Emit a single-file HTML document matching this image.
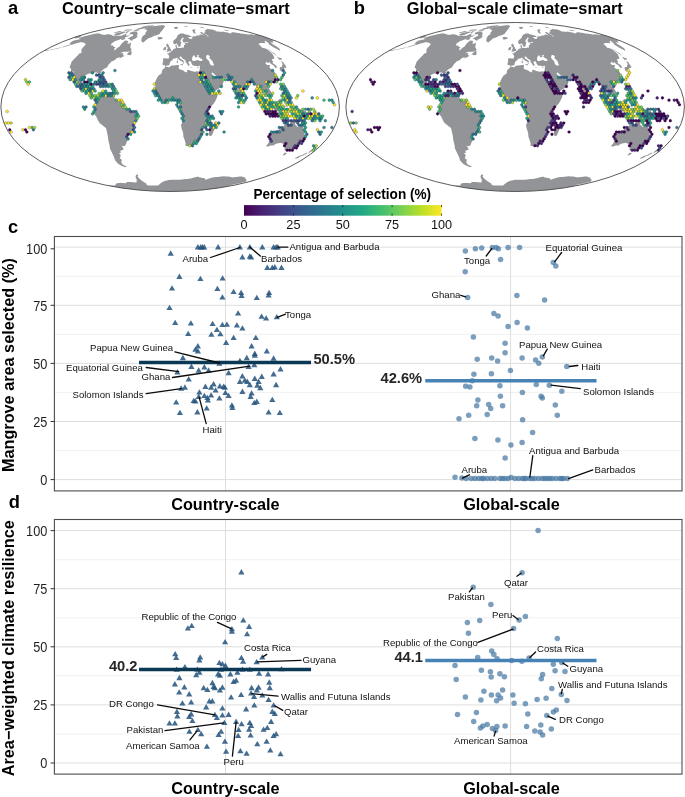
<!DOCTYPE html>
<html><head><meta charset="utf-8"><title>Figure</title>
<style>
html,body{margin:0;padding:0;background:#fff;}
body{width:685px;height:797px;overflow:hidden;font-family:"Liberation Sans",sans-serif;}
svg{display:block;font-family:"Liberation Sans",sans-serif;will-change:transform;}
.b{font-weight:bold;}
</style></head><body>
<svg width="685" height="797" viewBox="0 0 685 797">
<rect width="685" height="797" fill="#fff"/>
<g>
<path d="M79.5,37.8L83.4,36.6L87.4,35.4L89.5,34.9L91.6,34.4L93.6,33.9L94.9,33.7L96.1,33.5L97.4,33.4L98.6,33.2L98.8,33.3L99.0,33.4L99.3,33.5L99.5,33.7L99.7,33.8L100.1,33.9L100.5,34.0L100.9,34.1L101.3,34.2L101.7,34.4L102.1,34.5L102.5,34.6L102.9,34.7L103.4,34.8L103.8,35.0L104.9,34.8L106.0,34.6L107.0,34.5L108.1,34.3L109.1,34.2L109.4,34.3L109.8,34.4L110.1,34.6L110.6,34.7L111.1,34.8L111.6,34.9L112.2,35.0L112.3,35.2L112.4,35.5L112.5,35.8L113.3,35.8L114.0,35.8L114.8,35.8L115.5,35.8L116.3,35.8L117.1,35.8L117.8,35.8L118.6,35.8L119.3,35.8L120.1,35.8L120.9,35.8L121.6,35.8L123.5,34.8L125.5,33.9L127.5,33.0L126.9,33.7L126.4,34.3L125.9,35.0L126.2,35.2L126.4,35.5L126.7,35.8L127.9,35.4L129.2,35.0L130.5,34.6L129.1,35.6L127.8,36.6L126.6,36.8L125.5,37.1L124.3,37.4L122.6,38.2L120.9,39.1L119.7,39.5L118.4,39.9L117.1,40.4L115.8,40.8L113.7,42.1L111.6,43.5L111.1,44.4L110.7,45.3L111.5,45.5L112.3,45.6L113.1,45.8L113.5,46.3L114.0,46.9L114.7,47.0L115.5,47.2L114.8,48.1L114.0,49.1L114.4,49.8L114.9,50.5L116.0,49.3L117.1,48.1L118.5,47.2L119.8,46.2L120.6,45.1L121.3,43.9L122.5,42.8L123.6,41.7L125.3,40.4L126.0,40.5L126.8,40.7L127.5,40.8L127.9,41.2L128.4,41.7L127.7,42.6L127.1,43.5L127.7,43.5L128.4,43.6L129.1,43.7L131.1,42.3L130.9,43.6L130.7,44.8L130.5,46.0L130.3,47.2L130.7,48.0L131.1,48.8L131.5,49.5L131.0,50.5L129.8,50.9L128.6,51.4L127.4,51.8L126.4,51.8L125.3,51.8L124.2,51.8L123.2,51.8L121.6,52.6L120.0,53.5L121.0,53.3L122.1,53.1L123.2,53.0L122.7,54.5L123.2,55.0L123.8,55.5L124.4,56.0L122.9,56.7L121.4,57.5L120.4,58.0L119.3,58.5L119.8,57.0L118.6,57.5L117.4,58.0L116.2,58.5L115.0,60.1L113.8,60.6L112.7,61.1L111.5,61.6L110.2,62.9L108.9,64.2L107.9,65.8L107.0,67.4L105.7,68.1L104.3,68.7L102.7,70.0L101.2,71.2L100.7,72.9L100.3,74.5L99.9,76.2L99.6,77.2L99.2,78.2L98.2,77.8L98.2,76.4L98.2,75.1L98.0,74.0L97.9,72.9L97.1,72.7L96.3,72.5L95.3,72.6L94.3,72.6L93.3,72.6L92.7,74.0L91.9,73.8L91.1,73.6L90.1,73.5L89.0,73.4L87.4,74.2L85.7,75.1L84.8,76.7L83.9,78.4L83.1,80.1L82.4,81.8L82.6,83.4L83.0,85.1L84.1,86.1L85.3,85.8L86.5,85.6L87.5,84.2L88.6,82.9L89.7,82.7L90.8,82.5L91.9,82.3L91.3,83.7L90.7,85.1L89.9,86.9L89.1,88.6L90.2,88.6L91.2,88.7L92.3,89.0L93.4,89.4L93.1,91.0L92.8,92.6L92.5,93.5L92.3,94.5L92.7,95.4L93.2,96.4L94.4,96.4L95.5,96.4L96.5,96.0L97.2,96.5L98.0,97.1L98.4,97.7L99.1,96.3L99.9,94.9L101.4,94.1L102.4,93.5L103.4,92.9L103.7,94.5L105.2,93.1L106.1,93.9L106.9,94.6L108.0,94.8L109.0,94.9L110.1,95.1L111.3,94.9L112.5,94.6L113.3,96.0L114.5,97.7L115.6,98.9L116.7,100.1L118.1,100.2L119.5,100.3L120.7,101.0L121.8,101.8L122.5,103.5L123.1,105.3L123.1,107.0L124.1,107.6L125.0,108.2L126.1,108.7L127.2,109.3L128.3,109.9L129.7,110.2L131.2,110.5L132.6,110.9L134.0,111.4L135.0,112.0L136.0,112.6L137.0,113.1L137.3,114.4L137.6,115.7L137.0,117.0L136.4,118.4L135.8,119.7L135.0,120.9L134.2,122.0L134.3,123.5L134.4,125.1L134.5,126.6L134.2,128.3L134.0,130.0L133.7,131.1L133.4,132.2L132.1,132.8L130.8,133.4L129.8,133.9L128.8,134.5L128.1,135.6L127.5,136.7L127.6,138.1L127.8,139.5L127.2,140.9L126.6,142.2L125.9,143.9L125.4,145.5L124.5,145.9L123.6,146.3L122.5,145.9L121.3,145.5L122.3,146.8L123.3,148.2L123.4,149.8L122.3,150.1L121.3,150.5L120.3,150.8L120.6,151.9L120.8,152.9L119.8,152.9L118.8,152.9L120.5,154.5L120.5,155.8L120.5,157.0L120.0,157.5L119.6,158.0L120.7,158.9L121.9,159.8L121.5,160.9L121.3,162.0L121.7,163.0L122.2,164.0L123.4,164.9L124.5,165.5L125.6,166.1L126.7,166.6L126.2,166.9L125.6,167.1L125.0,167.3L123.5,166.6L121.9,165.9L120.2,164.9L118.4,164.0L117.2,162.7L116.0,161.4L114.9,160.0L114.5,158.5L114.1,157.0L113.4,155.7L112.7,154.3L112.1,152.9L111.4,151.5L110.7,150.1L110.0,148.7L109.8,147.3L109.6,145.8L109.4,144.4L109.0,143.0L108.6,141.5L108.3,140.0L108.1,138.6L107.9,137.1L107.8,135.6L107.4,134.2L107.1,132.8L106.8,131.4L106.5,130.0L106.2,129.0L106.0,128.1L104.6,127.0L103.3,126.0L102.1,125.1L100.9,124.1L99.7,123.2L99.0,122.0L98.3,120.9L97.6,119.5L97.0,118.2L96.4,116.8L95.3,115.4L94.2,113.9L93.9,112.2L95.0,110.5L94.1,109.5L94.3,108.6L94.5,107.6L94.9,105.8L96.1,105.3L96.7,103.8L97.4,102.4L97.5,100.9L97.6,99.5L97.2,98.6L96.8,97.2L96.0,96.6L94.9,98.3L94.0,98.0L92.6,97.4L91.8,96.4L91.0,95.4L90.4,94.3L89.8,93.1L89.2,92.0L88.1,91.5L87.0,91.1L86.1,90.6L85.2,90.2L84.3,89.2L83.5,88.3L82.3,88.6L81.1,88.8L79.9,88.1L78.7,87.4L77.7,86.9L76.8,86.4L75.9,85.9L75.3,85.0L74.7,84.0L75.1,82.9L75.5,81.8L75.0,80.1L74.6,78.4L74.3,77.0L74.1,75.6L73.6,74.5L73.1,73.4L73.4,72.4L73.8,71.4L73.1,71.3L72.4,71.2L71.7,72.9L71.6,74.5L71.7,76.2L71.9,77.6L72.1,79.0L72.3,80.6L71.8,80.3L71.4,79.3L71.1,78.4L70.8,77.0L70.6,75.6L70.7,74.2L70.8,72.9L71.0,71.5L71.2,70.1L71.0,68.5L70.3,68.2L69.7,68.0L69.9,66.7L70.2,65.5L70.8,64.2L71.2,63.0L71.6,61.8L72.8,60.4L74.0,59.0L75.2,57.9L76.3,56.8L77.5,55.7L78.4,54.6L79.3,53.6L80.3,53.3L81.2,53.0L81.4,52.2L81.5,51.5L81.4,50.8L81.3,50.0L82.0,48.8L82.8,47.6L83.7,46.7L84.6,45.8L85.3,44.8L86.0,43.9L85.4,43.8L84.9,43.7L84.7,43.2L84.6,42.8L83.9,42.7L83.2,42.6L82.5,42.6L82.0,42.4L81.5,42.3L81.0,42.1L79.5,42.5L78.0,42.9L76.6,43.3L74.7,43.8L72.9,44.4L70.7,45.1L68.4,45.8L66.7,46.2L65.0,46.7L63.2,47.2L62.2,47.3L61.1,47.5L60.1,47.6L62.3,46.9L64.6,46.2L66.8,45.5L69.1,44.7L71.3,43.9L70.6,43.8L70.0,43.8L69.3,43.7L70.3,42.8L71.3,41.9L73.1,40.8L76.0,39.9L77.3,39.7L78.5,39.5L79.7,39.3L81.1,38.7L80.4,38.7L79.7,38.7L78.9,38.7L79.2,38.2ZM145.2,28.3L146.3,28.0L147.3,27.7L148.3,27.4L149.3,27.1L150.3,26.9L151.2,26.7L152.1,26.4L153.1,26.2L153.6,26.2L154.1,26.1L154.7,26.0L155.2,26.0L155.7,25.9L156.2,25.9L156.7,25.8L157.2,25.8L157.7,25.7L158.3,25.6L158.8,25.6L159.3,25.5L159.7,25.4L160.2,25.4L160.7,25.3L161.2,25.2L161.6,25.2L162.1,25.1L162.3,25.1L162.6,25.2L162.9,25.2L163.2,25.2L163.5,25.3L163.8,25.3L164.1,25.4L164.3,25.5L164.5,25.7L164.7,25.9L164.9,26.0L165.2,26.2L164.7,26.9L164.1,27.6L163.6,28.4L162.9,29.4L162.2,30.4L161.3,31.5L160.3,32.6L159.8,33.8L159.0,34.2L158.2,34.6L157.4,35.0L156.7,35.2L155.9,35.4L155.2,35.6L154.5,35.8L153.6,36.2L152.7,36.6L151.9,37.0L151.0,37.4L150.1,37.7L149.2,38.0L148.3,38.2L146.8,39.5L145.3,40.8L144.3,41.7L143.4,42.6L142.7,42.2L142.0,41.9L141.6,41.1L141.2,40.4L141.5,39.1L141.8,37.8L142.4,36.8L143.1,35.8L144.2,35.0L145.4,34.2L145.4,33.4L145.6,32.6L146.4,31.5L147.3,30.4L147.0,30.2L146.8,30.0L146.6,29.8L146.4,29.6L145.9,29.5L145.4,29.5L145.0,29.4L144.5,29.4L144.7,29.0L145.0,28.6ZM136.6,31.4L136.8,31.6L137.0,31.8L137.2,32.0L137.2,32.4L137.3,32.7L137.4,33.0L137.5,33.4L137.6,33.8L137.7,34.2L137.2,35.0L136.8,35.8L137.1,36.1L137.4,36.4L137.8,36.7L136.7,37.5L135.7,38.2L134.3,38.9L132.8,39.5L132.2,40.8L131.5,40.6L130.8,40.4L130.4,40.0L130.0,39.7L129.6,39.3L129.1,39.0L128.7,38.7L128.0,38.5L127.3,38.4L128.5,37.9L129.6,37.4L131.4,36.6L133.2,35.8L133.1,35.4L133.1,35.0L133.0,34.6L133.0,34.2L132.2,34.2L131.5,34.2L130.8,34.2L130.1,34.2L129.9,33.9L129.7,33.7L129.5,33.4L130.6,32.6L131.8,31.9L132.7,31.7L133.6,31.5L134.5,31.4L135.0,31.4L135.5,31.4L136.1,31.4ZM117.0,33.0L118.2,32.7L119.5,32.4L120.7,32.2L121.9,31.9L122.8,31.8L123.6,31.7L124.5,31.6L125.3,31.5L125.2,31.8L125.2,32.1L125.1,32.4L125.1,32.6L122.0,33.8L119.0,35.0L118.1,35.1L117.2,35.2L116.3,35.3L115.3,35.4L115.0,35.2L114.6,35.0L114.3,34.8L114.0,34.6L115.5,33.8ZM114.3,32.6L117.0,31.8L119.8,30.9L120.2,31.0L120.7,31.0L121.1,31.1L121.6,31.1L122.1,31.2L118.8,32.3L117.6,32.5L116.3,32.7L115.0,33.0L113.7,33.2L114.0,32.9ZM136.7,29.4L137.1,29.4L137.6,29.4L138.0,29.5L138.5,29.5L138.9,29.5L139.4,29.5L140.3,29.3L141.1,29.1L142.0,28.9L142.9,28.7L143.9,28.5L144.8,28.2L145.7,28.0L146.7,27.7L147.7,27.5L148.7,27.2L149.6,27.0L150.6,26.7L151.6,26.5L153.0,26.1L154.4,25.6L154.2,25.6L154.0,25.5L153.8,25.5L153.7,25.4L153.5,25.4L153.3,25.3L153.0,25.3L152.6,25.3L152.2,25.3L151.8,25.3L151.5,25.3L151.1,25.4L150.7,25.4L150.1,25.4L149.5,25.5L148.9,25.6L148.2,25.7L147.6,25.8L147.0,25.8L146.3,25.9L145.2,26.1L144.2,26.4L143.1,26.6L142.0,26.8L142.0,26.9L142.1,27.1L142.1,27.2L142.2,27.3L142.3,27.4L141.5,27.6L140.6,27.7L139.8,27.9L138.9,28.1L137.8,28.7ZM135.9,29.4L136.3,29.5L136.8,29.5L137.2,29.6L137.6,29.6L138.1,29.7L138.5,29.8L139.0,29.8L139.4,29.9L137.9,30.7L137.3,30.7L136.7,30.7L136.1,30.7L135.5,30.7L134.9,30.7L134.3,30.7L133.7,30.7L133.1,30.7L134.5,30.0ZM125.6,29.7L126.3,29.7L127.1,29.6L127.8,29.6L128.5,29.5L129.3,29.5L130.0,29.4L130.4,29.4L130.8,29.4L131.3,29.5L131.7,29.5L132.2,29.5L132.6,29.5L131.9,30.0L131.2,30.4L130.6,30.4L130.0,30.4L129.5,30.4L128.9,30.4L128.4,30.4L127.7,30.5L126.9,30.6L126.2,30.7L125.5,30.8L125.1,30.7L124.7,30.7L124.3,30.6L124.0,30.5L123.6,30.4ZM127.5,31.3L128.1,31.3L128.6,31.3L129.1,31.3L129.6,31.3L128.6,32.0L127.7,32.6L126.9,32.8L126.1,33.0L125.9,32.8L125.7,32.6L125.6,32.4L125.4,32.3ZM123.2,37.8L124.3,37.6L125.4,37.4L125.3,38.0L125.2,38.5L125.1,39.1L123.8,39.6L122.5,40.1L121.9,39.9L121.4,39.7L120.9,39.5L122.0,38.7ZM126.6,54.3L128.0,52.9L129.4,51.5L130.4,51.0L131.4,50.4L131.4,51.4L131.5,52.4L131.6,53.5L131.1,55.0L130.0,55.3L129.3,55.1L128.7,55.0L128.0,54.7L127.3,54.5ZM93.9,81.8L95.4,81.1L97.0,80.4L98.1,80.7L99.2,80.9L100.3,81.2L101.2,82.1L102.1,82.9L103.1,83.8L102.0,83.9L101.0,84.0L100.0,84.1L99.8,83.2L98.6,82.5L97.5,81.8L96.6,81.8L95.7,81.8L94.8,81.8ZM102.4,85.7L103.3,84.9L104.3,84.1L105.5,84.2L106.8,84.2L107.3,84.9L107.9,85.6L106.9,85.8L105.9,86.1L104.7,86.5L103.5,86.1ZM98.9,85.8L99.8,85.9L100.7,85.9L99.9,86.5ZM157.2,37.8L157.9,37.4L158.5,37.1L159.2,37.1L159.9,37.1L160.6,37.1L161.2,37.2L161.8,37.3L162.4,37.4L162.8,38.2L161.8,38.9L161.0,39.1L160.2,39.4L159.4,39.6L158.8,39.5L158.1,39.3L157.5,39.2L158.1,38.4L157.6,38.1ZM162.8,65.3L162.6,64.3L162.5,63.4L162.9,62.2L163.2,61.1L163.1,59.9L163.0,58.8L164.0,58.2L165.0,58.3L166.0,58.4L167.1,58.5L167.9,58.6L168.8,58.6L169.0,57.3L169.3,56.0L168.3,54.7L167.5,54.1L166.7,53.6L167.5,53.5L168.3,53.4L169.1,53.3L168.9,52.3L169.6,52.4L170.3,52.5L171.3,51.1L171.9,50.9L172.6,50.6L173.0,49.8L173.4,49.1L174.1,48.8L174.9,48.6L175.5,48.4L176.0,48.1L175.6,46.7L175.4,45.3L176.1,45.0L176.8,44.7L176.8,45.4L176.9,46.2L176.7,47.2L177.6,48.1L178.5,47.7L179.2,47.9L179.8,48.1L180.7,47.9L181.6,47.7L182.5,47.5L183.6,47.7L184.0,46.7L183.8,45.3L184.5,44.8L185.1,44.9L185.7,45.1L184.9,43.9L184.8,43.2L185.6,43.1L186.5,43.0L187.3,42.9L187.9,42.8L188.4,42.6L187.3,42.1L186.7,42.2L186.0,42.3L185.3,42.4L184.6,42.5L183.8,42.6L182.9,41.7L182.7,40.8L182.4,39.9L183.0,39.2L183.6,38.4L183.8,37.8L182.9,37.7L182.1,37.6L182.0,38.7L181.5,39.1L181.0,39.6L180.5,40.1L180.5,40.9L180.4,41.7L181.0,42.1L181.6,42.6L181.1,43.3L180.6,43.9L180.7,44.8L180.8,45.8L180.2,46.2L179.6,46.7L178.6,46.7L178.0,45.5L177.4,44.4L176.6,43.2L175.9,43.7L175.2,44.2L174.4,43.9L173.6,43.7L173.4,42.7L173.1,41.7L173.6,40.4L174.4,39.8L175.2,39.3L175.9,38.5L176.6,37.8L176.9,37.0L177.1,36.2L177.6,35.6L178.1,35.1L178.6,34.6L179.2,34.2L179.8,34.0L180.3,33.8L180.8,33.5L181.5,33.5L182.2,33.4L182.9,33.5L183.6,33.5L184.3,33.9L184.9,34.2L185.7,34.4L186.4,34.6L187.1,34.8L187.7,34.9L188.4,35.0L189.3,35.4L190.2,35.8L191.2,36.2L191.6,37.1L191.0,37.1L190.3,37.1L189.7,37.1L189.0,37.0L188.4,36.9L187.7,36.8L188.3,37.5L189.0,38.2L189.9,38.7L190.8,39.1L191.5,38.8L192.2,38.5L191.7,37.4L192.3,37.3L192.9,37.3L193.5,37.2L192.9,36.4L192.2,35.5L193.4,36.0L194.6,36.6L195.1,36.3L195.7,36.0L196.2,35.8L196.7,35.5L197.4,35.5L198.0,35.4L198.7,35.4L199.3,35.3L200.0,35.3L199.4,34.3L200.2,34.5L201.0,34.6L201.8,34.8L202.6,35.0L203.3,35.2L204.1,35.4L202.6,34.4L201.1,33.4L200.5,32.6L199.9,31.9L200.6,32.0L201.3,32.1L202.0,32.3L203.7,33.4L205.5,34.6L207.3,35.8L208.0,37.0L208.3,36.8L208.6,36.6L207.8,35.8L207.0,35.0L205.4,34.0L203.8,33.0L203.9,32.8L204.1,32.6L204.5,32.5L204.9,32.4L205.2,32.3L204.4,31.5L204.9,31.4L205.3,31.3L205.8,31.2L206.2,31.2L204.8,30.4L205.0,30.3L205.2,30.1L205.4,29.9L205.6,29.7L205.9,29.7L206.3,29.6L206.7,29.5L207.0,29.5L207.3,29.4L207.2,29.1L207.0,28.9L206.8,28.6L208.1,28.9L209.4,29.2L210.3,29.3L211.3,29.5L212.2,29.6L213.2,29.7L214.9,30.4L216.6,31.2L216.4,31.3L216.2,31.4L215.9,31.5L215.7,31.7L216.3,31.6L216.8,31.6L217.4,31.6L217.9,31.5L218.8,31.6L219.6,31.7L220.5,31.8L221.4,31.9L221.7,31.8L222.0,31.7L222.3,31.6L222.6,31.5L224.1,31.9L225.7,32.3L227.3,32.6L228.9,33.1L230.6,33.5L230.8,33.4L231.0,33.3L231.3,33.1L231.5,33.0L231.5,32.8L231.5,32.6L231.6,32.4L231.6,32.3L232.3,32.3L233.0,32.3L233.7,32.3L234.4,32.4L235.1,32.4L236.4,32.7L237.7,32.9L239.0,33.1L240.3,33.4L241.3,33.5L242.4,33.7L243.4,33.8L244.4,33.9L245.4,34.0L246.4,34.2L247.5,34.4L248.6,34.6L249.0,34.5L249.4,34.4L249.8,34.3L250.2,34.2L252.2,34.6L254.2,35.0L254.6,34.9L255.0,34.8L255.4,34.7L255.8,34.6L257.2,34.8L258.6,35.0L262.0,36.0L265.3,37.1L268.5,38.2L268.5,38.4L268.6,38.7L271.1,39.5L273.7,40.4L273.3,40.5L272.9,40.7L272.4,40.8L272.8,41.2L273.1,41.7L273.3,42.1L273.6,42.6L272.8,42.6L272.1,42.6L271.3,42.6L270.5,42.6L271.8,43.5L273.1,44.4L275.4,45.8L277.7,47.2L278.7,48.1L279.7,49.1L280.0,49.7L280.2,50.4L280.5,51.0L278.2,49.7L275.8,48.4L273.4,47.2L271.5,46.0L269.5,44.8L269.2,44.2L268.7,43.5L268.0,42.8L267.2,42.1L266.3,41.5L265.4,40.8L265.0,41.0L264.6,41.2L264.8,41.7L265.0,42.1L265.1,42.6L265.1,42.9L265.1,43.2L264.2,43.1L263.2,43.1L262.3,43.0L261.6,43.1L260.9,43.1L260.2,43.2L259.6,43.2L259.2,43.4L258.8,43.7L258.4,43.9L259.9,45.3L261.3,46.7L262.5,48.1L263.2,48.1L263.9,48.1L265.3,48.6L266.7,49.1L267.9,50.0L269.1,51.0L270.9,52.5L272.6,54.0L273.1,55.0L273.6,56.0L274.0,57.3L274.3,58.7L273.3,58.9L272.3,59.0L271.9,59.7L272.6,60.9L273.3,62.1L272.8,62.4L272.2,62.7L274.1,64.0L275.9,65.3L276.5,66.3L277.2,67.2L276.5,67.7L275.7,68.1L274.6,66.7L273.4,65.3L271.5,64.2L270.4,63.2L269.3,62.1L268.6,62.7L267.8,63.2L266.9,61.6L266.3,62.3L265.7,63.0L265.3,63.7L267.3,65.1L268.2,65.0L269.1,64.9L270.0,64.9L269.8,65.9L269.5,66.9L269.6,67.7L271.1,68.9L272.5,70.1L273.6,71.2L274.8,72.3L275.3,73.6L275.8,74.8L275.7,76.3L275.6,77.8L275.0,79.0L274.4,80.1L273.4,80.7L272.3,81.4L271.4,81.8L270.5,82.2L269.6,82.5L269.6,83.7L267.6,82.1L266.6,82.9L266.4,84.0L266.2,85.1L267.5,86.6L268.6,88.0L269.5,89.3L270.4,90.7L271.2,92.0L271.4,93.7L270.5,94.4L269.6,95.1L268.9,96.0L268.2,96.9L267.8,95.4L266.8,94.9L265.9,94.3L264.6,92.6L263.4,91.5L262.8,92.6L262.7,93.7L262.6,94.9L263.2,96.2L263.9,97.5L265.2,99.1L266.7,100.6L267.3,102.4L267.7,103.9L268.1,105.4L267.4,105.3L266.3,104.5L265.3,103.8L264.8,102.2L264.2,100.6L263.3,98.9L262.0,97.7L262.0,96.6L261.9,95.4L261.7,94.0L261.5,92.6L260.8,91.1L260.1,89.7L259.7,88.7L259.2,87.8L258.4,88.3L257.7,88.8L256.7,88.6L256.5,87.4L256.3,86.3L255.5,85.1L254.8,84.0L252.9,82.3L252.1,81.2L251.2,81.2L250.1,82.0L249.2,82.2L248.4,82.3L248.4,84.0L247.2,84.6L246.4,86.2L245.5,87.9L244.7,88.5L243.9,89.1L244.1,90.4L244.4,91.6L244.4,93.4L244.4,95.1L243.8,96.2L243.1,96.7L242.6,97.6L241.3,96.0L240.8,94.7L240.2,93.5L239.7,92.5L239.2,91.4L238.5,90.0L237.9,88.6L237.1,86.9L236.3,85.1L236.0,84.0L235.8,82.9L235.2,81.8L234.2,83.1L233.2,82.3L232.2,81.4L233.0,80.6L232.0,80.3L231.0,80.0L229.8,78.6L228.5,78.4L227.2,78.2L225.8,78.2L224.5,78.2L223.4,78.0L222.4,77.9L221.3,77.7L220.1,76.2L219.2,76.3L218.4,76.5L217.2,76.1L216.0,75.6L215.0,74.8L214.1,74.0L212.7,72.6L211.4,72.9L212.2,74.5L213.1,75.5L214.0,76.5L214.5,77.8L215.2,77.3L215.9,79.0L217.0,79.1L218.1,79.3L218.9,78.1L219.7,76.9L220.0,78.0L220.3,79.0L221.4,79.5L222.4,80.0L223.7,81.2L223.3,82.3L223.0,83.4L222.6,85.1L221.7,86.3L220.5,87.4L219.3,88.2L218.1,89.0L217.2,89.6L216.3,90.2L215.4,90.8L214.2,91.3L213.0,91.8L211.8,92.2L210.4,92.3L210.0,91.1L209.6,89.9L209.3,89.0L209.1,88.0L208.0,86.3L206.9,84.6L206.0,83.4L205.2,82.3L204.6,80.9L203.9,79.5L203.1,78.4L202.3,77.3L201.4,76.2L200.6,75.1L200.2,73.4L200.1,74.3L200.0,75.3L199.1,74.1L198.2,72.9L197.7,71.6L198.5,71.5L199.3,71.4L199.5,70.5L199.7,69.6L199.8,68.2L199.9,66.9L199.7,65.6L198.5,65.9L197.3,66.3L196.3,66.0L195.2,65.8L194.1,65.7L193.1,65.6L192.3,64.8L191.8,63.9L191.3,63.0L191.2,61.9L190.7,61.4L189.9,61.3L189.1,61.3L188.9,62.1L188.2,61.7L188.6,63.0L189.6,64.2L189.2,65.8L188.6,65.8L187.9,65.5L187.3,63.9L186.5,62.9L185.6,61.8L185.5,60.9L185.4,60.1L184.1,59.4L182.9,58.7L182.0,57.7L181.1,56.8L180.5,56.4L179.4,56.7L179.6,57.8L180.8,59.0L181.8,59.6L182.7,60.3L183.8,61.1L184.9,61.9L183.6,61.6L183.4,63.2L183.8,63.4L182.9,64.3L182.8,63.2L182.7,62.1L182.0,61.6L181.2,61.1L180.5,60.7L179.7,60.3L179.0,59.6L178.3,59.0L177.6,58.3L176.9,57.6L175.9,58.2L175.0,58.5L174.0,58.7L173.3,58.8L172.6,58.8L172.7,60.2L171.7,60.6L170.8,61.1L169.9,62.7L169.7,63.6L169.6,64.5L168.5,65.5L167.5,65.6L166.5,65.6L165.5,66.4L165.0,65.5L164.0,65.1ZM61.1,47.3L59.3,47.7L57.5,48.1L55.7,48.5L54.0,49.0L52.5,49.2L51.0,49.5L49.6,49.7L48.1,49.9L47.1,50.0L46.0,50.1L45.0,50.1L43.8,50.8L44.8,50.7L45.9,50.7L46.9,50.6L48.4,50.4L49.8,50.1L51.3,49.9L52.8,49.6L54.6,49.2L56.3,48.8L58.1,48.4L59.9,47.9ZM81.7,35.0L81.5,35.2L81.4,35.5L81.2,35.8L81.1,36.0L80.9,36.3L80.8,36.6L80.1,37.0L79.5,37.4L77.1,38.0L74.8,38.7L74.9,38.4L75.0,38.1L75.1,37.8L75.5,37.5L76.0,37.1L73.9,37.7L71.8,38.2L75.0,37.1L78.3,36.0ZM166.1,52.0L166.9,51.8L167.7,51.7L168.5,51.5L169.4,51.3L170.2,51.1L171.1,50.9L171.2,50.1L171.3,49.4L170.4,49.1L170.0,47.6L169.1,46.7L168.8,46.2L168.9,45.5L168.9,44.8L168.2,44.8L167.6,44.8L168.3,43.8L167.7,43.8L167.0,43.8L166.2,44.8L166.6,46.2L166.8,47.2L167.8,47.3L168.1,48.6L167.1,48.8L167.2,49.5L166.5,50.2L167.3,50.4L168.1,50.5L167.0,51.0ZM163.2,50.5L164.1,50.3L165.0,50.1L165.9,49.8L166.0,49.0L166.1,48.1L166.3,47.2L165.7,47.0L165.2,46.9L164.3,47.4L163.4,47.9L163.6,49.1ZM180.3,64.2L181.1,64.2L181.9,64.1L182.8,64.0L182.6,65.6L181.5,65.1L180.3,64.7ZM176.6,61.1L177.8,61.1L177.8,62.0L177.9,63.0L176.9,63.2L176.8,62.1ZM176.8,59.5L177.5,59.0L177.6,60.6L177.1,60.6ZM189.6,66.8L190.8,67.0L192.0,67.1L191.9,67.4L190.8,67.3L189.6,67.2ZM197.0,67.4L197.9,67.1L198.7,66.7L198.4,67.5L197.3,67.9ZM198.1,72.9L198.7,74.0L199.3,75.1L199.9,76.2L200.5,77.3L201.1,78.4L201.7,79.5L202.5,80.6L203.4,81.8L203.7,83.4L204.0,85.1L204.9,86.6L205.7,88.0L207.0,89.7L208.0,90.8L209.0,92.0L210.3,92.8L210.1,93.7L211.6,94.9L212.7,94.5L213.8,94.1L215.1,93.8L216.4,93.4L217.6,93.1L217.6,94.9L217.3,96.3L216.9,97.7L216.0,99.5L215.2,101.2L214.3,102.7L213.4,104.1L212.2,105.3L211.1,106.4L210.1,107.9L209.2,109.3L207.7,111.1L207.2,112.2L206.7,113.4L206.9,114.8L207.1,116.3L207.5,117.7L207.8,119.1L207.8,120.7L207.7,122.2L207.7,123.7L207.0,124.9L206.3,126.0L205.1,126.8L203.9,127.5L202.9,128.7L201.8,130.0L201.8,131.7L201.9,133.4L200.6,134.8L199.3,136.2L199.0,137.6L198.7,138.9L197.8,140.0L196.8,141.1L195.7,142.5L194.7,143.9L193.5,144.7L192.3,145.5L191.3,145.6L190.4,145.6L189.4,145.7L188.1,146.0L186.8,146.3L186.1,145.9L185.5,145.5L185.5,144.4L185.6,143.3L185.2,142.0L184.9,140.8L184.5,139.5L183.9,138.1L183.4,136.7L183.3,135.4L183.2,134.1L183.1,132.8L182.6,131.3L182.1,129.8L181.5,128.3L181.3,126.6L181.0,124.9L181.8,123.2L182.7,121.4L182.6,119.7L182.5,118.0L182.2,116.6L181.9,115.3L181.6,113.9L181.3,112.8L180.9,111.6L179.9,110.2L178.9,108.7L179.0,107.3L179.1,105.8L179.2,104.4L179.4,102.9L178.4,101.8L177.6,101.8L176.7,101.9L175.3,101.2L174.2,99.7L172.9,99.8L171.6,99.9L170.2,100.6L168.7,101.2L167.3,101.2L166.4,101.1L165.5,101.0L164.3,101.4L163.1,101.9L162.3,101.4L161.5,100.9L160.5,99.9L159.4,99.0L158.6,98.1L157.8,97.2L157.6,95.4L156.2,94.3L155.4,93.4L154.6,92.6L154.7,90.8L154.0,90.0L154.5,89.0L155.0,88.0L155.2,86.6L155.4,85.1L155.1,84.0L154.8,82.9L155.4,81.5L155.9,80.1L156.6,78.7L157.4,77.3L158.1,76.3L158.8,75.3L159.7,74.7L160.6,74.2L161.8,72.9L161.8,71.2L162.4,70.2L163.0,69.3L163.7,68.8L164.5,68.3L164.9,67.4L165.3,66.6L165.8,66.5L166.7,66.8L167.7,67.1L168.5,67.2L169.3,67.2L170.2,66.5L171.0,65.8L172.0,65.6L173.0,65.4L174.0,65.4L174.9,65.3L175.9,65.3L177.1,65.1L178.3,65.0L179.1,65.3L178.8,66.9L178.7,68.5L179.6,69.3L180.3,69.5L181.1,69.7L182.1,70.0L183.1,70.4L183.9,71.1L184.7,71.8L185.8,72.1L186.9,72.4L187.2,71.2L187.2,70.1L188.0,69.9L188.7,69.7L190.1,70.5L191.4,71.0L192.5,71.3L193.6,71.6L194.5,71.7L195.4,71.8L196.6,71.2L197.7,71.6ZM215.9,120.9L216.1,122.2L216.3,123.5L216.5,124.9L215.9,126.0L215.4,127.1L214.7,128.9L213.9,130.6L213.2,132.2L212.5,133.9L211.7,135.6L210.8,135.9L209.9,136.2L209.0,134.5L209.0,133.4L209.0,132.2L209.6,131.1L210.2,130.0L210.3,128.3L210.4,126.6L211.4,125.9L212.4,125.2L213.5,123.9L214.5,122.6ZM244.7,95.7L246.0,97.2L246.7,98.9L246.0,99.9L245.1,100.1L244.9,98.9L244.6,97.7L244.7,96.7ZM280.5,70.7L280.0,69.7L279.5,68.7L279.8,67.9L280.0,67.1L281.1,67.0L282.2,66.8L282.1,65.9L282.0,65.1L282.4,64.7L282.9,64.2L282.3,63.2L281.7,62.1L281.0,60.7L282.2,61.5L283.3,62.3L283.9,63.3L284.5,64.2L285.4,65.3L286.2,66.4L286.5,67.4L285.5,67.8L284.3,67.9L284.0,69.1L282.9,69.3L281.9,69.6L281.7,70.1L282.0,71.6L281.3,71.6ZM280.0,60.5L279.3,59.6L278.5,58.8L277.8,57.7L277.1,56.6L279.3,57.7L280.6,58.0L281.9,58.4L281.6,59.0L281.9,60.1L280.9,59.8L279.9,59.6ZM276.6,56.0L274.9,54.6L273.2,53.3L271.5,52.0L270.0,50.8L268.5,49.7L267.0,48.6L269.7,50.0L270.9,51.0L272.2,52.0L274.2,53.0L275.2,54.0L276.1,55.0ZM277.5,80.6L277.3,79.4L277.1,78.2L278.1,78.6L278.4,80.2L278.7,81.8ZM268.8,84.9L269.7,84.0L270.7,84.5L270.3,85.9L269.1,85.7ZM259.5,100.5L260.5,100.7L261.6,101.0L263.1,102.7L264.6,104.5L265.6,105.7L266.5,106.9L267.5,108.2L268.6,109.4L269.7,110.7L269.5,112.2L269.3,113.7L268.1,113.7L267.0,112.6L265.9,111.4L265.2,109.8L264.5,108.2L263.7,106.6L262.9,105.0L262.1,104.0L261.3,102.9L260.4,101.7ZM268.6,114.9L270.1,113.9L271.0,114.4L271.9,114.9L272.9,114.7L273.9,114.5L274.8,114.8L275.6,115.0L276.4,115.5L277.2,116.0L276.9,116.9L275.6,116.8L274.3,116.6L272.9,116.4L271.9,116.1L270.8,115.8L269.8,115.6ZM272.6,105.3L273.6,105.0L274.7,104.1L275.5,103.7L276.3,103.3L277.6,101.6L278.2,100.5L278.8,99.5L279.7,98.9L280.8,99.9L281.9,101.0L280.9,102.0L280.8,103.1L280.8,104.1L281.8,105.8L280.6,107.0L279.7,108.7L279.5,110.1L279.4,111.4L278.5,111.5L277.6,111.6L276.3,110.8L274.9,110.5L273.7,108.7L272.6,107.0ZM282.2,113.4L282.3,112.2L282.4,111.1L281.8,110.2L282.3,108.6L282.8,107.0L283.7,105.6L284.8,105.8L285.8,106.0L286.7,105.6L287.7,105.1L287.2,106.5L286.1,106.5L285.0,106.5L283.9,106.5L283.3,108.2L284.4,108.2L285.2,108.1L286.1,108.0L284.8,109.1L284.3,110.2L285.2,111.1L285.6,112.2L285.0,113.1L284.2,112.4L284.0,111.5L283.8,110.5L283.4,110.5L283.2,111.9L283.0,113.4ZM293.3,107.9L294.5,107.9L295.7,107.8L296.0,108.9L296.3,109.9L297.4,110.8L298.4,109.9L299.4,109.0L300.5,109.3L301.6,109.7L302.6,110.0L303.7,110.5L304.8,110.9L305.8,111.4L306.4,112.4L307.0,113.4L307.8,113.8L308.6,114.2L307.7,115.1L308.2,116.3L308.7,117.4L309.5,118.2L310.3,118.9L308.9,118.9L307.9,118.2L306.9,117.4L306.1,116.7L305.3,115.9L303.5,117.6L302.6,117.5L301.7,117.4L300.9,116.8L300.1,116.3L299.1,116.6L299.3,115.1L299.5,113.4L298.4,112.7L297.3,112.1L296.2,111.9L295.0,111.6L294.8,110.2L294.2,109.5ZM279.8,85.7L280.6,85.8L281.4,85.8L281.8,86.9L282.2,88.0L282.0,89.7L283.2,90.8L284.9,92.0L284.5,92.2L282.8,91.1L281.7,91.1L280.8,89.9L280.1,88.3L280.0,87.0ZM284.3,98.9L284.9,98.0L285.5,97.1L286.3,96.4L287.1,95.8L287.8,97.1L288.5,98.3L288.2,99.7L287.7,100.4L286.3,99.5L285.7,98.3ZM283.4,93.4L284.2,93.0L285.0,92.6L286.6,93.1L286.6,94.3L286.6,95.4L285.3,96.0L284.1,94.9ZM278.3,116.6L279.3,116.6L280.3,116.6L281.3,116.6L282.6,116.6L283.8,116.6L285.1,116.6L286.0,116.7L286.9,116.8L287.8,116.8L288.8,116.7L287.7,117.4L286.7,118.0L285.3,118.9L284.2,118.6L283.1,118.3L282.0,118.0L280.7,117.7L279.3,117.4ZM272.2,132.2L272.7,132.0L274.1,131.3L275.5,130.7L276.7,130.3L277.8,130.0L279.2,129.4L280.5,128.9L281.3,127.7L282.0,126.6L283.1,126.9L283.9,125.7L284.8,124.7L285.8,123.7L287.4,123.0L288.2,124.1L289.6,124.2L290.1,123.1L290.6,122.0L291.6,121.1L292.4,120.7L293.3,120.3L293.1,121.0L294.2,121.0L295.3,121.1L296.2,121.0L297.0,120.9L295.8,122.6L294.9,124.3L295.6,124.9L296.3,125.4L296.9,126.2L297.4,126.9L298.7,127.1L299.6,125.7L300.4,124.3L300.9,122.9L301.3,121.5L302.0,120.5L302.7,119.4L302.9,120.6L303.0,121.8L302.9,122.7L302.7,123.6L303.9,124.2L303.7,125.7L303.5,127.1L303.1,128.7L303.8,129.5L304.4,130.2L304.3,131.3L304.2,132.5L304.6,133.9L304.9,134.9L305.1,135.9L304.7,137.2L304.2,138.4L303.0,140.0L301.7,141.4L300.4,142.8L298.9,143.9L297.4,144.9L295.7,146.3L294.0,147.6L292.2,149.2L291.0,149.5L289.8,149.8L287.7,150.9L287.4,150.5L287.2,150.1L285.7,150.6L285.1,150.2L284.4,149.9L284.5,148.7L285.3,147.4L284.4,147.2L285.3,146.1L286.1,144.9L285.2,145.9L284.3,146.8L283.7,146.7L283.1,146.6L282.9,146.3L283.2,145.3L283.5,144.2L282.8,143.8L282.2,143.3L281.1,143.1L280.0,142.9L278.4,143.3L276.9,143.6L275.8,144.0L274.7,144.4L273.6,145.4L272.6,145.4L271.7,145.4L270.7,145.4L269.4,146.0L268.2,146.6L267.4,146.6L266.5,146.6L266.2,145.8L267.3,144.6L268.4,143.3L268.7,142.2L269.1,141.1L269.5,139.8L269.9,138.4L270.0,137.3L270.1,136.2L271.1,134.5L271.6,133.4ZM284.7,152.6L285.2,152.8L285.7,153.0L286.5,152.9L287.2,152.8L285.9,154.2L284.0,155.3L282.5,155.6L283.2,154.5L284.0,153.5ZM314.3,145.9L314.1,146.9L313.8,147.8L314.2,148.5L313.4,149.4L314.3,149.4L315.3,149.4L312.8,151.0L311.8,151.3L309.2,152.9L307.7,153.5L307.7,153.2L309.6,151.9L309.4,151.2L311.8,149.8L313.1,148.5L313.5,147.5L313.9,146.6ZM307.2,152.4L307.0,153.4L305.4,154.3L303.8,155.2L302.4,155.8L300.9,156.3L299.6,157.1L298.3,157.9L297.0,158.3L295.8,158.7L295.4,158.4L294.9,158.0L296.7,157.2L298.4,156.3L300.3,155.6L302.1,155.0L304.0,153.9L305.9,152.9ZM193.5,33.0L193.4,32.4L193.2,31.9L192.7,31.2L192.2,30.4L192.4,30.1L192.6,29.8L192.7,29.5L193.1,29.5L193.5,29.4L193.9,29.4L194.3,29.3L194.7,29.2L195.1,29.2L195.4,29.6L195.6,29.9L195.4,30.2L195.1,30.4L194.8,30.6L194.5,30.8L194.9,31.5L195.2,32.3L195.6,32.9L196.0,33.6L195.4,33.5L194.7,33.5ZM173.7,27.7L174.1,27.5L174.4,27.3L174.7,27.1L175.1,27.1L175.5,27.0L175.9,26.9L176.3,26.9L176.7,26.8L177.1,26.9L177.5,27.0L178.0,27.0L178.4,27.1L178.2,27.3L178.0,27.6L177.8,27.8L177.5,28.1L177.3,28.4L177.0,28.7L176.7,29.1L176.2,29.1L175.7,29.2L175.1,28.8L174.6,28.4L174.2,28.1ZM201.1,27.7L200.6,27.4L200.0,27.1L199.4,26.8L198.8,26.5L199.9,26.7L201.1,27.0L202.2,27.2L203.4,27.4L203.7,27.7L204.1,27.9L204.4,28.1L204.6,28.4L203.7,28.2L202.9,28.1L202.0,27.9ZM223.5,30.1L223.8,30.0L224.1,29.9L224.3,29.8L224.6,29.7L225.5,29.8L226.5,30.0L227.4,30.1L228.4,30.2L229.3,30.3L229.3,30.4L229.2,30.5L229.1,30.7L229.1,30.8L228.5,30.8L227.9,30.8L227.4,30.8L226.8,30.8L226.2,30.8ZM184.1,26.8L184.3,26.7L184.5,26.6L184.7,26.5L184.9,26.4L185.1,26.3L185.3,26.2L185.8,26.3L186.3,26.3L186.8,26.4L187.4,26.4L187.9,26.5L187.9,26.7L187.9,26.9L187.9,27.1L187.5,27.1L187.1,27.1L186.7,27.1L186.3,27.1L185.9,27.1L185.5,27.1L184.8,27.0ZM108.1,185.6L108.6,185.6L109.1,185.6L109.6,185.6L110.0,185.6L110.5,185.6L111.0,185.6L111.5,185.6L112.0,185.6L112.5,185.6L113.0,185.6L113.5,185.6L114.0,185.6L114.5,185.6L115.0,185.6L115.0,185.5L115.1,185.4L115.2,185.3L115.3,185.2L115.4,185.1L115.6,185.0L115.7,184.9L115.6,184.8L115.6,184.7L115.6,184.5L115.6,184.4L115.6,184.2L115.6,184.1L115.6,183.9L115.9,183.8L116.1,183.7L116.3,183.6L116.6,183.5L116.8,183.4L117.1,183.3L117.3,183.2L117.8,183.2L118.2,183.1L118.6,183.1L119.1,183.0L119.5,182.9L120.0,182.9L120.4,182.8L121.1,182.9L121.9,182.9L122.6,183.0L123.3,183.1L124.0,183.1L124.7,183.2L125.5,183.2L125.7,183.1L125.9,182.9L126.1,182.7L126.3,182.6L126.6,182.4L126.8,182.3L127.1,182.1L127.7,182.1L128.3,182.1L128.9,182.1L129.5,182.1L130.2,182.1L130.8,182.1L131.4,182.1L132.1,182.2L132.8,182.2L133.5,182.3L134.2,182.3L134.9,182.4L135.6,182.4L136.3,182.5L136.4,182.2L136.5,181.9L136.6,181.6L136.7,181.4L136.7,181.0L136.7,180.6L136.7,180.2L136.8,179.8L136.4,179.0L136.0,178.2L135.7,177.4L135.5,176.6L135.7,176.0L135.9,175.3L136.3,175.0L136.7,174.7L137.2,174.3L138.3,174.9L138.0,175.5L137.8,176.0L137.6,176.6L138.6,177.8L139.7,179.0L141.3,180.2L142.9,181.4L144.6,182.5L146.3,183.6L146.4,184.0L146.6,184.4L146.9,184.9L147.1,185.3L147.7,185.3L148.3,185.3L148.9,185.4L149.5,185.4L150.1,185.4L150.6,185.5L151.2,185.5L151.8,185.5L152.3,185.6L152.9,185.6L153.4,185.6L153.9,185.6L154.4,185.6L154.9,185.6L155.4,185.6L155.9,185.6L156.4,185.6L156.8,185.6L157.2,185.6L157.6,185.6L158.1,185.6L158.3,185.3L158.6,185.1L158.9,184.8L159.2,184.5L159.5,184.3L159.8,184.0L160.1,183.7L160.5,183.4L160.9,183.1L161.3,182.8L161.7,182.5L162.2,182.2L162.6,182.0L163.1,181.7L163.6,181.5L164.2,181.2L164.7,181.0L165.3,180.8L165.9,180.7L166.5,180.5L167.2,180.4L167.8,180.2L168.4,180.1L169.0,180.0L169.6,179.9L170.2,179.8L170.8,179.8L171.5,179.8L172.2,179.8L172.9,179.8L173.6,179.8L174.2,179.8L174.9,179.8L175.6,179.8L176.3,179.8L177.0,179.8L177.6,179.8L178.3,179.8L179.0,179.8L179.7,179.8L180.4,179.7L181.1,179.6L181.9,179.5L182.6,179.4L183.4,179.3L184.1,179.2L184.9,179.0L185.5,179.0L186.1,179.0L186.7,179.0L187.3,179.0L188.0,178.9L188.7,178.8L189.4,178.7L190.1,178.6L190.9,178.4L191.6,178.2L192.4,178.0L193.2,177.8L194.1,177.6L195.0,177.3L196.0,177.1L196.9,176.9L197.9,176.6L198.4,176.8L198.8,177.0L199.3,177.2L199.8,177.4L200.3,177.5L200.9,177.6L201.4,177.7L201.9,177.8L202.6,177.9L203.2,178.0L203.9,178.1L204.5,178.2L204.7,178.6L204.9,179.0L205.0,179.4L205.7,179.4L206.5,179.4L207.7,179.0L209.0,178.6L210.3,178.2L211.5,177.8L212.8,177.4L213.7,177.3L214.6,177.2L215.5,177.1L216.5,177.0L217.3,176.9L218.2,176.9L219.1,176.8L219.9,176.7L220.8,176.6L221.6,176.5L222.5,176.4L223.3,176.3L224.1,176.2L224.6,176.3L225.1,176.4L225.6,176.5L226.1,176.6L226.8,176.6L227.5,176.6L228.1,176.6L228.8,176.6L229.3,176.7L229.7,176.8L230.2,176.9L230.7,177.0L231.1,177.1L231.6,177.2L232.0,177.3L232.5,177.4L233.4,177.3L234.2,177.2L235.1,177.1L235.9,177.0L236.8,176.9L237.7,176.8L238.6,176.7L239.5,176.6L240.1,176.6L240.8,176.6L241.5,176.6L242.1,176.6L242.5,176.8L242.8,176.9L243.1,177.0L243.5,177.2L244.0,177.2L244.5,177.3L245.0,177.4L245.5,177.4L245.4,177.7L245.2,178.0L245.1,178.3L244.9,178.6L245.3,178.7L245.6,178.8L246.0,178.9L246.3,179.0L246.4,179.2L246.4,179.4L246.4,179.6L246.4,179.8L246.4,180.0L246.4,180.2L246.4,180.4L246.3,180.6L246.3,180.8L246.2,181.0L246.1,181.2L246.0,181.4L242.2,182.5L238.2,183.6L235.8,184.0L233.4,184.4L231.0,184.9L228.6,185.3L228.6,185.4L228.7,185.4L228.7,185.5L228.8,185.6L229.3,185.6L229.8,185.6L230.3,185.6L230.7,185.6L231.2,185.6L231.7,185.6L232.2,185.6L227.1,186.6L221.7,187.5L215.9,188.4L209.6,189.2L202.8,189.9L195.1,190.6L185.9,191.1L170.2,191.5L170.2,191.5L170.2,191.5L170.2,191.5L170.2,191.5L170.2,191.5L170.2,191.5L170.2,191.5L170.2,191.5L170.2,191.5L170.2,191.5L170.2,191.5L170.2,191.5L170.2,191.5L170.2,191.5L170.2,191.5L170.2,191.5L170.2,191.5L170.2,191.5L170.2,191.5L170.2,191.5L170.2,191.5L170.2,191.5L170.2,191.5L170.2,191.5L170.2,191.5L170.2,191.5L170.2,191.5L170.2,191.5L170.2,191.5L170.2,191.5L170.2,191.5L170.2,191.5L170.2,191.5L170.2,191.5L170.2,191.5L170.2,191.5L170.2,191.5L170.2,191.5L170.2,191.5L170.2,191.5L170.2,191.5L170.2,191.5L170.2,191.5L170.2,191.5L170.2,191.5L170.2,191.5L170.2,191.5L170.2,191.5L170.2,191.5L170.2,191.5L170.2,191.5L170.2,191.5L170.2,191.5L170.2,191.5L170.2,191.5L170.2,191.5L170.2,191.5L170.2,191.5L170.2,191.5L170.2,191.5L170.2,191.5L170.2,191.5L170.2,191.5L170.2,191.5L170.2,191.5L170.2,191.5L170.2,191.5L170.2,191.5L170.2,191.5L170.2,191.5L170.2,191.5L170.2,191.5L170.2,191.5L170.2,191.5L170.2,191.5L170.2,191.5L170.2,191.5L170.2,191.5L170.2,191.5L170.2,191.5L170.2,191.5L170.2,191.5L170.2,191.5L170.2,191.5L170.2,191.5L170.2,191.5L170.2,191.5L170.2,191.5L170.2,191.5L170.2,191.5L170.2,191.5L170.2,191.5L170.2,191.5L170.2,191.5L170.2,191.5L170.2,191.5L170.2,191.5L170.2,191.5L170.2,191.5L170.2,191.5L170.2,191.5L170.2,191.5L170.2,191.5L170.2,191.5L170.2,191.5L170.2,191.5L170.2,191.5L170.2,191.5L170.2,191.5L170.2,191.5L170.2,191.5L170.2,191.5L170.2,191.5L170.2,191.5L170.2,191.5L170.2,191.5L170.2,191.5L170.2,191.5L170.2,191.5L170.2,191.5L170.2,191.5L170.2,191.5L170.2,191.5L170.2,191.5L170.2,191.5L170.2,191.5L170.2,191.5L170.2,191.5L170.2,191.5L170.2,191.5L170.2,191.5L170.2,191.5L170.2,191.5L170.2,191.5L170.2,191.5L170.2,191.5L170.2,191.5L170.2,191.5L170.2,191.5L170.2,191.5L170.2,191.5L170.2,191.5L170.2,191.5L170.2,191.5L170.2,191.5L170.2,191.5L170.2,191.5L170.2,191.5L170.2,191.5L170.2,191.5L170.2,191.5L170.2,191.5L170.2,191.5L170.2,191.5L170.2,191.5L170.2,191.5L170.2,191.5L170.2,191.5L170.2,191.5L170.2,191.5L170.2,191.5L170.2,191.5L170.2,191.5L170.2,191.5L170.2,191.5L170.2,191.5L170.2,191.5L170.2,191.5L170.2,191.5L170.2,191.5L170.2,191.5L170.2,191.5L170.2,191.5L170.2,191.5L170.2,191.5L170.2,191.5L170.2,191.5L170.2,191.5L170.2,191.5L170.2,191.5L170.2,191.5L170.2,191.5L170.2,191.5L170.2,191.5L170.2,191.5L170.2,191.5L170.2,191.5L170.2,191.5L170.2,191.5L170.2,191.5L170.2,191.5L170.2,191.5L170.2,191.5L170.2,191.5L170.2,191.5L170.2,191.5L170.2,191.5L170.2,191.5L170.2,191.5L170.2,191.5L170.2,191.5L170.2,191.5L170.2,191.5L170.2,191.5L170.2,191.5L170.2,191.5L170.2,191.5L170.2,191.5L170.2,191.5L170.2,191.5L170.2,191.5L170.2,191.5L170.2,191.5L170.2,191.5L170.2,191.5L170.2,191.5L170.2,191.5L170.2,191.5L170.2,191.5L170.2,191.5L170.2,191.5L170.2,191.5L170.2,191.5L170.2,191.5L170.2,191.5L170.2,191.5L170.2,191.5L170.2,191.5L170.2,191.5L170.2,191.5L170.2,191.5L170.2,191.5L170.2,191.5L170.2,191.5L170.2,191.5L170.2,191.5L170.2,191.5L170.2,191.5L170.2,191.5L170.2,191.5L154.4,191.1L145.2,190.6L137.5,189.9L130.7,189.2L124.4,188.4L118.6,187.5L113.2,186.6Z" fill="#929497"/>
<path d="M206.5,55.2L207.4,55.1L208.3,55.0L210.1,56.5L209.6,57.0L209.0,57.5L210.0,58.5L211.0,59.5L211.8,60.4L212.7,61.3L212.9,62.2L213.2,63.2L213.7,64.2L214.1,65.3L213.3,65.5L212.4,65.6L211.4,65.2L210.5,64.8L209.9,63.7L209.4,62.7L209.4,61.6L208.2,60.3L206.9,59.0L206.0,57.5L206.3,56.3ZM193.0,60.9L194.0,60.9L195.0,60.9L195.8,60.6L196.7,60.3L197.5,60.1L198.8,60.6L200.1,61.1L201.0,60.9L201.9,60.7L202.8,60.6L201.9,59.0L200.5,58.2L199.1,57.5L198.3,56.7L198.7,55.7L199.0,54.8L198.1,55.1L197.2,55.4L196.3,55.7L197.7,56.7L197.1,57.0L196.4,57.2L195.7,57.5L194.6,56.5L195.2,55.9L194.2,55.6L193.2,55.4L192.6,56.8L192.1,58.0L192.1,59.0L192.0,60.1Z" fill="#fff"/>
<path d="M117.58,100.94L116.24,101.72L114.89,100.94L114.89,99.39L116.24,98.62L117.58,99.39ZM125.47,105.50L124.12,106.27L122.78,105.50L122.78,103.95L124.12,103.17L125.47,103.95ZM139.93,116.88L138.59,117.66L137.25,116.88L137.25,115.34L138.59,114.56L139.93,115.34ZM196.48,141.94L195.13,142.71L193.79,141.94L193.79,140.39L195.13,139.62L196.48,140.39ZM204.37,132.83L203.03,133.60L201.68,132.83L201.68,131.28L203.03,130.51L204.37,131.28ZM208.31,126.00L206.97,126.77L205.63,126.00L205.63,124.45L206.97,123.67L208.31,124.45ZM72.87,78.16L71.53,78.94L70.18,78.16L70.18,76.62L71.53,75.84L72.87,76.62ZM76.81,85.00L75.47,85.77L74.13,85.00L74.13,83.45L75.47,82.67L76.81,83.45ZM83.39,91.83L82.05,92.61L80.70,91.83L80.70,90.28L82.05,89.51L83.39,90.28ZM86.02,91.83L84.68,92.61L83.33,91.83L83.33,90.28L84.68,89.51L86.02,90.28ZM92.59,98.66L91.25,99.44L89.91,98.66L89.91,97.12L91.25,96.34L92.59,97.12ZM100.48,98.66L99.14,99.44L97.80,98.66L97.80,97.12L99.14,96.34L100.48,97.12ZM91.28,87.28L89.94,88.05L88.59,87.28L88.59,85.73L89.94,84.95L91.28,85.73ZM111.00,85.00L109.66,85.77L108.32,85.00L108.32,83.45L109.66,82.67L111.00,83.45ZM118.89,94.11L117.55,94.88L116.21,94.11L116.21,92.56L117.55,91.79L118.89,92.56ZM92.59,94.11L91.25,94.88L89.91,94.11L89.91,92.56L91.25,91.79L92.59,92.56ZM93.91,96.39L92.57,97.16L91.22,96.39L91.22,94.84L92.57,94.06L93.91,94.84ZM272.75,82.72L271.40,83.49L270.06,82.72L270.06,81.17L271.40,80.40L272.75,81.17ZM283.27,78.16L281.93,78.94L280.58,78.16L280.58,76.62L281.93,75.84L283.27,76.62ZM281.95,80.44L280.61,81.22L279.27,80.44L279.27,78.89L280.61,78.12L281.95,78.89ZM264.86,105.50L263.51,106.27L262.17,105.50L262.17,103.95L263.51,103.17L264.86,103.95ZM263.54,107.77L262.20,108.55L260.86,107.77L260.86,106.23L262.20,105.45L263.54,106.23ZM270.12,110.05L268.77,110.83L267.43,110.05L267.43,108.50L268.77,107.73L270.12,108.50ZM271.43,107.77L270.09,108.55L268.75,107.77L268.75,106.23L270.09,105.45L271.43,106.23ZM264.86,91.83L263.51,92.61L262.17,91.83L262.17,90.28L263.51,89.51L264.86,90.28ZM270.12,87.28L268.77,88.05L267.43,87.28L267.43,85.73L268.77,84.95L270.12,85.73ZM281.95,85.00L280.61,85.77L279.27,85.00L279.27,83.45L280.61,82.67L281.95,83.45ZM281.95,89.55L280.61,90.33L279.27,89.55L279.27,88.00L280.61,87.23L281.95,88.00ZM283.27,96.39L281.93,97.16L280.58,96.39L280.58,94.84L281.93,94.06L283.27,94.84ZM271.43,98.66L270.09,99.44L268.75,98.66L268.75,97.12L270.09,96.34L271.43,97.12ZM276.69,103.22L275.35,103.99L274.01,103.22L274.01,101.67L275.35,100.90L276.69,101.67ZM279.32,107.77L277.98,108.55L276.64,107.77L276.64,106.23L277.98,105.45L279.32,106.23ZM280.64,110.05L279.30,110.83L277.95,110.05L277.95,108.50L279.30,107.73L280.64,108.50ZM280.64,114.61L279.30,115.38L277.95,114.61L277.95,113.06L279.30,112.28L280.64,113.06ZM283.27,100.94L281.93,101.72L280.58,100.94L280.58,99.39L281.93,98.62L283.27,99.39ZM281.95,103.22L280.61,103.99L279.27,103.22L279.27,101.67L280.61,100.90L281.95,101.67ZM281.95,107.77L280.61,108.55L279.27,107.77L279.27,106.23L280.61,105.45L281.95,106.23ZM281.95,112.33L280.61,113.10L279.27,112.33L279.27,110.78L280.61,110.01L281.95,110.78ZM285.90,110.05L284.56,110.83L283.21,110.05L283.21,108.50L284.56,107.73L285.90,108.50ZM285.90,119.16L284.56,119.94L283.21,119.16L283.21,117.61L284.56,116.84L285.90,117.61ZM292.47,107.77L291.13,108.55L289.79,107.77L289.79,106.23L291.13,105.45L292.47,106.23ZM296.42,114.61L295.07,115.38L293.73,114.61L293.73,113.06L295.07,112.28L296.42,113.06ZM299.05,110.05L297.70,110.83L296.36,110.05L296.36,108.50L297.70,107.73L299.05,108.50ZM300.36,112.33L299.02,113.10L297.68,112.33L297.68,110.78L299.02,110.01L300.36,110.78ZM300.36,116.88L299.02,117.66L297.68,116.88L297.68,115.34L299.02,114.56L300.36,115.34ZM302.99,112.33L301.65,113.10L300.31,112.33L300.31,110.78L301.65,110.01L302.99,110.78ZM312.20,110.05L310.86,110.83L309.51,110.05L309.51,108.50L310.86,107.73L312.20,108.50ZM321.40,116.88L320.06,117.66L318.72,116.88L318.72,115.34L320.06,114.56L321.40,115.34ZM324.03,116.88L322.69,117.66L321.35,116.88L321.35,115.34L322.69,114.56L324.03,115.34ZM316.14,148.77L314.80,149.55L313.46,148.77L313.46,147.22L314.80,146.45L316.14,147.22ZM325.35,100.94L324.00,101.72L322.66,100.94L322.66,99.39L324.00,98.62L325.35,99.39ZM235.93,91.83L234.59,92.61L233.24,91.83L233.24,90.28L234.59,89.51L235.93,90.28ZM242.50,94.11L241.16,94.88L239.82,94.11L239.82,92.56L241.16,91.79L242.50,92.56ZM243.82,100.94L242.47,101.72L241.13,100.94L241.13,99.39L242.47,98.62L243.82,99.39ZM245.13,94.11L243.79,94.88L242.45,94.11L242.45,92.56L243.79,91.79L245.13,92.56ZM245.13,103.22L243.79,103.99L242.45,103.22L242.45,101.67L243.79,100.90L245.13,101.67ZM203.05,75.89L201.71,76.66L200.37,75.89L200.37,74.34L201.71,73.56L203.05,74.34ZM209.63,82.72L208.28,83.49L206.94,82.72L206.94,81.17L208.28,80.40L209.63,81.17ZM226.72,80.44L225.38,81.22L224.04,80.44L224.04,78.89L225.38,78.12L226.72,78.89ZM210.94,121.44L209.60,122.21L208.26,121.44L208.26,119.89L209.60,119.12L210.94,119.89ZM182.01,103.22L180.67,103.99L179.33,103.22L179.33,101.67L180.67,100.90L182.01,101.67ZM180.70,110.05L179.35,110.83L178.01,110.05L178.01,108.50L179.35,107.73L180.70,108.50ZM30.79,82.72L29.45,83.49L28.10,82.72L28.10,81.17L29.45,80.40L30.79,81.17ZM33.42,128.27L32.08,129.05L30.73,128.27L30.73,126.72L32.08,125.95L33.42,126.72Z" fill="#44bf70" stroke="#1e1a30" stroke-opacity="0.65" stroke-width="0.35"/>
<path d="M120.21,100.94L118.87,101.72L117.52,100.94L117.52,99.39L118.87,98.62L120.21,99.39ZM122.84,100.94L121.50,101.72L120.15,100.94L120.15,99.39L121.50,98.62L122.84,99.39ZM124.15,103.22L122.81,103.99L121.47,103.22L121.47,101.67L122.81,100.90L124.15,101.67ZM133.36,132.83L132.02,133.60L130.67,132.83L130.67,131.28L132.02,130.51L133.36,131.28ZM135.99,123.72L134.65,124.49L133.30,123.72L133.30,122.17L134.65,121.39L135.99,122.17ZM247.76,85.00L246.42,85.77L245.08,85.00L245.08,83.45L246.42,82.67L247.76,83.45ZM250.39,85.00L249.05,85.77L247.71,85.00L247.71,83.45L249.05,82.67L250.39,83.45ZM75.50,78.16L74.16,78.94L72.81,78.16L72.81,76.62L74.16,75.84L75.50,76.62ZM74.18,80.44L72.84,81.22L71.50,80.44L71.50,78.89L72.84,78.12L74.18,78.89ZM89.96,94.11L88.62,94.88L87.28,94.11L87.28,92.56L88.62,91.79L89.96,92.56ZM87.33,89.55L85.99,90.33L84.65,89.55L84.65,88.00L85.99,87.23L87.33,88.00ZM93.91,91.83L92.57,92.61L91.22,91.83L91.22,90.28L92.57,89.51L93.91,90.28ZM104.43,91.83L103.09,92.61L101.74,91.83L101.74,90.28L103.09,89.51L104.43,90.28ZM107.06,96.39L105.72,97.16L104.37,96.39L104.37,94.84L105.72,94.06L107.06,94.84ZM96.54,105.50L95.20,106.27L93.85,105.50L93.85,103.95L95.20,103.17L96.54,103.95ZM267.49,82.72L266.14,83.49L264.80,82.72L264.80,81.17L266.14,80.40L267.49,81.17ZM271.43,85.00L270.09,85.77L268.75,85.00L268.75,83.45L270.09,82.67L271.43,83.45ZM259.60,87.28L258.25,88.05L256.91,87.28L256.91,85.73L258.25,84.95L259.60,85.73ZM258.28,89.55L256.94,90.33L255.60,89.55L255.60,88.00L256.94,87.23L258.28,88.00ZM259.60,91.83L258.25,92.61L256.91,91.83L256.91,90.28L258.25,89.51L259.60,90.28ZM259.60,100.94L258.25,101.72L256.91,100.94L256.91,99.39L258.25,98.62L259.60,99.39ZM262.23,91.83L260.88,92.61L259.54,91.83L259.54,90.28L260.88,89.51L262.23,90.28ZM260.91,94.11L259.57,94.88L258.23,94.11L258.23,92.56L259.57,91.79L260.91,92.56ZM262.23,100.94L260.88,101.72L259.54,100.94L259.54,99.39L260.88,98.62L262.23,99.39ZM262.23,105.50L260.88,106.27L259.54,105.50L259.54,103.95L260.88,103.17L262.23,103.95ZM263.54,103.22L262.20,103.99L260.86,103.22L260.86,101.67L262.20,100.90L263.54,101.67ZM264.86,110.05L263.51,110.83L262.17,110.05L262.17,108.50L263.51,107.73L264.86,108.50ZM267.49,105.50L266.14,106.27L264.80,105.50L264.80,103.95L266.14,103.17L267.49,103.95ZM268.80,107.77L267.46,108.55L266.12,107.77L266.12,106.23L267.46,105.45L268.80,106.23ZM272.75,110.05L271.40,110.83L270.06,110.05L270.06,108.50L271.40,107.73L272.75,108.50ZM285.90,96.39L284.56,97.16L283.21,96.39L283.21,94.84L284.56,94.06L285.90,94.84ZM288.53,100.94L287.19,101.72L285.84,100.94L285.84,99.39L287.19,98.62L288.53,99.39ZM264.86,96.39L263.51,97.16L262.17,96.39L262.17,94.84L263.51,94.06L264.86,94.84ZM270.12,100.94L268.77,101.72L267.43,100.94L267.43,99.39L268.77,98.62L270.12,99.39ZM272.75,100.94L271.40,101.72L270.06,100.94L270.06,99.39L271.40,98.62L272.75,99.39ZM275.38,105.50L274.03,106.27L272.69,105.50L272.69,103.95L274.03,103.17L275.38,103.95ZM283.27,105.50L281.93,106.27L280.58,105.50L280.58,103.95L281.93,103.17L283.27,103.95ZM284.58,112.33L283.24,113.10L281.90,112.33L281.90,110.78L283.24,110.01L284.58,110.78ZM288.53,114.61L287.19,115.38L285.84,114.61L285.84,113.06L287.19,112.28L288.53,113.06ZM291.16,110.05L289.81,110.83L288.47,110.05L288.47,108.50L289.81,107.73L291.16,108.50ZM289.84,112.33L288.50,113.10L287.16,112.33L287.16,110.78L288.50,110.01L289.84,110.78ZM289.84,116.88L288.50,117.66L287.16,116.88L287.16,115.34L288.50,114.56L289.84,115.34ZM293.79,105.50L292.44,106.27L291.10,105.50L291.10,103.95L292.44,103.17L293.79,103.95ZM292.47,116.88L291.13,117.66L289.79,116.88L289.79,115.34L291.13,114.56L292.47,115.34ZM295.10,112.33L293.76,113.10L292.42,112.33L292.42,110.78L293.76,110.01L295.10,110.78ZM296.42,119.16L295.07,119.94L293.73,119.16L293.73,117.61L295.07,116.84L296.42,117.61ZM297.73,112.33L296.39,113.10L295.05,112.33L295.05,110.78L296.39,110.01L297.73,110.78ZM304.31,119.16L302.97,119.94L301.62,119.16L301.62,117.61L302.97,116.84L304.31,117.61ZM310.88,116.88L309.54,117.66L308.20,116.88L308.20,115.34L309.54,114.56L310.88,115.34ZM314.83,114.61L313.49,115.38L312.14,114.61L312.14,113.06L313.49,112.28L314.83,113.06ZM313.51,116.88L312.17,117.66L310.83,116.88L310.83,115.34L312.17,114.56L313.51,115.34ZM317.46,114.61L316.12,115.38L314.77,114.61L314.77,113.06L316.12,112.28L317.46,113.06ZM318.77,130.55L317.43,131.33L316.09,130.55L316.09,129.00L317.43,128.23L318.77,129.00ZM318.77,98.66L317.43,99.44L316.09,98.66L316.09,97.12L317.43,96.34L318.77,97.12ZM335.87,105.50L334.52,106.27L333.18,105.50L333.18,103.95L334.52,103.17L335.87,103.95ZM297.73,98.66L296.39,99.44L295.05,98.66L295.05,97.12L296.39,96.34L297.73,97.12ZM304.31,91.83L302.97,92.61L301.62,91.83L301.62,90.28L302.97,89.51L304.31,90.28ZM233.30,82.72L231.95,83.49L230.61,82.72L230.61,81.17L231.95,80.40L233.30,81.17ZM237.24,85.00L235.90,85.77L234.56,85.00L234.56,83.45L235.90,82.67L237.24,83.45ZM242.50,89.55L241.16,90.33L239.82,89.55L239.82,88.00L241.16,87.23L242.50,88.00ZM243.82,91.83L242.47,92.61L241.13,91.83L241.13,90.28L242.47,89.51L243.82,90.28ZM242.50,103.22L241.16,103.99L239.82,103.22L239.82,101.67L241.16,100.90L242.50,101.67ZM200.42,75.89L199.08,76.66L197.74,75.89L197.74,74.34L199.08,73.56L200.42,74.34ZM205.68,75.89L204.34,76.66L203.00,75.89L203.00,74.34L204.34,73.56L205.68,74.34ZM213.57,94.11L212.23,94.88L210.89,94.11L210.89,92.56L212.23,91.79L213.57,92.56ZM218.83,94.11L217.49,94.88L216.15,94.11L216.15,92.56L217.49,91.79L218.83,92.56ZM214.89,128.27L213.55,129.05L212.20,128.27L212.20,126.72L213.55,125.95L214.89,126.72ZM217.52,123.72L216.18,124.49L214.83,123.72L214.83,122.17L216.18,121.39L217.52,122.17ZM218.83,126.00L217.49,126.77L216.15,126.00L216.15,124.45L217.49,123.67L218.83,124.45ZM155.71,85.00L154.37,85.77L153.03,85.00L153.03,83.45L154.37,82.67L155.71,83.45ZM29.47,85.00L28.13,85.77L26.79,85.00L26.79,83.45L28.13,82.67L29.47,83.45ZM8.43,112.33L7.09,113.10L5.75,112.33L5.75,110.78L7.09,110.01L8.43,110.78ZM7.12,123.72L5.78,124.49L4.43,123.72L4.43,122.17L5.78,121.39L7.12,122.17ZM9.75,123.72L8.41,124.49L7.06,123.72L7.06,122.17L8.41,121.39L9.75,122.17ZM12.38,132.83L11.03,133.60L9.69,132.83L9.69,131.28L11.03,130.51L12.38,131.28ZM24.21,130.55L22.87,131.33L21.53,130.55L21.53,129.00L22.87,128.23L24.21,129.00ZM30.79,128.27L29.45,129.05L28.10,128.27L28.10,126.72L29.45,125.95L30.79,126.72ZM201.74,82.72L200.40,83.49L199.05,82.72L199.05,81.17L200.40,80.40L201.74,81.17Z" fill="#fde725" stroke="#1e1a30" stroke-opacity="0.65" stroke-width="0.35"/>
<path d="M122.84,105.50L121.50,106.27L120.15,105.50L120.15,103.95L121.50,103.17L122.84,103.95ZM124.15,107.77L122.81,108.55L121.47,107.77L121.47,106.23L122.81,105.45L124.15,106.23ZM138.62,119.16L137.28,119.94L135.93,119.16L135.93,117.61L137.28,116.84L138.62,117.61ZM78.13,82.72L76.79,83.49L75.44,82.72L75.44,81.17L76.79,80.40L78.13,81.17ZM91.28,96.39L89.94,97.16L88.59,96.39L88.59,94.84L89.94,94.06L91.28,94.84ZM117.58,91.83L116.24,92.61L114.89,91.83L114.89,90.28L116.24,89.51L117.58,90.28ZM100.48,94.11L99.14,94.88L97.80,94.11L97.80,92.56L99.14,91.79L100.48,92.56ZM114.95,96.39L113.61,97.16L112.26,96.39L112.26,94.84L113.61,94.06L114.95,94.84ZM96.54,96.39L95.20,97.16L93.85,96.39L93.85,94.84L95.20,94.06L96.54,94.84ZM278.01,82.72L276.66,83.49L275.32,82.72L275.32,81.17L276.66,80.40L278.01,81.17ZM278.01,78.16L276.66,78.94L275.32,78.16L275.32,76.62L276.66,75.84L278.01,76.62ZM259.60,96.39L258.25,97.16L256.91,96.39L256.91,94.84L258.25,94.06L259.60,94.84ZM266.17,94.11L264.83,94.88L263.49,94.11L263.49,92.56L264.83,91.79L266.17,92.56ZM284.58,85.00L283.24,85.77L281.90,85.00L281.90,83.45L283.24,82.67L284.58,83.45ZM284.58,98.66L283.24,99.44L281.90,98.66L281.90,97.12L283.24,96.34L284.58,97.12ZM287.21,98.66L285.87,99.44L284.53,98.66L284.53,97.12L285.87,96.34L287.21,97.12ZM287.21,103.22L285.87,103.99L284.53,103.22L284.53,101.67L285.87,100.90L287.21,101.67ZM262.23,96.39L260.88,97.16L259.54,96.39L259.54,94.84L260.88,94.06L262.23,94.84ZM267.49,96.39L266.14,97.16L264.80,96.39L264.80,94.84L266.14,94.06L267.49,94.84ZM276.69,107.77L275.35,108.55L274.01,107.77L274.01,106.23L275.35,105.45L276.69,106.23ZM279.32,103.22L277.98,103.99L276.64,103.22L276.64,101.67L277.98,100.90L279.32,101.67ZM281.95,116.88L280.61,117.66L279.27,116.88L279.27,115.34L280.61,114.56L281.95,115.34ZM283.27,119.16L281.93,119.94L280.58,119.16L280.58,117.61L281.93,116.84L283.27,117.61ZM284.58,107.77L283.24,108.55L281.90,107.77L281.90,106.23L283.24,105.45L284.58,106.23ZM284.58,116.88L283.24,117.66L281.90,116.88L281.90,115.34L283.24,114.56L284.58,115.34ZM293.79,110.05L292.44,110.83L291.10,110.05L291.10,108.50L292.44,107.73L293.79,108.50ZM292.47,112.33L291.13,113.10L289.79,112.33L289.79,110.78L291.13,110.01L292.47,110.78ZM295.10,107.77L293.76,108.55L292.42,107.77L292.42,106.23L293.76,105.45L295.10,106.23ZM296.42,110.05L295.07,110.83L293.73,110.05L293.73,108.50L295.07,107.73L296.42,108.50ZM299.05,119.16L297.70,119.94L296.36,119.16L296.36,117.61L297.70,116.84L299.05,117.61ZM301.68,114.61L300.34,115.38L298.99,114.61L298.99,113.06L300.34,112.28L301.68,113.06ZM304.31,110.05L302.97,110.83L301.62,110.05L301.62,108.50L302.97,107.73L304.31,108.50ZM310.88,112.33L309.54,113.10L308.20,112.33L308.20,110.78L309.54,110.01L310.88,110.78ZM312.20,119.16L310.86,119.94L309.51,119.16L309.51,117.61L310.86,116.84L312.20,117.61ZM316.14,112.33L314.80,113.10L313.46,112.33L313.46,110.78L314.80,110.01L316.14,110.78ZM316.14,121.44L314.80,122.21L313.46,121.44L313.46,119.89L314.80,119.12L316.14,119.89ZM314.83,151.05L313.49,151.82L312.14,151.05L312.14,149.50L313.49,148.73L314.83,149.50ZM299.05,96.39L297.70,97.16L296.36,96.39L296.36,94.84L297.70,94.06L299.05,94.84ZM238.56,91.83L237.22,92.61L235.87,91.83L235.87,90.28L237.22,89.51L238.56,90.28ZM224.09,80.44L222.75,81.22L221.41,80.44L221.41,78.89L222.75,78.12L224.09,78.89ZM207.00,123.72L205.66,124.49L204.31,123.72L204.31,122.17L205.66,121.39L207.00,122.17ZM168.86,103.22L167.52,103.99L166.18,103.22L166.18,101.67L167.52,100.90L168.86,101.67ZM28.16,82.72L26.81,83.49L25.47,82.72L25.47,81.17L26.81,80.40L28.16,81.17Z" fill="#7ad151" stroke="#1e1a30" stroke-opacity="0.65" stroke-width="0.35"/>
<path d="M126.78,107.77L125.44,108.55L124.10,107.77L124.10,106.23L125.44,105.45L126.78,106.23ZM191.22,146.49L189.88,147.27L188.53,146.49L188.53,144.95L189.88,144.17L191.22,144.95ZM95.22,98.66L93.88,99.44L92.54,98.66L92.54,97.12L93.88,96.34L95.22,97.12ZM99.17,96.39L97.83,97.16L96.48,96.39L96.48,94.84L97.83,94.06L99.17,94.84ZM276.69,75.89L275.35,76.66L274.01,75.89L274.01,74.34L275.35,73.56L276.69,74.34ZM260.91,89.55L259.57,90.33L258.23,89.55L258.23,88.00L259.57,87.23L260.91,88.00ZM274.06,94.11L272.72,94.88L271.38,94.11L271.38,92.56L272.72,91.79L274.06,92.56ZM260.91,98.66L259.57,99.44L258.23,98.66L258.23,97.12L259.57,96.34L260.91,97.12ZM268.80,103.22L267.46,103.99L266.12,103.22L266.12,101.67L267.46,100.90L268.80,101.67ZM280.64,105.50L279.30,106.27L277.95,105.50L277.95,103.95L279.30,103.17L280.64,103.95ZM285.90,114.61L284.56,115.38L283.21,114.61L283.21,113.06L284.56,112.28L285.90,113.06ZM288.53,105.50L287.19,106.27L285.84,105.50L285.84,103.95L287.19,103.17L288.53,103.95ZM287.21,112.33L285.87,113.10L284.53,112.33L284.53,110.78L285.87,110.01L287.21,110.78ZM287.21,116.88L285.87,117.66L284.53,116.88L284.53,115.34L285.87,114.56L287.21,115.34ZM291.16,105.50L289.81,106.27L288.47,105.50L288.47,103.95L289.81,103.17L291.16,103.95ZM295.10,116.88L293.76,117.66L292.42,116.88L292.42,115.34L293.76,114.56L295.10,115.34ZM299.05,114.61L297.70,115.38L296.36,114.61L296.36,113.06L297.70,112.28L299.05,113.06ZM309.57,119.16L308.23,119.94L306.88,119.16L306.88,117.61L308.23,116.84L309.57,117.61ZM314.83,110.05L313.49,110.83L312.14,110.05L312.14,108.50L313.49,107.73L314.83,108.50ZM318.77,116.88L317.43,117.66L316.09,116.88L316.09,115.34L317.43,114.56L318.77,115.34ZM317.46,146.49L316.12,147.27L314.77,146.49L314.77,144.95L316.12,144.17L317.46,144.95ZM216.20,94.11L214.86,94.88L213.52,94.11L213.52,92.56L214.86,91.79L216.20,92.56ZM221.46,94.11L220.12,94.88L218.78,94.11L218.78,92.56L220.12,91.79L221.46,92.56ZM155.71,89.55L154.37,90.33L153.03,89.55L153.03,88.00L154.37,87.23L155.71,88.00ZM26.84,80.44L25.50,81.22L24.16,80.44L24.16,78.89L25.50,78.12L26.84,78.89ZM12.38,123.72L11.03,124.49L9.69,123.72L9.69,122.17L11.03,121.39L12.38,122.17ZM36.05,128.27L34.71,129.05L33.36,128.27L33.36,126.72L34.71,125.95L36.05,126.72Z" fill="#bddf26" stroke="#1e1a30" stroke-opacity="0.65" stroke-width="0.35"/>
<path d="M128.10,110.05L126.75,110.83L125.41,110.05L125.41,108.50L126.75,107.73L128.10,108.50ZM130.73,110.05L129.38,110.83L128.04,110.05L128.04,108.50L129.38,107.73L130.73,108.50ZM132.04,135.11L130.70,135.88L129.36,135.11L129.36,133.56L130.70,132.78L132.04,133.56ZM137.30,116.88L135.96,117.66L134.62,116.88L134.62,115.34L135.96,114.56L137.30,115.34ZM195.16,144.22L193.82,144.99L192.48,144.22L192.48,142.67L193.82,141.89L195.16,142.67ZM197.79,144.22L196.45,144.99L195.11,144.22L195.11,142.67L196.45,141.89L197.79,142.67ZM204.37,128.27L203.03,129.05L201.68,128.27L201.68,126.72L203.03,125.95L204.37,126.72ZM247.76,89.55L246.42,90.33L245.08,89.55L245.08,88.00L246.42,87.23L247.76,88.00ZM71.55,80.44L70.21,81.22L68.87,80.44L68.87,78.89L70.21,78.12L71.55,78.89ZM84.70,89.55L83.36,90.33L82.02,89.55L82.02,88.00L83.36,87.23L84.70,88.00ZM97.85,98.66L96.51,99.44L95.17,98.66L95.17,97.12L96.51,96.34L97.85,97.12ZM99.17,100.94L97.83,101.72L96.48,100.94L96.48,99.39L97.83,98.62L99.17,99.39ZM83.39,78.16L82.05,78.94L80.70,78.16L80.70,76.62L82.05,75.84L83.39,76.62ZM88.65,91.83L87.31,92.61L85.96,91.83L85.96,90.28L87.31,89.51L88.65,90.28ZM91.28,82.72L89.94,83.49L88.59,82.72L88.59,81.17L89.94,80.40L91.28,81.17ZM89.96,85.00L88.62,85.77L87.28,85.00L87.28,83.45L88.62,82.67L89.96,83.45ZM93.91,87.28L92.57,88.05L91.22,87.28L91.22,85.73L92.57,84.95L93.91,85.73ZM96.54,91.83L95.20,92.61L93.85,91.83L93.85,90.28L95.20,89.51L96.54,90.28ZM112.32,87.28L110.98,88.05L109.63,87.28L109.63,85.73L110.98,84.95L112.32,85.73ZM114.95,91.83L113.61,92.61L112.26,91.83L112.26,90.28L113.61,89.51L114.95,90.28ZM116.26,89.55L114.92,90.33L113.58,89.55L113.58,88.00L114.92,87.23L116.26,88.00ZM116.26,94.11L114.92,94.88L113.58,94.11L113.58,92.56L114.92,91.79L116.26,92.56ZM107.06,91.83L105.72,92.61L104.37,91.83L104.37,90.28L105.72,89.51L107.06,90.28ZM101.80,96.39L100.46,97.16L99.11,96.39L99.11,94.84L100.46,94.06L101.80,94.84ZM103.11,94.11L101.77,94.88L100.43,94.11L100.43,92.56L101.77,91.79L103.11,92.56ZM105.74,94.11L104.40,94.88L103.06,94.11L103.06,92.56L104.40,91.79L105.74,92.56ZM93.91,114.61L92.57,115.38L91.22,114.61L91.22,113.06L92.57,112.28L93.91,113.06ZM95.22,107.77L93.88,108.55L92.54,107.77L92.54,106.23L93.88,105.45L95.22,106.23ZM95.22,112.33L93.88,113.10L92.54,112.33L92.54,110.78L93.88,110.01L95.22,110.78ZM285.90,73.61L284.56,74.38L283.21,73.61L283.21,72.06L284.56,71.29L285.90,72.06ZM256.97,91.83L255.62,92.61L254.28,91.83L254.28,90.28L255.62,89.51L256.97,90.28ZM262.23,87.28L260.88,88.05L259.54,87.28L259.54,85.73L260.88,84.95L262.23,85.73ZM260.91,103.22L259.57,103.99L258.23,103.22L258.23,101.67L259.57,100.90L260.91,101.67ZM264.86,100.94L263.51,101.72L262.17,100.94L262.17,99.39L263.51,98.62L264.86,99.39ZM266.17,107.77L264.83,108.55L263.49,107.77L263.49,106.23L264.83,105.45L266.17,106.23ZM267.49,110.05L266.14,110.83L264.80,110.05L264.80,108.50L266.14,107.73L267.49,108.50ZM267.49,91.83L266.14,92.61L264.80,91.83L264.80,90.28L266.14,89.51L267.49,90.28ZM270.12,96.39L268.77,97.16L267.43,96.39L267.43,94.84L268.77,94.06L270.12,94.84ZM272.75,96.39L271.40,97.16L270.06,96.39L270.06,94.84L271.40,94.06L272.75,94.84ZM285.90,87.28L284.56,88.05L283.21,87.28L283.21,85.73L284.56,84.95L285.90,85.73ZM288.53,91.83L287.19,92.61L285.84,91.83L285.84,90.28L287.19,89.51L288.53,90.28ZM287.21,94.11L285.87,94.88L284.53,94.11L284.53,92.56L285.87,91.79L287.21,92.56ZM291.16,96.39L289.81,97.16L288.47,96.39L288.47,94.84L289.81,94.06L291.16,94.84ZM292.47,103.22L291.13,103.99L289.79,103.22L289.79,101.67L291.13,100.90L292.47,101.67ZM263.54,98.66L262.20,99.44L260.86,98.66L260.86,97.12L262.20,96.34L263.54,97.12ZM267.49,100.94L266.14,101.72L264.80,100.94L264.80,99.39L266.14,98.62L267.49,99.39ZM272.75,105.50L271.40,106.27L270.06,105.50L270.06,103.95L271.40,103.17L272.75,103.95ZM274.06,103.22L272.72,103.99L271.38,103.22L271.38,101.67L272.72,100.90L274.06,101.67ZM274.06,107.77L272.72,108.55L271.38,107.77L271.38,106.23L272.72,105.45L274.06,106.23ZM278.01,105.50L276.66,106.27L275.32,105.50L275.32,103.95L276.66,103.17L278.01,103.95ZM283.27,110.05L281.93,110.83L280.58,110.05L280.58,108.50L281.93,107.73L283.27,108.50ZM288.53,110.05L287.19,110.83L285.84,110.05L285.84,108.50L287.19,107.73L288.53,108.50ZM288.53,119.16L287.19,119.94L285.84,119.16L285.84,117.61L287.19,116.84L288.53,117.61ZM293.79,114.61L292.44,115.38L291.10,114.61L291.10,113.06L292.44,112.28L293.79,113.06ZM302.99,116.88L301.65,117.66L300.31,116.88L300.31,115.34L301.65,114.56L302.99,115.34ZM304.31,123.72L302.97,124.49L301.62,123.72L301.62,122.17L302.97,121.39L304.31,122.17ZM306.94,110.05L305.60,110.83L304.25,110.05L304.25,108.50L305.60,107.73L306.94,108.50ZM306.94,114.61L305.60,115.38L304.25,114.61L304.25,113.06L305.60,112.28L306.94,113.06ZM306.94,123.72L305.60,124.49L304.25,123.72L304.25,122.17L305.60,121.39L306.94,122.17ZM305.62,126.00L304.28,126.77L302.94,126.00L302.94,124.45L304.28,123.67L305.62,124.45ZM308.25,116.88L306.91,117.66L305.57,116.88L305.57,115.34L306.91,114.56L308.25,115.34ZM317.46,119.16L316.12,119.94L314.77,119.16L314.77,117.61L316.12,116.84L317.46,117.61ZM306.94,128.27L305.60,129.05L304.25,128.27L304.25,126.72L305.60,125.95L306.94,126.72ZM305.62,130.55L304.28,131.33L302.94,130.55L302.94,129.00L304.28,128.23L305.62,129.00ZM306.94,132.83L305.60,133.60L304.25,132.83L304.25,131.28L305.60,130.51L306.94,131.28ZM306.94,137.38L305.60,138.16L304.25,137.38L304.25,135.84L305.60,135.06L306.94,135.84ZM322.72,132.83L321.38,133.60L320.03,132.83L320.03,131.28L321.38,130.51L322.72,131.28ZM330.61,100.94L329.26,101.72L327.92,100.94L327.92,99.39L329.26,98.62L330.61,99.39ZM334.55,103.22L333.21,103.99L331.87,103.22L331.87,101.67L333.21,100.90L334.55,101.67ZM235.93,82.72L234.59,83.49L233.24,82.72L233.24,81.17L234.59,80.40L235.93,81.17ZM234.61,85.00L233.27,85.77L231.93,85.00L231.93,83.45L233.27,82.67L234.61,83.45ZM237.24,98.66L235.90,99.44L234.56,98.66L234.56,97.12L235.90,96.34L237.24,97.12ZM239.87,98.66L238.53,99.44L237.19,98.66L237.19,97.12L238.53,96.34L239.87,97.12ZM241.19,100.94L239.84,101.72L238.50,100.94L238.50,99.39L239.84,98.62L241.19,99.39ZM242.50,98.66L241.16,99.44L239.82,98.66L239.82,97.12L241.16,96.34L242.50,97.12ZM246.45,96.39L245.11,97.16L243.76,96.39L243.76,94.84L245.11,94.06L246.45,94.84ZM246.45,100.94L245.11,101.72L243.76,100.94L243.76,99.39L245.11,98.62L246.45,99.39ZM239.87,107.77L238.53,108.55L237.19,107.77L237.19,106.23L238.53,105.45L239.87,106.23ZM204.37,73.61L203.03,74.38L201.68,73.61L201.68,72.06L203.03,71.29L204.37,72.06ZM204.37,78.16L203.03,78.94L201.68,78.16L201.68,76.62L203.03,75.84L204.37,76.62ZM205.68,85.00L204.34,85.77L203.00,85.00L203.00,83.45L204.34,82.67L205.68,83.45ZM208.31,80.44L206.97,81.22L205.63,80.44L205.63,78.89L206.97,78.12L208.31,78.89ZM210.94,85.00L209.60,85.77L208.26,85.00L208.26,83.45L209.60,82.67L210.94,83.45ZM212.26,87.28L210.91,88.05L209.57,87.28L209.57,85.73L210.91,84.95L212.26,85.73ZM210.94,89.55L209.60,90.33L208.26,89.55L208.26,88.00L209.60,87.23L210.94,88.00ZM212.26,91.83L210.91,92.61L209.57,91.83L209.57,90.28L210.91,89.51L212.26,90.28ZM214.89,91.83L213.55,92.61L212.20,91.83L212.20,90.28L213.55,89.51L214.89,90.28ZM214.89,78.16L213.55,78.94L212.20,78.16L212.20,76.62L213.55,75.84L214.89,76.62ZM209.63,119.16L208.28,119.94L206.94,119.16L206.94,117.61L208.28,116.84L209.63,117.61ZM212.26,119.16L210.91,119.94L209.57,119.16L209.57,117.61L210.91,116.84L212.26,117.61ZM217.52,128.27L216.18,129.05L214.83,128.27L214.83,126.72L216.18,125.95L217.52,126.72ZM155.71,94.11L154.37,94.88L153.03,94.11L153.03,92.56L154.37,91.79L155.71,92.56ZM157.03,96.39L155.69,97.16L154.34,96.39L154.34,94.84L155.69,94.06L157.03,94.84ZM159.66,100.94L158.31,101.72L156.97,100.94L156.97,99.39L158.31,98.62L159.66,99.39ZM163.60,103.22L162.26,103.99L160.92,103.22L160.92,101.67L162.26,100.90L163.60,101.67ZM170.18,100.94L168.84,101.72L167.49,100.94L167.49,99.39L168.84,98.62L170.18,99.39ZM174.12,98.66L172.78,99.44L171.44,98.66L171.44,97.12L172.78,96.34L174.12,97.12ZM183.33,119.16L181.99,119.94L180.64,119.16L180.64,117.61L181.99,116.84L183.33,117.61Z" fill="#22a884" stroke="#1e1a30" stroke-opacity="0.65" stroke-width="0.35"/>
<path d="M128.10,137.38L126.75,138.16L125.41,137.38L125.41,135.84L126.75,135.06L128.10,135.84ZM132.04,112.33L130.70,113.10L129.36,112.33L129.36,110.78L130.70,110.01L132.04,110.78ZM134.67,126.00L133.33,126.77L131.99,126.00L131.99,124.45L133.33,123.67L134.67,124.45ZM134.67,130.55L133.33,131.33L131.99,130.55L131.99,129.00L133.33,128.23L134.67,129.00ZM203.05,130.55L201.71,131.33L200.37,130.55L200.37,129.00L201.71,128.23L203.05,129.00ZM209.63,110.05L208.28,110.83L206.94,110.05L206.94,108.50L208.28,107.73L209.63,108.50ZM82.07,89.55L80.73,90.33L79.39,89.55L79.39,88.00L80.73,87.23L82.07,88.00ZM97.85,85.00L96.51,85.77L95.17,85.00L95.17,83.45L96.51,82.67L97.85,83.45ZM101.80,78.16L100.46,78.94L99.11,78.16L99.11,76.62L100.46,75.84L101.80,76.62ZM101.80,82.72L100.46,83.49L99.11,82.72L99.11,81.17L100.46,80.40L101.80,81.17ZM100.48,85.00L99.14,85.77L97.80,85.00L97.80,83.45L99.14,82.67L100.48,83.45ZM107.06,82.72L105.72,83.49L104.37,82.72L104.37,81.17L105.72,80.40L107.06,81.17ZM256.97,96.39L255.62,97.16L254.28,96.39L254.28,94.84L255.62,94.06L256.97,94.84ZM284.58,121.44L283.24,122.21L281.90,121.44L281.90,119.89L283.24,119.12L284.58,119.89ZM292.47,121.44L291.13,122.21L289.79,121.44L289.79,119.89L291.13,119.12L292.47,119.89ZM297.73,121.44L296.39,122.21L295.05,121.44L295.05,119.89L296.39,119.12L297.73,119.89ZM300.36,121.44L299.02,122.21L297.68,121.44L297.68,119.89L299.02,119.12L300.36,119.89ZM289.84,126.00L288.50,126.77L287.16,126.00L287.16,124.45L288.50,123.67L289.84,124.45ZM272.75,141.94L271.40,142.71L270.06,141.94L270.06,140.39L271.40,139.62L272.75,140.39ZM301.68,141.94L300.34,142.71L298.99,141.94L298.99,140.39L300.34,139.62L301.68,140.39ZM296.42,146.49L295.07,147.27L293.73,146.49L293.73,144.95L295.07,144.17L296.42,144.95ZM302.99,144.22L301.65,144.99L300.31,144.22L300.31,142.67L301.65,141.89L302.99,142.67ZM243.82,96.39L242.47,97.16L241.13,96.39L241.13,94.84L242.47,94.06L243.82,94.84Z" fill="#414487" stroke="#1e1a30" stroke-opacity="0.65" stroke-width="0.35"/>
<path d="M129.41,135.11L128.07,135.88L126.73,135.11L126.73,133.56L128.07,132.78L129.41,133.56ZM210.94,107.77L209.60,108.55L208.26,107.77L208.26,106.23L209.60,105.45L210.94,106.23ZM251.71,82.72L250.37,83.49L249.02,82.72L249.02,81.17L250.37,80.40L251.71,81.17ZM86.02,82.72L84.68,83.49L83.33,82.72L83.33,81.17L84.68,80.40L86.02,81.17ZM88.65,82.72L87.31,83.49L85.96,82.72L85.96,81.17L87.31,80.40L88.65,81.17ZM92.59,85.00L91.25,85.77L89.91,85.00L89.91,83.45L91.25,82.67L92.59,83.45ZM275.38,82.72L274.03,83.49L272.69,82.72L272.69,81.17L274.03,80.40L275.38,81.17ZM276.69,80.44L275.35,81.22L274.01,80.44L274.01,78.89L275.35,78.12L276.69,78.89ZM258.28,94.11L256.94,94.88L255.60,94.11L255.60,92.56L256.94,91.79L258.28,92.56ZM266.17,112.33L264.83,113.10L263.49,112.33L263.49,110.78L264.83,110.01L266.17,110.78ZM267.49,114.61L266.14,115.38L264.80,114.61L264.80,113.06L266.14,112.28L267.49,113.06ZM270.12,114.61L268.77,115.38L267.43,114.61L267.43,113.06L268.77,112.28L270.12,113.06ZM272.75,114.61L271.40,115.38L270.06,114.61L270.06,113.06L271.40,112.28L272.75,113.06ZM274.06,112.33L272.72,113.10L271.38,112.33L271.38,110.78L272.72,110.01L274.06,110.78ZM275.38,114.61L274.03,115.38L272.69,114.61L272.69,113.06L274.03,112.28L275.38,113.06ZM274.06,116.88L272.72,117.66L271.38,116.88L271.38,115.34L272.72,114.56L274.06,115.34ZM276.69,112.33L275.35,113.10L274.01,112.33L274.01,110.78L275.35,110.01L276.69,110.78ZM278.01,114.61L276.66,115.38L275.32,114.61L275.32,113.06L276.66,112.28L278.01,113.06ZM276.69,116.88L275.35,117.66L274.01,116.88L274.01,115.34L275.35,114.56L276.69,115.34ZM305.62,116.88L304.28,117.66L302.94,116.88L302.94,115.34L304.28,114.56L305.62,115.34ZM312.20,114.61L310.86,115.38L309.51,114.61L309.51,113.06L310.86,112.28L312.20,113.06ZM270.12,137.38L268.77,138.16L267.43,137.38L267.43,135.84L268.77,135.06L270.12,135.84ZM271.43,135.11L270.09,135.88L268.75,135.11L268.75,133.56L270.09,132.78L271.43,133.56ZM304.31,141.94L302.97,142.71L301.62,141.94L301.62,140.39L302.97,139.62L304.31,140.39ZM305.62,139.66L304.28,140.44L302.94,139.66L302.94,138.11L304.28,137.34L305.62,138.11ZM293.79,151.05L292.44,151.82L291.10,151.05L291.10,149.50L292.44,148.73L293.79,149.50ZM299.05,146.49L297.70,147.27L296.36,146.49L296.36,144.95L297.70,144.17L299.05,144.95ZM297.73,148.77L296.39,149.55L295.05,148.77L295.05,147.22L296.39,146.45L297.73,147.22ZM285.90,146.49L284.56,147.27L283.21,146.49L283.21,144.95L284.56,144.17L285.90,144.95ZM287.21,144.22L285.87,144.99L284.53,144.22L284.53,142.67L285.87,141.89L287.21,142.67ZM288.53,151.05L287.19,151.82L285.84,151.05L285.84,149.50L287.19,148.73L288.53,149.50ZM291.16,151.05L289.81,151.82L288.47,151.05L288.47,149.50L289.81,148.73L291.16,149.50ZM245.13,89.55L243.79,90.33L242.45,89.55L242.45,88.00L243.79,87.23L245.13,88.00ZM201.74,73.61L200.40,74.38L199.05,73.61L199.05,72.06L200.40,71.29L201.74,72.06ZM207.00,78.16L205.66,78.94L204.31,78.16L204.31,76.62L205.66,75.84L207.00,76.62ZM209.63,114.61L208.28,115.38L206.94,114.61L206.94,113.06L208.28,112.28L209.63,113.06ZM210.94,130.55L209.60,131.33L208.26,130.55L208.26,129.00L209.60,128.23L210.94,129.00ZM11.06,130.55L9.72,131.33L8.38,130.55L8.38,129.00L9.72,128.23L11.06,129.00ZM26.84,130.55L25.50,131.33L24.16,130.55L24.16,129.00L25.50,128.23L26.84,129.00ZM28.16,132.83L26.81,133.60L25.47,132.83L25.47,131.28L26.81,130.51L28.16,131.28Z" fill="#440154" stroke="#1e1a30" stroke-opacity="0.65" stroke-width="0.35"/>
<path d="M129.41,139.66L128.07,140.44L126.73,139.66L126.73,138.11L128.07,137.34L129.41,138.11ZM135.99,132.83L134.65,133.60L133.30,132.83L133.30,131.28L134.65,130.51L135.99,131.28ZM138.62,114.61L137.28,115.38L135.93,114.61L135.93,113.06L137.28,112.28L138.62,113.06ZM137.30,121.44L135.96,122.21L134.62,121.44L134.62,119.89L135.96,119.12L137.30,119.89ZM201.74,137.38L200.40,138.16L199.05,137.38L199.05,135.84L200.40,135.06L201.74,135.84ZM207.00,114.61L205.66,115.38L204.31,114.61L204.31,113.06L205.66,112.28L207.00,113.06ZM208.31,116.88L206.97,117.66L205.63,116.88L205.63,115.34L206.97,114.56L208.31,115.34ZM246.45,87.28L245.11,88.05L243.76,87.28L243.76,85.73L245.11,84.95L246.45,85.73ZM249.08,87.28L247.74,88.05L246.39,87.28L246.39,85.73L247.74,84.95L249.08,85.73ZM274.06,71.33L272.72,72.11L271.38,71.33L271.38,69.78L272.72,69.01L274.06,69.78ZM71.55,75.89L70.21,76.66L68.87,75.89L68.87,74.34L70.21,73.56L71.55,74.34ZM76.81,80.44L75.47,81.22L74.13,80.44L74.13,78.89L75.47,78.12L76.81,78.89ZM87.33,94.11L85.99,94.88L84.65,94.11L84.65,92.56L85.99,91.79L87.33,92.56ZM82.07,80.44L80.73,81.22L79.39,80.44L79.39,78.89L80.73,78.12L82.07,78.89ZM84.70,80.44L83.36,81.22L82.02,80.44L82.02,78.89L83.36,78.12L84.70,78.89ZM86.02,87.28L84.68,88.05L83.33,87.28L83.33,85.73L84.68,84.95L86.02,85.73ZM87.33,85.00L85.99,85.77L84.65,85.00L84.65,83.45L85.99,82.67L87.33,83.45ZM88.65,87.28L87.31,88.05L85.96,87.28L85.96,85.73L87.31,84.95L88.65,85.73ZM89.96,80.44L88.62,81.22L87.28,80.44L87.28,78.89L88.62,78.12L89.96,78.89ZM89.96,89.55L88.62,90.33L87.28,89.55L87.28,88.00L88.62,87.23L89.96,88.00ZM92.59,80.44L91.25,81.22L89.91,80.44L89.91,78.89L91.25,78.12L92.59,78.89ZM95.22,89.55L93.88,90.33L92.54,89.55L92.54,88.00L93.88,87.23L95.22,88.00ZM93.91,73.61L92.57,74.38L91.22,73.61L91.22,72.06L92.57,71.29L93.91,72.06ZM96.54,82.72L95.20,83.49L93.85,82.72L93.85,81.17L95.20,80.40L96.54,81.17ZM99.17,82.72L97.83,83.49L96.48,82.72L96.48,81.17L97.83,80.40L99.17,81.17ZM100.48,80.44L99.14,81.22L97.80,80.44L97.80,78.89L99.14,78.12L100.48,78.89ZM104.43,73.61L103.09,74.38L101.74,73.61L101.74,72.06L103.09,71.29L104.43,72.06ZM107.06,87.28L105.72,88.05L104.37,87.28L104.37,85.73L105.72,84.95L107.06,85.73ZM113.63,89.55L112.29,90.33L110.95,89.55L110.95,88.00L112.29,87.23L113.63,88.00ZM104.43,96.39L103.09,97.16L101.74,96.39L101.74,94.84L103.09,94.06L104.43,94.84ZM108.37,94.11L107.03,94.88L105.69,94.11L105.69,92.56L107.03,91.79L108.37,92.56ZM112.32,96.39L110.98,97.16L109.63,96.39L109.63,94.84L110.98,94.06L112.32,94.84ZM116.26,71.33L114.92,72.11L113.58,71.33L113.58,69.78L114.92,69.01L116.26,69.78ZM84.70,107.77L83.36,108.55L82.02,107.77L82.02,106.23L83.36,105.45L84.70,106.23ZM86.02,110.05L84.68,110.83L83.33,110.05L83.33,108.50L84.68,107.73L86.02,108.50ZM268.80,85.00L267.46,85.77L266.12,85.00L266.12,83.45L267.46,82.67L268.80,83.45ZM253.02,80.44L251.68,81.22L250.34,80.44L250.34,78.89L251.68,78.12L253.02,78.89ZM255.65,85.00L254.31,85.77L252.97,85.00L252.97,83.45L254.31,82.67L255.65,83.45ZM266.17,103.22L264.83,103.99L263.49,103.22L263.49,101.67L264.83,100.90L266.17,101.67ZM270.12,105.50L268.77,106.27L267.43,105.50L267.43,103.95L268.77,103.17L270.12,103.95ZM284.58,89.55L283.24,90.33L281.90,89.55L281.90,88.00L283.24,87.23L284.58,88.00ZM285.90,100.94L284.56,101.72L283.21,100.94L283.21,99.39L284.56,98.62L285.90,99.39ZM287.21,89.55L285.87,90.33L284.53,89.55L284.53,88.00L285.87,87.23L287.21,88.00ZM289.84,94.11L288.50,94.88L287.16,94.11L287.16,92.56L288.50,91.79L289.84,92.56ZM292.47,98.66L291.13,99.44L289.79,98.66L289.79,97.12L291.13,96.34L292.47,97.12ZM271.43,103.22L270.09,103.99L268.75,103.22L268.75,101.67L270.09,100.90L271.43,101.67ZM283.27,114.61L281.93,115.38L280.58,114.61L280.58,113.06L281.93,112.28L283.27,113.06ZM297.73,107.77L296.39,108.55L295.05,107.77L295.05,106.23L296.39,105.45L297.73,106.23ZM297.73,116.88L296.39,117.66L295.05,116.88L295.05,115.34L296.39,114.56L297.73,115.34ZM306.94,119.16L305.60,119.94L304.25,119.16L304.25,117.61L305.60,116.84L306.94,117.61ZM316.14,116.88L314.80,117.66L313.46,116.88L313.46,115.34L314.80,114.56L316.14,115.34ZM320.09,119.16L318.75,119.94L317.40,119.16L317.40,117.61L318.75,116.84L320.09,117.61ZM322.72,119.16L321.38,119.94L320.03,119.16L320.03,117.61L321.38,116.84L322.72,117.61ZM321.40,121.44L320.06,122.21L318.72,121.44L318.72,119.89L320.06,119.12L321.40,119.89ZM275.38,132.83L274.03,133.60L272.69,132.83L272.69,131.28L274.03,130.51L275.38,131.28ZM280.64,132.83L279.30,133.60L277.95,132.83L277.95,131.28L279.30,130.51L280.64,131.28ZM272.75,132.83L271.40,133.60L270.06,132.83L270.06,131.28L271.40,130.51L272.75,131.28ZM314.83,146.49L313.49,147.27L312.14,146.49L312.14,144.95L313.49,144.17L314.83,144.95ZM326.66,121.44L325.32,122.21L323.98,121.44L323.98,119.89L325.32,119.12L326.66,119.89ZM325.35,128.27L324.00,129.05L322.66,128.27L322.66,126.72L324.00,125.95L325.35,126.72ZM313.51,98.66L312.17,99.44L310.83,98.66L310.83,97.12L312.17,96.34L313.51,97.12ZM333.24,100.94L331.89,101.72L330.55,100.94L330.55,99.39L331.89,98.62L333.24,99.39ZM229.35,75.89L228.01,76.66L226.67,75.89L226.67,74.34L228.01,73.56L229.35,74.34ZM233.30,78.16L231.95,78.94L230.61,78.16L230.61,76.62L231.95,75.84L233.30,76.62ZM238.56,87.28L237.22,88.05L235.87,87.28L235.87,85.73L237.22,84.95L238.56,85.73ZM237.24,94.11L235.90,94.88L234.56,94.11L234.56,92.56L235.90,91.79L237.24,92.56ZM241.19,87.28L239.84,88.05L238.50,87.28L238.50,85.73L239.84,84.95L241.19,85.73ZM239.87,103.22L238.53,103.99L237.19,103.22L237.19,101.67L238.53,100.90L239.87,101.67ZM201.74,78.16L200.40,78.94L199.05,78.16L199.05,76.62L200.40,75.84L201.74,76.62ZM203.05,80.44L201.71,81.22L200.37,80.44L200.37,78.89L201.71,78.12L203.05,78.89ZM207.00,82.72L205.66,83.49L204.31,82.72L204.31,81.17L205.66,80.40L207.00,81.17ZM208.31,85.00L206.97,85.77L205.63,85.00L205.63,83.45L206.97,82.67L208.31,83.45ZM209.63,87.28L208.28,88.05L206.94,87.28L206.94,85.73L208.28,84.95L209.63,85.73ZM208.31,89.55L206.97,90.33L205.63,89.55L205.63,88.00L206.97,87.23L208.31,88.00ZM210.94,94.11L209.60,94.88L208.26,94.11L208.26,92.56L209.60,91.79L210.94,92.56ZM222.78,87.28L221.44,88.05L220.09,87.28L220.09,85.73L221.44,84.95L222.78,85.73ZM220.15,91.83L218.81,92.61L217.46,91.83L217.46,90.28L218.81,89.51L220.15,90.28ZM208.31,135.11L206.97,135.88L205.63,135.11L205.63,133.56L206.97,132.78L208.31,133.56ZM210.94,126.00L209.60,126.77L208.26,126.00L208.26,124.45L209.60,123.67L210.94,124.45ZM213.57,116.88L212.23,117.66L210.89,116.88L210.89,115.34L212.23,114.56L213.57,115.34ZM214.89,119.16L213.55,119.94L212.20,119.16L212.20,117.61L213.55,116.84L214.89,117.61ZM213.57,126.00L212.23,126.77L210.89,126.00L210.89,124.45L212.23,123.67L213.57,124.45ZM216.20,126.00L214.86,126.77L213.52,126.00L213.52,124.45L214.86,123.67L216.20,124.45ZM224.09,112.33L222.75,113.10L221.41,112.33L221.41,110.78L222.75,110.01L224.09,110.78ZM225.41,132.83L224.06,133.60L222.72,132.83L222.72,131.28L224.06,130.51L225.41,131.28ZM154.40,91.83L153.06,92.61L151.71,91.83L151.71,90.28L153.06,89.51L154.40,90.28ZM159.66,96.39L158.31,97.16L156.97,96.39L156.97,94.84L158.31,94.06L159.66,94.84ZM160.97,98.66L159.63,99.44L158.29,98.66L158.29,97.12L159.63,96.34L160.97,97.12ZM162.29,100.94L160.94,101.72L159.60,100.94L159.60,99.39L160.94,98.62L162.29,99.39ZM172.81,100.94L171.47,101.72L170.12,100.94L170.12,99.39L171.47,98.62L172.81,99.39ZM175.44,100.94L174.09,101.72L172.75,100.94L172.75,99.39L174.09,98.62L175.44,99.39ZM178.07,100.94L176.72,101.72L175.38,100.94L175.38,99.39L176.72,98.62L178.07,99.39ZM179.38,103.22L178.04,103.99L176.70,103.22L176.70,101.67L178.04,100.90L179.38,101.67ZM178.07,105.50L176.72,106.27L175.38,105.50L175.38,103.95L176.72,103.17L178.07,103.95ZM179.38,107.77L178.04,108.55L176.70,107.77L176.70,106.23L178.04,105.45L179.38,106.23ZM182.01,112.33L180.67,113.10L179.33,112.33L179.33,110.78L180.67,110.01L182.01,110.78ZM184.64,116.88L183.30,117.66L181.96,116.88L181.96,115.34L183.30,114.56L184.64,115.34ZM184.64,121.44L183.30,122.21L181.96,121.44L181.96,119.89L183.30,119.12L184.64,119.89Z" fill="#21918c" stroke="#1e1a30" stroke-opacity="0.65" stroke-width="0.35"/>
<path d="M134.67,112.33L133.33,113.10L131.99,112.33L131.99,110.78L133.33,110.01L134.67,110.78ZM135.99,128.27L134.65,129.05L133.30,128.27L133.30,126.72L134.65,125.95L135.99,126.72ZM137.30,112.33L135.96,113.10L134.62,112.33L134.62,110.78L135.96,110.01L137.30,110.78ZM193.85,146.49L192.50,147.27L191.16,146.49L191.16,144.95L192.50,144.17L193.85,144.95ZM199.11,141.94L197.76,142.71L196.42,141.94L196.42,140.39L197.76,139.62L199.11,140.39ZM208.31,121.44L206.97,122.21L205.63,121.44L205.63,119.89L206.97,119.12L208.31,119.89ZM249.08,82.72L247.74,83.49L246.39,82.72L246.39,81.17L247.74,80.40L249.08,81.17ZM254.34,82.72L253.00,83.49L251.65,82.72L251.65,81.17L253.00,80.40L254.34,81.17ZM72.87,73.61L71.53,74.38L70.18,73.61L70.18,72.06L71.53,71.29L72.87,72.06ZM74.18,75.89L72.84,76.66L71.50,75.89L71.50,74.34L72.84,73.56L74.18,74.34ZM78.13,87.28L76.79,88.05L75.44,87.28L75.44,85.73L76.79,84.95L78.13,85.73ZM80.76,87.28L79.42,88.05L78.07,87.28L78.07,85.73L79.42,84.95L80.76,85.73ZM82.07,85.00L80.73,85.77L79.39,85.00L79.39,83.45L80.73,82.67L82.07,83.45ZM83.39,87.28L82.05,88.05L80.70,87.28L80.70,85.73L82.05,84.95L83.39,85.73ZM86.02,78.16L84.68,78.94L83.33,78.16L83.33,76.62L84.68,75.84L86.02,76.62ZM84.70,85.00L83.36,85.77L82.02,85.00L82.02,83.45L83.36,82.67L84.70,83.45ZM91.28,91.83L89.94,92.61L88.59,91.83L88.59,90.28L89.94,89.51L91.28,90.28ZM95.22,85.00L93.88,85.77L92.54,85.00L92.54,83.45L93.88,82.67L95.22,83.45ZM101.80,87.28L100.46,88.05L99.11,87.28L99.11,85.73L100.46,84.95L101.80,85.73ZM103.11,75.89L101.77,76.66L100.43,75.89L100.43,74.34L101.77,73.56L103.11,74.34ZM103.11,80.44L101.77,81.22L100.43,80.44L100.43,78.89L101.77,78.12L103.11,78.89ZM104.43,87.28L103.09,88.05L101.74,87.28L101.74,85.73L103.09,84.95L104.43,85.73ZM108.37,85.00L107.03,85.77L105.69,85.00L105.69,83.45L107.03,82.67L108.37,83.45ZM109.69,87.28L108.34,88.05L107.00,87.28L107.00,85.73L108.34,84.95L109.69,85.73ZM113.63,85.00L112.29,85.77L110.95,85.00L110.95,83.45L112.29,82.67L113.63,83.45ZM114.95,87.28L113.61,88.05L112.26,87.28L112.26,85.73L113.61,84.95L114.95,85.73ZM109.69,96.39L108.34,97.16L107.00,96.39L107.00,94.84L108.34,94.06L109.69,94.84ZM111.00,94.11L109.66,94.88L108.32,94.11L108.32,92.56L109.66,91.79L111.00,92.56ZM87.33,107.77L85.99,108.55L84.65,107.77L84.65,106.23L85.99,105.45L87.33,106.23ZM96.54,110.05L95.20,110.83L93.85,110.05L93.85,108.50L95.20,107.73L96.54,108.50ZM97.85,103.22L96.51,103.99L95.17,103.22L95.17,101.67L96.51,100.90L97.85,101.67ZM284.58,75.89L283.24,76.66L281.90,75.89L281.90,74.34L283.24,73.56L284.58,74.34ZM258.28,98.66L256.94,99.44L255.60,98.66L255.60,97.12L256.94,96.34L258.28,97.12ZM283.27,87.28L281.93,88.05L280.58,87.28L280.58,85.73L281.93,84.95L283.27,85.73ZM285.90,91.83L284.56,92.61L283.21,91.83L283.21,90.28L284.56,89.51L285.90,90.28ZM284.58,94.11L283.24,94.88L281.90,94.11L281.90,92.56L283.24,91.79L284.58,92.56ZM288.53,96.39L287.19,97.16L285.84,96.39L285.84,94.84L287.19,94.06L288.53,94.84ZM291.16,100.94L289.81,101.72L288.47,100.94L288.47,99.39L289.81,98.62L291.16,99.39ZM289.84,103.22L288.50,103.99L287.16,103.22L287.16,101.67L288.50,100.90L289.84,101.67ZM301.68,119.16L300.34,119.94L298.99,119.16L298.99,117.61L300.34,116.84L301.68,117.61ZM300.36,126.00L299.02,126.77L297.68,126.00L297.68,124.45L299.02,123.67L300.36,124.45ZM304.31,114.61L302.97,115.38L301.62,114.61L301.62,113.06L302.97,112.28L304.31,113.06ZM305.62,121.44L304.28,122.21L302.94,121.44L302.94,119.89L304.28,119.12L305.62,119.89ZM314.83,119.16L313.49,119.94L312.14,119.16L312.14,117.61L313.49,116.84L314.83,117.61ZM313.51,121.44L312.17,122.21L310.83,121.44L310.83,119.89L312.17,119.12L313.51,119.89ZM285.90,123.72L284.56,124.49L283.21,123.72L283.21,122.17L284.56,121.39L285.90,122.17ZM288.53,123.72L287.19,124.49L285.84,123.72L285.84,122.17L287.19,121.39L288.53,122.17ZM280.64,128.27L279.30,129.05L277.95,128.27L277.95,126.72L279.30,125.95L280.64,126.72ZM283.27,128.27L281.93,129.05L280.58,128.27L280.58,126.72L281.93,125.95L283.27,126.72ZM302.99,126.00L301.65,126.77L300.31,126.00L300.31,124.45L301.65,123.67L302.99,124.45ZM308.25,135.11L306.91,135.88L305.57,135.11L305.57,133.56L306.91,132.78L308.25,133.56ZM320.09,132.83L318.75,133.60L317.40,132.83L317.40,131.28L318.75,130.51L320.09,131.28ZM321.40,135.11L320.06,135.88L318.72,135.11L318.72,133.56L320.06,132.78L321.40,133.56ZM333.24,128.27L331.89,129.05L330.55,128.27L330.55,126.72L331.89,125.95L333.24,126.72ZM231.98,80.44L230.64,81.22L229.30,80.44L229.30,78.89L230.64,78.12L231.98,78.89ZM235.93,87.28L234.59,88.05L233.24,87.28L233.24,85.73L234.59,84.95L235.93,85.73ZM238.56,96.39L237.22,97.16L235.87,96.39L235.87,94.84L237.22,94.06L238.56,94.84ZM241.19,96.39L239.84,97.16L238.50,96.39L238.50,94.84L239.84,94.06L241.19,94.84ZM247.76,98.66L246.42,99.44L245.08,98.66L245.08,97.12L246.42,96.34L247.76,97.12ZM204.37,82.72L203.03,83.49L201.68,82.72L201.68,81.17L203.03,80.40L204.37,81.17ZM207.00,87.28L205.66,88.05L204.31,87.28L204.31,85.73L205.66,84.95L207.00,85.73ZM209.63,91.83L208.28,92.61L206.94,91.83L206.94,90.28L208.28,89.51L209.63,90.28ZM213.57,89.55L212.23,90.33L210.89,89.55L210.89,88.00L212.23,87.23L213.57,88.00ZM217.52,78.16L216.18,78.94L214.83,78.16L214.83,76.62L216.18,75.84L217.52,76.62ZM220.15,78.16L218.81,78.94L217.46,78.16L217.46,76.62L218.81,75.84L220.15,76.62ZM222.78,78.16L221.44,78.94L220.09,78.16L220.09,76.62L221.44,75.84L222.78,76.62ZM229.35,80.44L228.01,81.22L226.67,80.44L226.67,78.89L228.01,78.12L229.35,78.89ZM209.63,123.72L208.28,124.49L206.94,123.72L206.94,122.17L208.28,121.39L209.63,122.17ZM210.94,116.88L209.60,117.66L208.26,116.88L208.26,115.34L209.60,114.56L210.94,115.34ZM212.26,128.27L210.91,129.05L209.57,128.27L209.57,126.72L210.91,125.95L212.26,126.72ZM220.15,123.72L218.81,124.49L217.46,123.72L217.46,122.17L218.81,121.39L220.15,122.17ZM221.46,112.33L220.12,113.10L218.78,112.33L218.78,110.78L220.12,110.01L221.46,110.78ZM222.78,114.61L221.44,115.38L220.09,114.61L220.09,113.06L221.44,112.28L222.78,113.06ZM157.03,91.83L155.69,92.61L154.34,91.83L154.34,90.28L155.69,89.51L157.03,90.28ZM166.23,103.22L164.89,103.99L163.55,103.22L163.55,101.67L164.89,100.90L166.23,101.67ZM167.55,100.94L166.21,101.72L164.86,100.94L164.86,99.39L166.21,98.62L167.55,99.39ZM180.70,100.94L179.35,101.72L178.01,100.94L178.01,99.39L179.35,98.62L180.70,99.39ZM182.01,107.77L180.67,108.55L179.33,107.77L179.33,106.23L180.67,105.45L182.01,106.23ZM183.33,114.61L181.99,115.38L180.64,114.61L180.64,113.06L181.99,112.28L183.33,113.06ZM34.73,130.55L33.39,131.33L32.05,130.55L32.05,129.00L33.39,128.23L34.73,129.00Z" fill="#2a788e" stroke="#1e1a30" stroke-opacity="0.65" stroke-width="0.35"/>
<path d="M200.42,139.66L199.08,140.44L197.74,139.66L197.74,138.11L199.08,137.34L200.42,138.11ZM203.05,135.11L201.71,135.88L200.37,135.11L200.37,133.56L201.71,132.78L203.05,133.56ZM207.00,128.27L205.66,129.05L204.31,128.27L204.31,126.72L205.66,125.95L207.00,126.72ZM70.24,73.61L68.90,74.38L67.55,73.61L67.55,72.06L68.90,71.29L70.24,72.06ZM70.24,78.16L68.90,78.94L67.55,78.16L67.55,76.62L68.90,75.84L70.24,76.62ZM75.50,82.72L74.16,83.49L72.81,82.72L72.81,81.17L74.16,80.40L75.50,81.17ZM96.54,100.94L95.20,101.72L93.85,100.94L93.85,99.39L95.20,98.62L96.54,99.39ZM92.59,89.55L91.25,90.33L89.91,89.55L89.91,88.00L91.25,87.23L92.59,88.00ZM97.85,75.89L96.51,76.66L95.17,75.89L95.17,74.34L96.51,73.56L97.85,74.34ZM100.48,75.89L99.14,76.66L97.80,75.89L97.80,74.34L99.14,73.56L100.48,74.34ZM104.43,78.16L103.09,78.94L101.74,78.16L101.74,76.62L103.09,75.84L104.43,76.62ZM104.43,82.72L103.09,83.49L101.74,82.72L101.74,81.17L103.09,80.40L104.43,81.17ZM103.11,85.00L101.77,85.77L100.43,85.00L100.43,83.45L101.77,82.67L103.11,83.45ZM105.74,80.44L104.40,81.22L103.06,80.44L103.06,78.89L104.40,78.12L105.74,78.89ZM105.74,85.00L104.40,85.77L103.06,85.00L103.06,83.45L104.40,82.67L105.74,83.45ZM113.63,94.11L112.29,94.88L110.95,94.11L110.95,92.56L112.29,91.79L113.63,92.56ZM270.12,82.72L268.77,83.49L267.43,82.72L267.43,81.17L268.77,80.40L270.12,81.17ZM284.58,71.33L283.24,72.11L281.90,71.33L281.90,69.78L283.24,69.01L284.58,69.78ZM289.84,98.66L288.50,99.44L287.16,98.66L287.16,97.12L288.50,96.34L289.84,97.12ZM289.84,121.44L288.50,122.21L287.16,121.44L287.16,119.89L288.50,119.12L289.84,119.89ZM295.10,121.44L293.76,122.21L292.42,121.44L292.42,119.89L293.76,119.12L295.10,119.89ZM299.05,123.72L297.70,124.49L296.36,123.72L296.36,122.17L297.70,121.39L299.05,122.17ZM302.99,121.44L301.65,122.21L300.31,121.44L300.31,119.89L301.65,119.12L302.99,119.89ZM309.57,110.05L308.23,110.83L306.88,110.05L306.88,108.50L308.23,107.73L309.57,108.50ZM309.57,114.61L308.23,115.38L306.88,114.61L306.88,113.06L308.23,112.28L309.57,113.06ZM320.09,114.61L318.75,115.38L317.40,114.61L317.40,113.06L318.75,112.28L320.09,113.06ZM292.47,126.00L291.13,126.77L289.79,126.00L289.79,124.45L291.13,123.67L292.47,124.45ZM284.58,130.55L283.24,131.33L281.90,130.55L281.90,129.00L283.24,128.23L284.58,129.00ZM278.01,132.83L276.66,133.60L275.32,132.83L275.32,131.28L276.66,130.51L278.01,131.28ZM230.67,78.16L229.32,78.94L227.98,78.16L227.98,76.62L229.32,75.84L230.67,76.62ZM234.61,89.55L233.27,90.33L231.93,89.55L231.93,88.00L233.27,87.23L234.61,88.00ZM237.24,89.55L235.90,90.33L234.56,89.55L234.56,88.00L235.90,87.23L237.24,88.00ZM239.87,94.11L238.53,94.88L237.19,94.11L237.19,92.56L238.53,91.79L239.87,92.56ZM208.31,130.55L206.97,131.33L205.63,130.55L205.63,129.00L206.97,128.23L208.31,129.00ZM212.26,123.72L210.91,124.49L209.57,123.72L209.57,122.17L210.91,121.39L212.26,122.17ZM158.34,94.11L157.00,94.88L155.66,94.11L155.66,92.56L157.00,91.79L158.34,92.56Z" fill="#355f8d" stroke="#1e1a30" stroke-opacity="0.65" stroke-width="0.35"/>
<path d="M208.31,112.33L206.97,113.10L205.63,112.33L205.63,110.78L206.97,110.01L208.31,110.78ZM279.32,80.44L277.98,81.22L276.64,80.44L276.64,78.89L277.98,78.12L279.32,78.89ZM268.80,112.33L267.46,113.10L266.12,112.33L266.12,110.78L267.46,110.01L268.80,110.78ZM271.43,112.33L270.09,113.10L268.75,112.33L268.75,110.78L270.09,110.01L271.43,110.78ZM271.43,116.88L270.09,117.66L268.75,116.88L268.75,115.34L270.09,114.56L271.43,115.34ZM279.32,116.88L277.98,117.66L276.64,116.88L276.64,115.34L277.98,114.56L279.32,115.34ZM287.21,121.44L285.87,122.21L284.53,121.44L284.53,119.89L285.87,119.12L287.21,119.89ZM271.43,139.66L270.09,140.44L268.75,139.66L268.75,138.11L270.09,137.34L271.43,138.11ZM295.10,148.77L293.76,149.55L292.42,148.77L292.42,147.22L293.76,146.45L295.10,147.22ZM300.36,144.22L299.02,144.99L297.68,144.22L297.68,142.67L299.02,141.89L300.36,142.67Z" fill="#482475" stroke="#1e1a30" stroke-opacity="0.65" stroke-width="0.35"/>
<ellipse cx="170.15" cy="107.00" rx="169.25" ry="84.50" fill="none" stroke="#4a4a4a" stroke-width="0.9"/>
</g>
<g>
<path d="M424.5,37.8L428.4,36.6L432.4,35.4L434.5,34.9L436.6,34.4L438.6,33.9L439.9,33.7L441.1,33.5L442.4,33.4L443.6,33.2L443.8,33.3L444.0,33.4L444.3,33.5L444.5,33.7L444.7,33.8L445.1,33.9L445.5,34.0L445.9,34.1L446.3,34.2L446.7,34.4L447.1,34.5L447.5,34.6L447.9,34.7L448.4,34.8L448.8,35.0L449.9,34.8L451.0,34.6L452.0,34.5L453.1,34.3L454.1,34.2L454.4,34.3L454.8,34.4L455.1,34.6L455.6,34.7L456.1,34.8L456.6,34.9L457.2,35.0L457.3,35.2L457.4,35.5L457.5,35.8L458.3,35.8L459.0,35.8L459.8,35.8L460.5,35.8L461.3,35.8L462.1,35.8L462.8,35.8L463.6,35.8L464.3,35.8L465.1,35.8L465.9,35.8L466.6,35.8L468.5,34.8L470.5,33.9L472.5,33.0L471.9,33.7L471.4,34.3L470.9,35.0L471.2,35.2L471.4,35.5L471.7,35.8L472.9,35.4L474.2,35.0L475.5,34.6L474.1,35.6L472.8,36.6L471.6,36.8L470.5,37.1L469.3,37.4L467.6,38.2L465.9,39.1L464.7,39.5L463.4,39.9L462.1,40.4L460.8,40.8L458.7,42.1L456.6,43.5L456.1,44.4L455.7,45.3L456.5,45.5L457.3,45.6L458.1,45.8L458.5,46.3L459.0,46.9L459.7,47.0L460.5,47.2L459.8,48.1L459.0,49.1L459.4,49.8L459.9,50.5L461.0,49.3L462.1,48.1L463.5,47.2L464.8,46.2L465.6,45.1L466.3,43.9L467.5,42.8L468.6,41.7L470.3,40.4L471.0,40.5L471.8,40.7L472.5,40.8L472.9,41.2L473.4,41.7L472.7,42.6L472.1,43.5L472.7,43.5L473.4,43.6L474.1,43.7L476.1,42.3L475.9,43.6L475.7,44.8L475.5,46.0L475.3,47.2L475.7,48.0L476.1,48.8L476.5,49.5L476.0,50.5L474.8,50.9L473.6,51.4L472.4,51.8L471.4,51.8L470.3,51.8L469.2,51.8L468.2,51.8L466.6,52.6L465.0,53.5L466.0,53.3L467.1,53.1L468.2,53.0L467.7,54.5L468.2,55.0L468.8,55.5L469.4,56.0L467.9,56.7L466.4,57.5L465.4,58.0L464.3,58.5L464.8,57.0L463.6,57.5L462.4,58.0L461.2,58.5L460.0,60.1L458.8,60.6L457.7,61.1L456.5,61.6L455.2,62.9L453.9,64.2L452.9,65.8L452.0,67.4L450.7,68.1L449.3,68.7L447.7,70.0L446.2,71.2L445.7,72.9L445.3,74.5L444.9,76.2L444.6,77.2L444.2,78.2L443.2,77.8L443.2,76.4L443.2,75.1L443.0,74.0L442.9,72.9L442.1,72.7L441.3,72.5L440.3,72.6L439.3,72.6L438.3,72.6L437.7,74.0L436.9,73.8L436.1,73.6L435.1,73.5L434.0,73.4L432.4,74.2L430.7,75.1L429.8,76.7L428.9,78.4L428.1,80.1L427.4,81.8L427.6,83.4L428.0,85.1L429.1,86.1L430.3,85.8L431.5,85.6L432.5,84.2L433.6,82.9L434.7,82.7L435.8,82.5L436.9,82.3L436.3,83.7L435.7,85.1L434.9,86.9L434.1,88.6L435.2,88.6L436.2,88.7L437.3,89.0L438.4,89.4L438.1,91.0L437.8,92.6L437.5,93.5L437.3,94.5L437.7,95.4L438.2,96.4L439.4,96.4L440.5,96.4L441.5,96.0L442.2,96.5L443.0,97.1L443.4,97.7L444.1,96.3L444.9,94.9L446.4,94.1L447.4,93.5L448.4,92.9L448.7,94.5L450.2,93.1L451.1,93.9L451.9,94.6L453.0,94.8L454.0,94.9L455.1,95.1L456.3,94.9L457.5,94.6L458.3,96.0L459.5,97.7L460.6,98.9L461.7,100.1L463.1,100.2L464.5,100.3L465.7,101.0L466.8,101.8L467.5,103.5L468.1,105.3L468.1,107.0L469.1,107.6L470.0,108.2L471.1,108.7L472.2,109.3L473.3,109.9L474.7,110.2L476.2,110.5L477.6,110.9L479.0,111.4L480.0,112.0L481.0,112.6L482.0,113.1L482.3,114.4L482.6,115.7L482.0,117.0L481.4,118.4L480.8,119.7L480.0,120.9L479.2,122.0L479.3,123.5L479.4,125.1L479.5,126.6L479.2,128.3L479.0,130.0L478.7,131.1L478.4,132.2L477.1,132.8L475.8,133.4L474.8,133.9L473.8,134.5L473.1,135.6L472.5,136.7L472.6,138.1L472.8,139.5L472.2,140.9L471.6,142.2L470.9,143.9L470.4,145.5L469.5,145.9L468.6,146.3L467.5,145.9L466.3,145.5L467.3,146.8L468.3,148.2L468.4,149.8L467.3,150.1L466.3,150.5L465.3,150.8L465.6,151.9L465.8,152.9L464.8,152.9L463.8,152.9L465.5,154.5L465.5,155.8L465.5,157.0L465.0,157.5L464.6,158.0L465.7,158.9L466.9,159.8L466.5,160.9L466.3,162.0L466.7,163.0L467.2,164.0L468.4,164.9L469.5,165.5L470.6,166.1L471.7,166.6L471.2,166.9L470.6,167.1L470.0,167.3L468.5,166.6L466.9,165.9L465.2,164.9L463.4,164.0L462.2,162.7L461.0,161.4L459.9,160.0L459.5,158.5L459.1,157.0L458.4,155.7L457.7,154.3L457.1,152.9L456.4,151.5L455.7,150.1L455.0,148.7L454.8,147.3L454.6,145.8L454.4,144.4L454.0,143.0L453.6,141.5L453.3,140.0L453.1,138.6L452.9,137.1L452.8,135.6L452.4,134.2L452.1,132.8L451.8,131.4L451.5,130.0L451.2,129.0L451.0,128.1L449.6,127.0L448.3,126.0L447.1,125.1L445.9,124.1L444.7,123.2L444.0,122.0L443.3,120.9L442.6,119.5L442.0,118.2L441.4,116.8L440.3,115.4L439.2,113.9L438.9,112.2L440.0,110.5L439.1,109.5L439.3,108.6L439.5,107.6L439.9,105.8L441.1,105.3L441.7,103.8L442.4,102.4L442.5,100.9L442.6,99.5L442.2,98.6L441.8,97.2L441.0,96.6L439.9,98.3L439.0,98.0L437.6,97.4L436.8,96.4L436.0,95.4L435.4,94.3L434.8,93.1L434.2,92.0L433.1,91.5L432.0,91.1L431.1,90.6L430.2,90.2L429.3,89.2L428.5,88.3L427.3,88.6L426.1,88.8L424.9,88.1L423.7,87.4L422.7,86.9L421.8,86.4L420.9,85.9L420.3,85.0L419.7,84.0L420.1,82.9L420.5,81.8L420.0,80.1L419.6,78.4L419.3,77.0L419.1,75.6L418.6,74.5L418.1,73.4L418.4,72.4L418.8,71.4L418.1,71.3L417.4,71.2L416.7,72.9L416.6,74.5L416.7,76.2L416.9,77.6L417.1,79.0L417.3,80.6L416.8,80.3L416.4,79.3L416.1,78.4L415.8,77.0L415.6,75.6L415.7,74.2L415.8,72.9L416.0,71.5L416.2,70.1L416.0,68.5L415.3,68.2L414.7,68.0L414.9,66.7L415.2,65.5L415.8,64.2L416.2,63.0L416.6,61.8L417.8,60.4L419.0,59.0L420.2,57.9L421.3,56.8L422.5,55.7L423.4,54.6L424.3,53.6L425.3,53.3L426.2,53.0L426.4,52.2L426.5,51.5L426.4,50.8L426.3,50.0L427.0,48.8L427.8,47.6L428.7,46.7L429.6,45.8L430.3,44.8L431.0,43.9L430.4,43.8L429.9,43.7L429.7,43.2L429.6,42.8L428.9,42.7L428.2,42.6L427.5,42.6L427.0,42.4L426.5,42.3L426.0,42.1L424.5,42.5L423.0,42.9L421.6,43.3L419.7,43.8L417.9,44.4L415.7,45.1L413.4,45.8L411.7,46.2L410.0,46.7L408.2,47.2L407.2,47.3L406.1,47.5L405.1,47.6L407.3,46.9L409.6,46.2L411.8,45.5L414.1,44.7L416.3,43.9L415.6,43.8L415.0,43.8L414.3,43.7L415.3,42.8L416.3,41.9L418.1,40.8L421.0,39.9L422.3,39.7L423.5,39.5L424.7,39.3L426.1,38.7L425.4,38.7L424.7,38.7L423.9,38.7L424.2,38.2ZM490.2,28.3L491.3,28.0L492.3,27.7L493.3,27.4L494.3,27.1L495.3,26.9L496.2,26.7L497.1,26.4L498.1,26.2L498.6,26.2L499.1,26.1L499.7,26.0L500.2,26.0L500.7,25.9L501.2,25.9L501.7,25.8L502.2,25.8L502.7,25.7L503.3,25.6L503.8,25.6L504.3,25.5L504.7,25.4L505.2,25.4L505.7,25.3L506.2,25.2L506.6,25.2L507.1,25.1L507.3,25.1L507.6,25.2L507.9,25.2L508.2,25.2L508.5,25.3L508.8,25.3L509.1,25.4L509.3,25.5L509.5,25.7L509.7,25.9L509.9,26.0L510.2,26.2L509.7,26.9L509.1,27.6L508.6,28.4L507.9,29.4L507.2,30.4L506.3,31.5L505.3,32.6L504.8,33.8L504.0,34.2L503.2,34.6L502.4,35.0L501.7,35.2L500.9,35.4L500.2,35.6L499.5,35.8L498.6,36.2L497.7,36.6L496.9,37.0L496.0,37.4L495.1,37.7L494.2,38.0L493.3,38.2L491.8,39.5L490.3,40.8L489.3,41.7L488.4,42.6L487.7,42.2L487.0,41.9L486.6,41.1L486.2,40.4L486.5,39.1L486.8,37.8L487.4,36.8L488.1,35.8L489.2,35.0L490.4,34.2L490.4,33.4L490.6,32.6L491.4,31.5L492.3,30.4L492.0,30.2L491.8,30.0L491.6,29.8L491.4,29.6L490.9,29.5L490.4,29.5L490.0,29.4L489.5,29.4L489.7,29.0L490.0,28.6ZM481.6,31.4L481.8,31.6L482.0,31.8L482.2,32.0L482.2,32.4L482.3,32.7L482.4,33.0L482.5,33.4L482.6,33.8L482.7,34.2L482.2,35.0L481.8,35.8L482.1,36.1L482.4,36.4L482.8,36.7L481.7,37.5L480.7,38.2L479.3,38.9L477.8,39.5L477.2,40.8L476.5,40.6L475.8,40.4L475.4,40.0L475.0,39.7L474.6,39.3L474.1,39.0L473.7,38.7L473.0,38.5L472.3,38.4L473.5,37.9L474.6,37.4L476.4,36.6L478.2,35.8L478.1,35.4L478.1,35.0L478.0,34.6L478.0,34.2L477.2,34.2L476.5,34.2L475.8,34.2L475.1,34.2L474.9,33.9L474.7,33.7L474.5,33.4L475.6,32.6L476.8,31.9L477.7,31.7L478.6,31.5L479.5,31.4L480.0,31.4L480.5,31.4L481.1,31.4ZM462.0,33.0L463.2,32.7L464.5,32.4L465.7,32.2L466.9,31.9L467.8,31.8L468.6,31.7L469.5,31.6L470.3,31.5L470.2,31.8L470.2,32.1L470.1,32.4L470.1,32.6L467.0,33.8L464.0,35.0L463.1,35.1L462.2,35.2L461.3,35.3L460.3,35.4L460.0,35.2L459.6,35.0L459.3,34.8L459.0,34.6L460.5,33.8ZM459.3,32.6L462.0,31.8L464.8,30.9L465.2,31.0L465.7,31.0L466.1,31.1L466.6,31.1L467.1,31.2L463.8,32.3L462.6,32.5L461.3,32.7L460.0,33.0L458.7,33.2L459.0,32.9ZM481.7,29.4L482.1,29.4L482.6,29.4L483.0,29.5L483.5,29.5L483.9,29.5L484.4,29.5L485.3,29.3L486.1,29.1L487.0,28.9L487.9,28.7L488.9,28.5L489.8,28.2L490.7,28.0L491.7,27.7L492.7,27.5L493.7,27.2L494.6,27.0L495.6,26.7L496.6,26.5L498.0,26.1L499.4,25.6L499.2,25.6L499.0,25.5L498.8,25.5L498.7,25.4L498.5,25.4L498.3,25.3L498.0,25.3L497.6,25.3L497.2,25.3L496.8,25.3L496.5,25.3L496.1,25.4L495.7,25.4L495.1,25.4L494.5,25.5L493.9,25.6L493.2,25.7L492.6,25.8L492.0,25.8L491.3,25.9L490.2,26.1L489.2,26.4L488.1,26.6L487.0,26.8L487.0,26.9L487.1,27.1L487.1,27.2L487.2,27.3L487.3,27.4L486.5,27.6L485.6,27.7L484.8,27.9L483.9,28.1L482.8,28.7ZM480.9,29.4L481.3,29.5L481.8,29.5L482.2,29.6L482.6,29.6L483.1,29.7L483.5,29.8L484.0,29.8L484.4,29.9L482.9,30.7L482.3,30.7L481.7,30.7L481.1,30.7L480.5,30.7L479.9,30.7L479.3,30.7L478.7,30.7L478.1,30.7L479.5,30.0ZM470.6,29.7L471.3,29.7L472.1,29.6L472.8,29.6L473.5,29.5L474.3,29.5L475.0,29.4L475.4,29.4L475.8,29.4L476.3,29.5L476.7,29.5L477.2,29.5L477.6,29.5L476.9,30.0L476.2,30.4L475.6,30.4L475.0,30.4L474.5,30.4L473.9,30.4L473.4,30.4L472.7,30.5L471.9,30.6L471.2,30.7L470.5,30.8L470.1,30.7L469.7,30.7L469.3,30.6L469.0,30.5L468.6,30.4ZM472.5,31.3L473.1,31.3L473.6,31.3L474.1,31.3L474.6,31.3L473.6,32.0L472.7,32.6L471.9,32.8L471.1,33.0L470.9,32.8L470.7,32.6L470.6,32.4L470.4,32.3ZM468.2,37.8L469.3,37.6L470.4,37.4L470.3,38.0L470.2,38.5L470.1,39.1L468.8,39.6L467.5,40.1L466.9,39.9L466.4,39.7L465.9,39.5L467.0,38.7ZM471.6,54.3L473.0,52.9L474.4,51.5L475.4,51.0L476.4,50.4L476.4,51.4L476.5,52.4L476.6,53.5L476.1,55.0L475.0,55.3L474.3,55.1L473.7,55.0L473.0,54.7L472.3,54.5ZM438.9,81.8L440.4,81.1L442.0,80.4L443.1,80.7L444.2,80.9L445.3,81.2L446.2,82.1L447.1,82.9L448.1,83.8L447.0,83.9L446.0,84.0L445.0,84.1L444.8,83.2L443.6,82.5L442.5,81.8L441.6,81.8L440.7,81.8L439.8,81.8ZM447.4,85.7L448.3,84.9L449.3,84.1L450.5,84.2L451.8,84.2L452.3,84.9L452.9,85.6L451.9,85.8L450.9,86.1L449.7,86.5L448.5,86.1ZM443.9,85.8L444.8,85.9L445.7,85.9L444.9,86.5ZM502.2,37.8L502.9,37.4L503.5,37.1L504.2,37.1L504.9,37.1L505.6,37.1L506.2,37.2L506.8,37.3L507.4,37.4L507.8,38.2L506.8,38.9L506.0,39.1L505.2,39.4L504.4,39.6L503.8,39.5L503.1,39.3L502.5,39.2L503.1,38.4L502.6,38.1ZM507.8,65.3L507.6,64.3L507.5,63.4L507.9,62.2L508.2,61.1L508.1,59.9L508.0,58.8L509.0,58.2L510.0,58.3L511.0,58.4L512.1,58.5L512.9,58.6L513.8,58.6L514.0,57.3L514.3,56.0L513.3,54.7L512.5,54.1L511.7,53.6L512.5,53.5L513.3,53.4L514.1,53.3L513.9,52.3L514.6,52.4L515.3,52.5L516.3,51.1L516.9,50.9L517.6,50.6L518.0,49.8L518.4,49.1L519.1,48.8L519.9,48.6L520.5,48.4L521.0,48.1L520.6,46.7L520.4,45.3L521.1,45.0L521.8,44.7L521.8,45.4L521.9,46.2L521.7,47.2L522.6,48.1L523.5,47.7L524.2,47.9L524.8,48.1L525.7,47.9L526.6,47.7L527.5,47.5L528.6,47.7L529.0,46.7L528.8,45.3L529.5,44.8L530.1,44.9L530.7,45.1L529.9,43.9L529.8,43.2L530.6,43.1L531.5,43.0L532.3,42.9L532.9,42.8L533.4,42.6L532.3,42.1L531.7,42.2L531.0,42.3L530.3,42.4L529.6,42.5L528.8,42.6L527.9,41.7L527.7,40.8L527.4,39.9L528.0,39.2L528.6,38.4L528.8,37.8L527.9,37.7L527.1,37.6L527.0,38.7L526.5,39.1L526.0,39.6L525.5,40.1L525.5,40.9L525.4,41.7L526.0,42.1L526.6,42.6L526.1,43.3L525.6,43.9L525.7,44.8L525.8,45.8L525.2,46.2L524.6,46.7L523.6,46.7L523.0,45.5L522.4,44.4L521.6,43.2L520.9,43.7L520.2,44.2L519.4,43.9L518.6,43.7L518.4,42.7L518.1,41.7L518.6,40.4L519.4,39.8L520.2,39.3L520.9,38.5L521.6,37.8L521.9,37.0L522.1,36.2L522.6,35.6L523.1,35.1L523.6,34.6L524.2,34.2L524.8,34.0L525.3,33.8L525.8,33.5L526.5,33.5L527.2,33.4L527.9,33.5L528.6,33.5L529.3,33.9L529.9,34.2L530.7,34.4L531.4,34.6L532.1,34.8L532.7,34.9L533.4,35.0L534.3,35.4L535.2,35.8L536.2,36.2L536.6,37.1L536.0,37.1L535.3,37.1L534.7,37.1L534.0,37.0L533.4,36.9L532.7,36.8L533.3,37.5L534.0,38.2L534.9,38.7L535.8,39.1L536.5,38.8L537.2,38.5L536.7,37.4L537.3,37.3L537.9,37.3L538.5,37.2L537.9,36.4L537.2,35.5L538.4,36.0L539.6,36.6L540.1,36.3L540.7,36.0L541.2,35.8L541.7,35.5L542.4,35.5L543.0,35.4L543.7,35.4L544.3,35.3L545.0,35.3L544.4,34.3L545.2,34.5L546.0,34.6L546.8,34.8L547.6,35.0L548.3,35.2L549.1,35.4L547.6,34.4L546.1,33.4L545.5,32.6L544.9,31.9L545.6,32.0L546.3,32.1L547.0,32.3L548.7,33.4L550.5,34.6L552.3,35.8L553.0,37.0L553.3,36.8L553.6,36.6L552.8,35.8L552.0,35.0L550.4,34.0L548.8,33.0L548.9,32.8L549.1,32.6L549.5,32.5L549.9,32.4L550.2,32.3L549.4,31.5L549.9,31.4L550.3,31.3L550.8,31.2L551.2,31.2L549.8,30.4L550.0,30.3L550.2,30.1L550.4,29.9L550.6,29.7L550.9,29.7L551.3,29.6L551.7,29.5L552.0,29.5L552.3,29.4L552.2,29.1L552.0,28.9L551.8,28.6L553.1,28.9L554.4,29.2L555.3,29.3L556.3,29.5L557.2,29.6L558.2,29.7L559.9,30.4L561.6,31.2L561.4,31.3L561.2,31.4L560.9,31.5L560.7,31.7L561.3,31.6L561.8,31.6L562.4,31.6L562.9,31.5L563.8,31.6L564.6,31.7L565.5,31.8L566.4,31.9L566.7,31.8L567.0,31.7L567.3,31.6L567.6,31.5L569.1,31.9L570.7,32.3L572.3,32.6L573.9,33.1L575.6,33.5L575.8,33.4L576.0,33.3L576.3,33.1L576.5,33.0L576.5,32.8L576.5,32.6L576.6,32.4L576.6,32.3L577.3,32.3L578.0,32.3L578.7,32.3L579.4,32.4L580.1,32.4L581.4,32.7L582.7,32.9L584.0,33.1L585.3,33.4L586.3,33.5L587.4,33.7L588.4,33.8L589.4,33.9L590.4,34.0L591.4,34.2L592.5,34.4L593.6,34.6L594.0,34.5L594.4,34.4L594.8,34.3L595.2,34.2L597.2,34.6L599.2,35.0L599.6,34.9L600.0,34.8L600.4,34.7L600.8,34.6L602.2,34.8L603.6,35.0L607.0,36.0L610.3,37.1L613.5,38.2L613.5,38.4L613.6,38.7L616.1,39.5L618.7,40.4L618.3,40.5L617.9,40.7L617.4,40.8L617.8,41.2L618.1,41.7L618.3,42.1L618.6,42.6L617.8,42.6L617.1,42.6L616.3,42.6L615.5,42.6L616.8,43.5L618.1,44.4L620.4,45.8L622.7,47.2L623.7,48.1L624.7,49.1L625.0,49.7L625.2,50.4L625.5,51.0L623.2,49.7L620.8,48.4L618.4,47.2L616.5,46.0L614.5,44.8L614.2,44.2L613.7,43.5L613.0,42.8L612.2,42.1L611.3,41.5L610.4,40.8L610.0,41.0L609.6,41.2L609.8,41.7L610.0,42.1L610.1,42.6L610.1,42.9L610.1,43.2L609.2,43.1L608.2,43.1L607.3,43.0L606.6,43.1L605.9,43.1L605.2,43.2L604.6,43.2L604.2,43.4L603.8,43.7L603.4,43.9L604.9,45.3L606.3,46.7L607.5,48.1L608.2,48.1L608.9,48.1L610.3,48.6L611.7,49.1L612.9,50.0L614.1,51.0L615.9,52.5L617.6,54.0L618.1,55.0L618.6,56.0L619.0,57.3L619.3,58.7L618.3,58.9L617.3,59.0L616.9,59.7L617.6,60.9L618.3,62.1L617.8,62.4L617.2,62.7L619.1,64.0L620.9,65.3L621.5,66.3L622.2,67.2L621.5,67.7L620.7,68.1L619.6,66.7L618.4,65.3L616.5,64.2L615.4,63.2L614.3,62.1L613.6,62.7L612.8,63.2L611.9,61.6L611.3,62.3L610.7,63.0L610.3,63.7L612.3,65.1L613.2,65.0L614.1,64.9L615.0,64.9L614.8,65.9L614.5,66.9L614.6,67.7L616.1,68.9L617.5,70.1L618.6,71.2L619.8,72.3L620.3,73.6L620.8,74.8L620.7,76.3L620.6,77.8L620.0,79.0L619.4,80.1L618.4,80.7L617.3,81.4L616.4,81.8L615.5,82.2L614.6,82.5L614.6,83.7L612.6,82.1L611.6,82.9L611.4,84.0L611.2,85.1L612.5,86.6L613.6,88.0L614.5,89.3L615.4,90.7L616.2,92.0L616.4,93.7L615.5,94.4L614.6,95.1L613.9,96.0L613.2,96.9L612.8,95.4L611.8,94.9L610.9,94.3L609.6,92.6L608.4,91.5L607.8,92.6L607.7,93.7L607.6,94.9L608.2,96.2L608.9,97.5L610.2,99.1L611.7,100.6L612.3,102.4L612.7,103.9L613.1,105.4L612.4,105.3L611.3,104.5L610.3,103.8L609.8,102.2L609.2,100.6L608.3,98.9L607.0,97.7L607.0,96.6L606.9,95.4L606.7,94.0L606.5,92.6L605.8,91.1L605.1,89.7L604.7,88.7L604.2,87.8L603.4,88.3L602.7,88.8L601.7,88.6L601.5,87.4L601.3,86.3L600.5,85.1L599.8,84.0L597.9,82.3L597.1,81.2L596.2,81.2L595.1,82.0L594.2,82.2L593.4,82.3L593.4,84.0L592.2,84.6L591.4,86.2L590.5,87.9L589.7,88.5L588.9,89.1L589.1,90.4L589.4,91.6L589.4,93.4L589.4,95.1L588.8,96.2L588.1,96.7L587.6,97.6L586.3,96.0L585.8,94.7L585.2,93.5L584.7,92.5L584.2,91.4L583.5,90.0L582.9,88.6L582.1,86.9L581.3,85.1L581.0,84.0L580.8,82.9L580.2,81.8L579.2,83.1L578.2,82.3L577.2,81.4L578.0,80.6L577.0,80.3L576.0,80.0L574.8,78.6L573.5,78.4L572.2,78.2L570.8,78.2L569.5,78.2L568.4,78.0L567.4,77.9L566.3,77.7L565.1,76.2L564.2,76.3L563.4,76.5L562.2,76.1L561.0,75.6L560.0,74.8L559.1,74.0L557.7,72.6L556.4,72.9L557.2,74.5L558.1,75.5L559.0,76.5L559.5,77.8L560.2,77.3L560.9,79.0L562.0,79.1L563.1,79.3L563.9,78.1L564.7,76.9L565.0,78.0L565.3,79.0L566.4,79.5L567.4,80.0L568.7,81.2L568.3,82.3L568.0,83.4L567.6,85.1L566.7,86.3L565.5,87.4L564.3,88.2L563.1,89.0L562.2,89.6L561.3,90.2L560.4,90.8L559.2,91.3L558.0,91.8L556.8,92.2L555.4,92.3L555.0,91.1L554.6,89.9L554.3,89.0L554.1,88.0L553.0,86.3L551.9,84.6L551.0,83.4L550.2,82.3L549.6,80.9L548.9,79.5L548.1,78.4L547.3,77.3L546.4,76.2L545.6,75.1L545.2,73.4L545.1,74.3L545.0,75.3L544.1,74.1L543.2,72.9L542.7,71.6L543.5,71.5L544.3,71.4L544.5,70.5L544.7,69.6L544.8,68.2L544.9,66.9L544.7,65.6L543.5,65.9L542.3,66.3L541.3,66.0L540.2,65.8L539.1,65.7L538.1,65.6L537.3,64.8L536.8,63.9L536.3,63.0L536.2,61.9L535.7,61.4L534.9,61.3L534.1,61.3L533.9,62.1L533.2,61.7L533.6,63.0L534.6,64.2L534.2,65.8L533.6,65.8L532.9,65.5L532.3,63.9L531.5,62.9L530.6,61.8L530.5,60.9L530.4,60.1L529.1,59.4L527.9,58.7L527.0,57.7L526.1,56.8L525.5,56.4L524.4,56.7L524.6,57.8L525.8,59.0L526.8,59.6L527.7,60.3L528.8,61.1L529.9,61.9L528.6,61.6L528.4,63.2L528.8,63.4L527.9,64.3L527.8,63.2L527.7,62.1L527.0,61.6L526.2,61.1L525.5,60.7L524.7,60.3L524.0,59.6L523.3,59.0L522.6,58.3L521.9,57.6L520.9,58.2L520.0,58.5L519.0,58.7L518.3,58.8L517.6,58.8L517.7,60.2L516.7,60.6L515.8,61.1L514.9,62.7L514.7,63.6L514.6,64.5L513.5,65.5L512.5,65.6L511.5,65.6L510.5,66.4L510.0,65.5L509.0,65.1ZM406.1,47.3L404.3,47.7L402.5,48.1L400.7,48.5L399.0,49.0L397.5,49.2L396.0,49.5L394.6,49.7L393.1,49.9L392.1,50.0L391.0,50.1L390.0,50.1L388.8,50.8L389.8,50.7L390.9,50.7L391.9,50.6L393.4,50.4L394.8,50.1L396.3,49.9L397.8,49.6L399.6,49.2L401.3,48.8L403.1,48.4L404.9,47.9ZM426.7,35.0L426.5,35.2L426.4,35.5L426.2,35.8L426.1,36.0L425.9,36.3L425.8,36.6L425.1,37.0L424.5,37.4L422.1,38.0L419.8,38.7L419.9,38.4L420.0,38.1L420.1,37.8L420.5,37.5L421.0,37.1L418.9,37.7L416.8,38.2L420.0,37.1L423.3,36.0ZM511.1,52.0L511.9,51.8L512.7,51.7L513.5,51.5L514.4,51.3L515.2,51.1L516.1,50.9L516.2,50.1L516.3,49.4L515.4,49.1L515.0,47.6L514.1,46.7L513.8,46.2L513.9,45.5L513.9,44.8L513.2,44.8L512.6,44.8L513.3,43.8L512.7,43.8L512.0,43.8L511.2,44.8L511.6,46.2L511.8,47.2L512.8,47.3L513.1,48.6L512.1,48.8L512.2,49.5L511.5,50.2L512.3,50.4L513.1,50.5L512.0,51.0ZM508.2,50.5L509.1,50.3L510.0,50.1L510.9,49.8L511.0,49.0L511.1,48.1L511.3,47.2L510.7,47.0L510.2,46.9L509.3,47.4L508.4,47.9L508.6,49.1ZM525.3,64.2L526.1,64.2L526.9,64.1L527.8,64.0L527.6,65.6L526.5,65.1L525.3,64.7ZM521.6,61.1L522.8,61.1L522.8,62.0L522.9,63.0L521.9,63.2L521.8,62.1ZM521.8,59.5L522.5,59.0L522.6,60.6L522.1,60.6ZM534.6,66.8L535.8,67.0L537.0,67.1L536.9,67.4L535.8,67.3L534.6,67.2ZM542.0,67.4L542.9,67.1L543.7,66.7L543.4,67.5L542.3,67.9ZM543.1,72.9L543.7,74.0L544.3,75.1L544.9,76.2L545.5,77.3L546.1,78.4L546.7,79.5L547.5,80.6L548.4,81.8L548.7,83.4L549.0,85.1L549.9,86.6L550.7,88.0L552.0,89.7L553.0,90.8L554.0,92.0L555.3,92.8L555.1,93.7L556.6,94.9L557.7,94.5L558.8,94.1L560.1,93.8L561.4,93.4L562.6,93.1L562.6,94.9L562.3,96.3L561.9,97.7L561.0,99.5L560.2,101.2L559.3,102.7L558.4,104.1L557.2,105.3L556.1,106.4L555.1,107.9L554.2,109.3L552.7,111.1L552.2,112.2L551.7,113.4L551.9,114.8L552.1,116.3L552.5,117.7L552.8,119.1L552.8,120.7L552.7,122.2L552.7,123.7L552.0,124.9L551.3,126.0L550.1,126.8L548.9,127.5L547.9,128.7L546.8,130.0L546.8,131.7L546.9,133.4L545.6,134.8L544.3,136.2L544.0,137.6L543.7,138.9L542.8,140.0L541.8,141.1L540.7,142.5L539.7,143.9L538.5,144.7L537.3,145.5L536.3,145.6L535.4,145.6L534.4,145.7L533.1,146.0L531.8,146.3L531.1,145.9L530.5,145.5L530.5,144.4L530.6,143.3L530.2,142.0L529.9,140.8L529.5,139.5L528.9,138.1L528.4,136.7L528.3,135.4L528.2,134.1L528.1,132.8L527.6,131.3L527.1,129.8L526.5,128.3L526.3,126.6L526.0,124.9L526.8,123.2L527.7,121.4L527.6,119.7L527.5,118.0L527.2,116.6L526.9,115.3L526.6,113.9L526.3,112.8L525.9,111.6L524.9,110.2L523.9,108.7L524.0,107.3L524.1,105.8L524.2,104.4L524.4,102.9L523.4,101.8L522.6,101.8L521.7,101.9L520.3,101.2L519.2,99.7L517.9,99.8L516.6,99.9L515.1,100.6L513.7,101.2L512.3,101.2L511.4,101.1L510.5,101.0L509.3,101.4L508.1,101.9L507.3,101.4L506.5,100.9L505.5,99.9L504.4,99.0L503.6,98.1L502.8,97.2L502.6,95.4L501.2,94.3L500.4,93.4L499.6,92.6L499.7,90.8L499.0,90.0L499.5,89.0L500.0,88.0L500.2,86.6L500.4,85.1L500.1,84.0L499.8,82.9L500.4,81.5L500.9,80.1L501.6,78.7L502.4,77.3L503.1,76.3L503.8,75.3L504.7,74.7L505.6,74.2L506.8,72.9L506.8,71.2L507.4,70.2L508.0,69.3L508.7,68.8L509.5,68.3L509.9,67.4L510.3,66.6L510.8,66.5L511.7,66.8L512.7,67.1L513.5,67.2L514.3,67.2L515.1,66.5L516.0,65.8L517.0,65.6L518.0,65.4L519.0,65.4L519.9,65.3L520.9,65.3L522.1,65.1L523.3,65.0L524.1,65.3L523.8,66.9L523.7,68.5L524.6,69.3L525.3,69.5L526.1,69.7L527.1,70.0L528.1,70.4L528.9,71.1L529.7,71.8L530.8,72.1L531.9,72.4L532.2,71.2L532.2,70.1L533.0,69.9L533.7,69.7L535.1,70.5L536.4,71.0L537.5,71.3L538.6,71.6L539.5,71.7L540.4,71.8L541.6,71.2L542.7,71.6ZM560.9,120.9L561.1,122.2L561.3,123.5L561.5,124.9L560.9,126.0L560.4,127.1L559.7,128.9L558.9,130.6L558.2,132.2L557.5,133.9L556.7,135.6L555.8,135.9L554.9,136.2L554.0,134.5L554.0,133.4L554.0,132.2L554.6,131.1L555.2,130.0L555.3,128.3L555.4,126.6L556.4,125.9L557.4,125.2L558.5,123.9L559.5,122.6ZM589.7,95.7L591.0,97.2L591.7,98.9L591.0,99.9L590.1,100.1L589.9,98.9L589.6,97.7L589.7,96.7ZM625.5,70.7L625.0,69.7L624.5,68.7L624.8,67.9L625.0,67.1L626.1,67.0L627.2,66.8L627.1,65.9L627.0,65.1L627.4,64.7L627.9,64.2L627.3,63.2L626.7,62.1L626.0,60.7L627.2,61.5L628.3,62.3L628.9,63.3L629.5,64.2L630.4,65.3L631.2,66.4L631.5,67.4L630.5,67.8L629.3,67.9L629.0,69.1L627.9,69.3L626.9,69.6L626.7,70.1L627.0,71.6L626.3,71.6ZM625.0,60.5L624.3,59.6L623.5,58.8L622.8,57.7L622.1,56.6L624.3,57.7L625.6,58.0L626.9,58.4L626.6,59.0L626.9,60.1L625.9,59.8L624.9,59.6ZM621.6,56.0L619.9,54.6L618.2,53.3L616.5,52.0L615.0,50.8L613.5,49.7L612.0,48.6L614.7,50.0L615.9,51.0L617.2,52.0L619.2,53.0L620.2,54.0L621.1,55.0ZM622.5,80.6L622.3,79.4L622.1,78.2L623.1,78.6L623.4,80.2L623.7,81.8ZM613.8,84.9L614.7,84.0L615.7,84.5L615.3,85.9L614.1,85.7ZM604.5,100.5L605.5,100.7L606.6,101.0L608.1,102.7L609.6,104.5L610.6,105.7L611.5,106.9L612.5,108.2L613.6,109.4L614.7,110.7L614.5,112.2L614.3,113.7L613.1,113.7L612.0,112.6L610.9,111.4L610.2,109.8L609.5,108.2L608.7,106.6L607.9,105.0L607.1,104.0L606.3,102.9L605.4,101.7ZM613.6,114.9L615.1,113.9L616.0,114.4L616.9,114.9L617.9,114.7L618.9,114.5L619.8,114.8L620.6,115.0L621.4,115.5L622.2,116.0L621.9,116.9L620.6,116.8L619.3,116.6L617.9,116.4L616.9,116.1L615.8,115.8L614.8,115.6ZM617.6,105.3L618.6,105.0L619.7,104.1L620.5,103.7L621.3,103.3L622.6,101.6L623.2,100.5L623.8,99.5L624.7,98.9L625.8,99.9L626.9,101.0L625.9,102.0L625.8,103.1L625.8,104.1L626.8,105.8L625.6,107.0L624.7,108.7L624.5,110.1L624.4,111.4L623.5,111.5L622.6,111.6L621.3,110.8L619.9,110.5L618.7,108.7L617.6,107.0ZM627.2,113.4L627.3,112.2L627.4,111.1L626.8,110.2L627.3,108.6L627.8,107.0L628.7,105.6L629.8,105.8L630.8,106.0L631.7,105.6L632.7,105.1L632.2,106.5L631.1,106.5L630.0,106.5L628.9,106.5L628.3,108.2L629.4,108.2L630.2,108.1L631.1,108.0L629.8,109.1L629.3,110.2L630.2,111.1L630.6,112.2L630.0,113.1L629.2,112.4L629.0,111.5L628.8,110.5L628.4,110.5L628.2,111.9L628.0,113.4ZM638.3,107.9L639.5,107.9L640.7,107.8L641.0,108.9L641.3,109.9L642.4,110.8L643.4,109.9L644.4,109.0L645.5,109.3L646.6,109.7L647.6,110.0L648.7,110.5L649.8,110.9L650.8,111.4L651.4,112.4L652.0,113.4L652.8,113.8L653.6,114.2L652.7,115.1L653.2,116.3L653.7,117.4L654.5,118.2L655.3,118.9L653.9,118.9L652.9,118.2L651.9,117.4L651.1,116.7L650.3,115.9L648.5,117.6L647.6,117.5L646.7,117.4L645.9,116.8L645.1,116.3L644.1,116.6L644.3,115.1L644.5,113.4L643.4,112.7L642.3,112.1L641.2,111.9L640.0,111.6L639.8,110.2L639.2,109.5ZM624.8,85.7L625.6,85.8L626.4,85.8L626.8,86.9L627.2,88.0L627.0,89.7L628.2,90.8L629.9,92.0L629.5,92.2L627.8,91.1L626.7,91.1L625.8,89.9L625.1,88.3L625.0,87.0ZM629.3,98.9L629.9,98.0L630.5,97.1L631.3,96.4L632.1,95.8L632.8,97.1L633.5,98.3L633.2,99.7L632.7,100.4L631.3,99.5L630.7,98.3ZM628.4,93.4L629.2,93.0L630.0,92.6L631.6,93.1L631.6,94.3L631.6,95.4L630.3,96.0L629.1,94.9ZM623.3,116.6L624.3,116.6L625.3,116.6L626.3,116.6L627.6,116.6L628.8,116.6L630.1,116.6L631.0,116.7L631.9,116.8L632.8,116.8L633.8,116.7L632.7,117.4L631.7,118.0L630.3,118.9L629.2,118.6L628.1,118.3L627.0,118.0L625.7,117.7L624.3,117.4ZM617.2,132.2L617.7,132.0L619.1,131.3L620.5,130.7L621.7,130.3L622.8,130.0L624.2,129.4L625.5,128.9L626.3,127.7L627.0,126.6L628.1,126.9L628.9,125.7L629.8,124.7L630.8,123.7L632.4,123.0L633.2,124.1L634.6,124.2L635.1,123.1L635.6,122.0L636.6,121.1L637.4,120.7L638.3,120.3L638.1,121.0L639.2,121.0L640.3,121.1L641.2,121.0L642.0,120.9L640.8,122.6L639.9,124.3L640.6,124.9L641.3,125.4L641.9,126.2L642.4,126.9L643.7,127.1L644.6,125.7L645.4,124.3L645.9,122.9L646.3,121.5L647.0,120.5L647.7,119.4L647.9,120.6L648.0,121.8L647.9,122.7L647.7,123.6L648.9,124.2L648.7,125.7L648.5,127.1L648.1,128.7L648.8,129.5L649.4,130.2L649.3,131.3L649.2,132.5L649.6,133.9L649.9,134.9L650.1,135.9L649.7,137.2L649.2,138.4L648.0,140.0L646.7,141.4L645.4,142.8L643.9,143.9L642.4,144.9L640.7,146.3L639.0,147.6L637.2,149.2L636.0,149.5L634.8,149.8L632.7,150.9L632.4,150.5L632.2,150.1L630.7,150.6L630.1,150.2L629.4,149.9L629.5,148.7L630.3,147.4L629.4,147.2L630.3,146.1L631.1,144.9L630.2,145.9L629.3,146.8L628.7,146.7L628.1,146.6L627.9,146.3L628.2,145.3L628.5,144.2L627.8,143.8L627.2,143.3L626.1,143.1L625.0,142.9L623.4,143.3L621.9,143.6L620.8,144.0L619.7,144.4L618.6,145.4L617.6,145.4L616.7,145.4L615.7,145.4L614.4,146.0L613.2,146.6L612.4,146.6L611.5,146.6L611.2,145.8L612.3,144.6L613.4,143.3L613.7,142.2L614.1,141.1L614.5,139.8L614.9,138.4L615.0,137.3L615.1,136.2L616.1,134.5L616.6,133.4ZM629.7,152.6L630.2,152.8L630.7,153.0L631.5,152.9L632.2,152.8L630.9,154.2L629.0,155.3L627.5,155.6L628.2,154.5L629.0,153.5ZM659.3,145.9L659.1,146.9L658.8,147.8L659.2,148.5L658.4,149.4L659.3,149.4L660.3,149.4L657.8,151.0L656.8,151.3L654.2,152.9L652.7,153.5L652.7,153.2L654.6,151.9L654.4,151.2L656.8,149.8L658.1,148.5L658.5,147.5L658.9,146.6ZM652.2,152.4L652.0,153.4L650.4,154.3L648.8,155.2L647.4,155.8L645.9,156.3L644.6,157.1L643.3,157.9L642.0,158.3L640.8,158.7L640.4,158.4L639.9,158.0L641.7,157.2L643.4,156.3L645.3,155.6L647.1,155.0L649.0,153.9L650.9,152.9ZM538.5,33.0L538.4,32.4L538.2,31.9L537.7,31.2L537.2,30.4L537.4,30.1L537.6,29.8L537.7,29.5L538.1,29.5L538.5,29.4L538.9,29.4L539.3,29.3L539.7,29.2L540.1,29.2L540.4,29.6L540.6,29.9L540.4,30.2L540.1,30.4L539.8,30.6L539.5,30.8L539.9,31.5L540.2,32.3L540.6,32.9L541.0,33.6L540.4,33.5L539.7,33.5ZM518.7,27.7L519.1,27.5L519.4,27.3L519.7,27.1L520.1,27.1L520.5,27.0L520.9,26.9L521.3,26.9L521.7,26.8L522.1,26.9L522.5,27.0L523.0,27.0L523.4,27.1L523.2,27.3L523.0,27.6L522.8,27.8L522.5,28.1L522.3,28.4L522.0,28.7L521.7,29.1L521.2,29.1L520.7,29.2L520.1,28.8L519.6,28.4L519.2,28.1ZM546.1,27.7L545.6,27.4L545.0,27.1L544.4,26.8L543.8,26.5L544.9,26.7L546.1,27.0L547.2,27.2L548.4,27.4L548.7,27.7L549.1,27.9L549.4,28.1L549.6,28.4L548.7,28.2L547.9,28.1L547.0,27.9ZM568.5,30.1L568.8,30.0L569.1,29.9L569.3,29.8L569.6,29.7L570.5,29.8L571.5,30.0L572.4,30.1L573.4,30.2L574.3,30.3L574.3,30.4L574.2,30.5L574.1,30.7L574.1,30.8L573.5,30.8L572.9,30.8L572.4,30.8L571.8,30.8L571.2,30.8ZM529.1,26.8L529.3,26.7L529.5,26.6L529.7,26.5L529.9,26.4L530.1,26.3L530.3,26.2L530.8,26.3L531.3,26.3L531.8,26.4L532.4,26.4L532.9,26.5L532.9,26.7L532.9,26.9L532.9,27.1L532.5,27.1L532.1,27.1L531.7,27.1L531.3,27.1L530.9,27.1L530.5,27.1L529.8,27.0ZM453.1,185.6L453.6,185.6L454.1,185.6L454.6,185.6L455.0,185.6L455.5,185.6L456.0,185.6L456.5,185.6L457.0,185.6L457.5,185.6L458.0,185.6L458.5,185.6L459.0,185.6L459.5,185.6L460.0,185.6L460.0,185.5L460.1,185.4L460.2,185.3L460.3,185.2L460.4,185.1L460.6,185.0L460.7,184.9L460.6,184.8L460.6,184.7L460.6,184.5L460.6,184.4L460.6,184.2L460.6,184.1L460.6,183.9L460.9,183.8L461.1,183.7L461.3,183.6L461.6,183.5L461.8,183.4L462.1,183.3L462.3,183.2L462.8,183.2L463.2,183.1L463.6,183.1L464.1,183.0L464.5,182.9L465.0,182.9L465.4,182.8L466.1,182.9L466.9,182.9L467.6,183.0L468.3,183.1L469.0,183.1L469.7,183.2L470.5,183.2L470.7,183.1L470.9,182.9L471.1,182.7L471.3,182.6L471.6,182.4L471.8,182.3L472.1,182.1L472.7,182.1L473.3,182.1L473.9,182.1L474.5,182.1L475.2,182.1L475.8,182.1L476.4,182.1L477.1,182.2L477.8,182.2L478.5,182.3L479.2,182.3L479.9,182.4L480.6,182.4L481.3,182.5L481.4,182.2L481.5,181.9L481.6,181.6L481.7,181.4L481.7,181.0L481.7,180.6L481.7,180.2L481.8,179.8L481.4,179.0L481.0,178.2L480.7,177.4L480.5,176.6L480.7,176.0L480.9,175.3L481.3,175.0L481.7,174.7L482.2,174.3L483.3,174.9L483.0,175.5L482.8,176.0L482.6,176.6L483.6,177.8L484.7,179.0L486.3,180.2L487.9,181.4L489.6,182.5L491.3,183.6L491.4,184.0L491.6,184.4L491.9,184.9L492.1,185.3L492.7,185.3L493.3,185.3L493.9,185.4L494.5,185.4L495.1,185.4L495.6,185.5L496.2,185.5L496.8,185.5L497.3,185.6L497.9,185.6L498.4,185.6L498.9,185.6L499.4,185.6L499.9,185.6L500.4,185.6L500.9,185.6L501.4,185.6L501.8,185.6L502.2,185.6L502.6,185.6L503.1,185.6L503.3,185.3L503.6,185.1L503.9,184.8L504.2,184.5L504.5,184.3L504.8,184.0L505.1,183.7L505.5,183.4L505.9,183.1L506.3,182.8L506.7,182.5L507.2,182.2L507.6,182.0L508.1,181.7L508.6,181.5L509.2,181.2L509.7,181.0L510.3,180.8L510.9,180.7L511.5,180.5L512.2,180.4L512.8,180.2L513.4,180.1L514.0,180.0L514.6,179.9L515.1,179.8L515.8,179.8L516.5,179.8L517.2,179.8L517.9,179.8L518.6,179.8L519.2,179.8L519.9,179.8L520.6,179.8L521.3,179.8L522.0,179.8L522.6,179.8L523.3,179.8L524.0,179.8L524.7,179.8L525.4,179.7L526.1,179.6L526.9,179.5L527.6,179.4L528.4,179.3L529.1,179.2L529.9,179.0L530.5,179.0L531.1,179.0L531.7,179.0L532.3,179.0L533.0,178.9L533.7,178.8L534.4,178.7L535.1,178.6L535.9,178.4L536.6,178.2L537.4,178.0L538.2,177.8L539.1,177.6L540.0,177.3L541.0,177.1L541.9,176.9L542.9,176.6L543.4,176.8L543.8,177.0L544.3,177.2L544.8,177.4L545.3,177.5L545.9,177.6L546.4,177.7L546.9,177.8L547.6,177.9L548.2,178.0L548.9,178.1L549.5,178.2L549.7,178.6L549.9,179.0L550.0,179.4L550.7,179.4L551.5,179.4L552.7,179.0L554.0,178.6L555.3,178.2L556.5,177.8L557.8,177.4L558.7,177.3L559.6,177.2L560.5,177.1L561.5,177.0L562.3,176.9L563.2,176.9L564.1,176.8L564.9,176.7L565.8,176.6L566.6,176.5L567.5,176.4L568.3,176.3L569.1,176.2L569.6,176.3L570.1,176.4L570.6,176.5L571.1,176.6L571.8,176.6L572.5,176.6L573.1,176.6L573.8,176.6L574.3,176.7L574.7,176.8L575.2,176.9L575.7,177.0L576.1,177.1L576.6,177.2L577.0,177.3L577.5,177.4L578.4,177.3L579.2,177.2L580.1,177.1L580.9,177.0L581.8,176.9L582.7,176.8L583.6,176.7L584.5,176.6L585.1,176.6L585.8,176.6L586.5,176.6L587.1,176.6L587.5,176.8L587.8,176.9L588.1,177.0L588.5,177.2L589.0,177.2L589.5,177.3L590.0,177.4L590.5,177.4L590.4,177.7L590.2,178.0L590.1,178.3L589.9,178.6L590.3,178.7L590.6,178.8L591.0,178.9L591.3,179.0L591.4,179.2L591.4,179.4L591.4,179.6L591.4,179.8L591.4,180.0L591.4,180.2L591.4,180.4L591.3,180.6L591.3,180.8L591.2,181.0L591.1,181.2L591.0,181.4L587.2,182.5L583.2,183.6L580.8,184.0L578.4,184.4L576.0,184.9L573.6,185.3L573.6,185.4L573.7,185.4L573.7,185.5L573.8,185.6L574.3,185.6L574.8,185.6L575.3,185.6L575.7,185.6L576.2,185.6L576.7,185.6L577.2,185.6L572.1,186.6L566.7,187.5L560.9,188.4L554.6,189.2L547.8,189.9L540.1,190.6L530.9,191.1L515.1,191.5L515.1,191.5L515.1,191.5L515.1,191.5L515.1,191.5L515.1,191.5L515.1,191.5L515.1,191.5L515.1,191.5L515.1,191.5L515.1,191.5L515.1,191.5L515.1,191.5L515.1,191.5L515.1,191.5L515.1,191.5L515.1,191.5L515.1,191.5L515.1,191.5L515.1,191.5L515.1,191.5L515.1,191.5L515.1,191.5L515.1,191.5L515.1,191.5L515.1,191.5L515.1,191.5L515.1,191.5L515.1,191.5L515.1,191.5L515.1,191.5L515.1,191.5L515.1,191.5L515.1,191.5L515.1,191.5L515.1,191.5L515.1,191.5L515.1,191.5L515.1,191.5L515.1,191.5L515.1,191.5L515.1,191.5L515.1,191.5L515.1,191.5L515.1,191.5L515.1,191.5L515.1,191.5L515.1,191.5L515.1,191.5L515.1,191.5L515.1,191.5L515.1,191.5L515.1,191.5L515.1,191.5L515.1,191.5L515.1,191.5L515.1,191.5L515.1,191.5L515.1,191.5L515.1,191.5L515.1,191.5L515.1,191.5L515.1,191.5L515.1,191.5L515.1,191.5L515.1,191.5L515.1,191.5L515.1,191.5L515.1,191.5L515.1,191.5L515.1,191.5L515.1,191.5L515.1,191.5L515.1,191.5L515.1,191.5L515.1,191.5L515.1,191.5L515.1,191.5L515.1,191.5L515.1,191.5L515.1,191.5L515.1,191.5L515.1,191.5L515.1,191.5L515.1,191.5L515.1,191.5L515.1,191.5L515.1,191.5L515.1,191.5L515.1,191.5L515.1,191.5L515.1,191.5L515.1,191.5L515.1,191.5L515.1,191.5L515.1,191.5L515.1,191.5L515.1,191.5L515.1,191.5L515.1,191.5L515.1,191.5L515.1,191.5L515.1,191.5L515.1,191.5L515.1,191.5L515.1,191.5L515.1,191.5L515.1,191.5L515.1,191.5L515.1,191.5L515.1,191.5L515.1,191.5L515.1,191.5L515.1,191.5L515.1,191.5L515.1,191.5L515.1,191.5L515.1,191.5L515.1,191.5L515.1,191.5L515.1,191.5L515.1,191.5L515.1,191.5L515.1,191.5L515.1,191.5L515.1,191.5L515.1,191.5L515.1,191.5L515.1,191.5L515.1,191.5L515.1,191.5L515.1,191.5L515.1,191.5L515.1,191.5L515.1,191.5L515.1,191.5L515.1,191.5L515.1,191.5L515.1,191.5L515.1,191.5L515.1,191.5L515.1,191.5L515.1,191.5L515.1,191.5L515.1,191.5L515.1,191.5L515.1,191.5L515.1,191.5L515.1,191.5L515.1,191.5L515.1,191.5L515.1,191.5L515.1,191.5L515.1,191.5L515.1,191.5L515.1,191.5L515.1,191.5L515.1,191.5L515.1,191.5L515.1,191.5L515.1,191.5L515.1,191.5L515.1,191.5L515.1,191.5L515.1,191.5L515.1,191.5L515.1,191.5L515.1,191.5L515.1,191.5L515.1,191.5L515.1,191.5L515.1,191.5L515.1,191.5L515.1,191.5L515.1,191.5L515.1,191.5L515.1,191.5L515.1,191.5L515.1,191.5L515.1,191.5L515.1,191.5L515.1,191.5L515.1,191.5L515.1,191.5L515.1,191.5L515.1,191.5L515.1,191.5L515.1,191.5L515.1,191.5L515.1,191.5L515.1,191.5L515.1,191.5L515.1,191.5L515.1,191.5L515.1,191.5L515.1,191.5L515.1,191.5L515.1,191.5L515.1,191.5L515.1,191.5L515.1,191.5L515.1,191.5L515.1,191.5L515.1,191.5L515.1,191.5L515.1,191.5L515.1,191.5L515.1,191.5L515.1,191.5L515.1,191.5L515.1,191.5L515.1,191.5L515.1,191.5L515.1,191.5L515.1,191.5L515.1,191.5L515.1,191.5L515.1,191.5L515.1,191.5L515.1,191.5L515.1,191.5L515.1,191.5L515.1,191.5L515.1,191.5L515.1,191.5L515.1,191.5L515.1,191.5L515.1,191.5L515.1,191.5L515.1,191.5L515.1,191.5L515.1,191.5L515.1,191.5L515.1,191.5L515.1,191.5L515.1,191.5L515.1,191.5L515.1,191.5L515.1,191.5L515.1,191.5L515.1,191.5L499.4,191.1L490.2,190.6L482.5,189.9L475.7,189.2L469.4,188.4L463.6,187.5L458.2,186.6Z" fill="#929497"/>
<path d="M551.5,55.2L552.4,55.1L553.3,55.0L555.1,56.5L554.6,57.0L554.0,57.5L555.0,58.5L556.0,59.5L556.8,60.4L557.7,61.3L557.9,62.2L558.2,63.2L558.7,64.2L559.1,65.3L558.3,65.5L557.4,65.6L556.4,65.2L555.5,64.8L554.9,63.7L554.4,62.7L554.4,61.6L553.2,60.3L551.9,59.0L551.0,57.5L551.3,56.3ZM538.0,60.9L539.0,60.9L540.0,60.9L540.8,60.6L541.7,60.3L542.5,60.1L543.8,60.6L545.1,61.1L546.0,60.9L546.9,60.7L547.8,60.6L546.9,59.0L545.5,58.2L544.1,57.5L543.3,56.7L543.7,55.7L544.0,54.8L543.1,55.1L542.2,55.4L541.3,55.7L542.7,56.7L542.1,57.0L541.4,57.2L540.7,57.5L539.6,56.5L540.2,55.9L539.2,55.6L538.2,55.4L537.6,56.8L537.1,58.0L537.1,59.0L537.0,60.1Z" fill="#fff"/>
<path d="M462.58,100.94L461.24,101.72L459.89,100.94L459.89,99.39L461.24,98.62L462.58,99.39ZM480.99,128.27L479.65,129.05L478.30,128.27L478.30,126.72L479.65,125.95L480.99,126.72ZM480.99,132.83L479.65,133.60L478.30,132.83L478.30,131.28L479.65,130.51L480.99,131.28ZM416.55,80.44L415.21,81.22L413.87,80.44L413.87,78.89L415.21,78.12L416.55,78.89ZM421.81,80.44L420.47,81.22L419.13,80.44L419.13,78.89L420.47,78.12L421.81,78.89ZM423.13,87.28L421.79,88.05L420.44,87.28L420.44,85.73L421.79,84.95L423.13,85.73ZM440.22,89.55L438.88,90.33L437.54,89.55L437.54,88.00L438.88,87.23L440.22,88.00ZM452.06,96.39L450.72,97.16L449.37,96.39L449.37,94.84L450.72,94.06L452.06,94.84ZM438.91,96.39L437.57,97.16L436.22,96.39L436.22,94.84L437.57,94.06L438.91,94.84ZM440.22,107.77L438.88,108.55L437.54,107.77L437.54,106.23L438.88,105.45L440.22,106.23ZM441.54,110.05L440.20,110.83L438.85,110.05L438.85,108.50L440.20,107.73L441.54,108.50ZM440.22,112.33L438.88,113.10L437.54,112.33L437.54,110.78L438.88,110.01L440.22,110.78ZM617.75,82.72L616.40,83.49L615.06,82.72L615.06,81.17L616.40,80.40L617.75,81.17ZM623.01,78.16L621.66,78.94L620.32,78.16L620.32,76.62L621.66,75.84L623.01,76.62ZM617.75,96.39L616.40,97.16L615.06,96.39L615.06,94.84L616.40,94.06L617.75,94.84ZM628.27,96.39L626.93,97.16L625.58,96.39L625.58,94.84L626.93,94.06L628.27,94.84ZM629.58,94.11L628.24,94.88L626.90,94.11L626.90,92.56L628.24,91.79L629.58,92.56ZM630.90,96.39L629.56,97.16L628.21,96.39L628.21,94.84L629.56,94.06L630.90,94.84ZM633.53,96.39L632.19,97.16L630.84,96.39L630.84,94.84L632.19,94.06L633.53,94.84ZM636.16,100.94L634.82,101.72L633.47,100.94L633.47,99.39L634.82,98.62L636.16,99.39ZM634.84,103.22L633.50,103.99L632.16,103.22L632.16,101.67L633.50,100.90L634.84,101.67ZM637.47,103.22L636.13,103.99L634.79,103.22L634.79,101.67L636.13,100.90L637.47,101.67ZM621.69,103.22L620.35,103.99L619.01,103.22L619.01,101.67L620.35,100.90L621.69,101.67ZM630.90,114.61L629.56,115.38L628.21,114.61L628.21,113.06L629.56,112.28L630.90,113.06ZM633.53,119.16L632.19,119.94L630.84,119.16L630.84,117.61L632.19,116.84L633.53,117.61ZM634.84,112.33L633.50,113.10L632.16,112.33L632.16,110.78L633.50,110.01L634.84,110.78ZM641.42,119.16L640.08,119.94L638.73,119.16L638.73,117.61L640.08,116.84L641.42,117.61ZM644.05,110.05L642.71,110.83L641.36,110.05L641.36,108.50L642.71,107.73L644.05,108.50ZM644.05,123.72L642.71,124.49L641.36,123.72L641.36,122.17L642.71,121.39L644.05,122.17ZM645.36,112.33L644.02,113.10L642.68,112.33L642.68,110.78L644.02,110.01L645.36,110.78ZM645.36,121.44L644.02,122.21L642.68,121.44L642.68,119.89L644.02,119.12L645.36,119.89ZM665.09,132.83L663.75,133.60L662.40,132.83L662.40,131.28L663.75,130.51L665.09,131.28ZM503.34,94.11L502.00,94.88L500.66,94.11L500.66,92.56L502.00,91.79L503.34,92.56ZM525.70,110.05L524.36,110.83L523.01,110.05L523.01,108.50L524.36,107.73L525.70,108.50Z" fill="#44bf70" stroke="#1e1a30" stroke-opacity="0.65" stroke-width="0.35"/>
<path d="M465.21,100.94L463.87,101.72L462.52,100.94L462.52,99.39L463.87,98.62L465.21,99.39ZM471.78,107.77L470.44,108.55L469.10,107.77L469.10,106.23L470.44,105.45L471.78,106.23ZM429.70,107.77L428.36,108.55L427.02,107.77L427.02,106.23L428.36,105.45L429.70,106.23ZM633.53,91.83L632.19,92.61L630.84,91.83L630.84,90.28L632.19,89.51L633.53,90.28ZM634.84,94.11L633.50,94.88L632.16,94.11L632.16,92.56L633.50,91.79L634.84,92.56ZM623.01,105.50L621.66,106.27L620.32,105.50L620.32,103.95L621.66,103.17L623.01,103.95ZM625.64,110.05L624.30,110.83L622.95,110.05L622.95,108.50L624.30,107.73L625.64,108.50ZM628.27,110.05L626.93,110.83L625.58,110.05L625.58,108.50L626.93,107.73L628.27,108.50ZM629.58,112.33L628.24,113.10L626.90,112.33L626.90,110.78L628.24,110.01L629.58,110.78ZM633.53,114.61L632.19,115.38L630.84,114.61L630.84,113.06L632.19,112.28L633.53,113.06ZM641.42,110.05L640.08,110.83L638.73,110.05L638.73,108.50L640.08,107.73L641.42,108.50ZM500.71,85.00L499.37,85.77L498.03,85.00L498.03,83.45L499.37,82.67L500.71,83.45ZM513.86,103.22L512.52,103.99L511.18,103.22L511.18,101.67L512.52,100.90L513.86,101.67ZM527.01,103.22L525.67,103.99L524.33,103.22L524.33,101.67L525.67,100.90L527.01,101.67Z" fill="#bddf26" stroke="#1e1a30" stroke-opacity="0.65" stroke-width="0.35"/>
<path d="M467.84,100.94L466.50,101.72L465.15,100.94L465.15,99.39L466.50,98.62L467.84,99.39ZM469.15,107.77L467.81,108.55L466.47,107.77L466.47,106.23L467.81,105.45L469.15,106.23ZM619.06,71.33L617.72,72.11L616.38,71.33L616.38,69.78L617.72,69.01L619.06,69.78ZM417.87,78.16L416.53,78.94L415.18,78.16L415.18,76.62L416.53,75.84L417.87,76.62ZM434.96,94.11L433.62,94.88L432.28,94.11L432.28,92.56L433.62,91.79L434.96,92.56ZM436.28,96.39L434.94,97.16L433.59,96.39L433.59,94.84L434.94,94.06L436.28,94.84ZM445.48,98.66L444.14,99.44L442.80,98.66L442.80,97.12L444.14,96.34L445.48,97.12ZM436.28,91.83L434.94,92.61L433.59,91.83L433.59,90.28L434.94,89.51L436.28,90.28ZM431.02,110.05L429.68,110.83L428.33,110.05L428.33,108.50L429.68,107.73L431.02,108.50ZM441.54,105.50L440.20,106.27L438.85,105.50L438.85,103.95L440.20,103.17L441.54,103.95ZM616.43,85.00L615.09,85.77L613.75,85.00L613.75,83.45L615.09,82.67L616.43,83.45ZM620.38,82.72L619.04,83.49L617.69,82.72L617.69,81.17L619.04,80.40L620.38,81.17ZM621.69,75.89L620.35,76.66L619.01,75.89L619.01,74.34L620.35,73.56L621.69,74.34ZM607.23,105.50L605.88,106.27L604.54,105.50L604.54,103.95L605.88,103.17L607.23,103.95ZM609.86,110.05L608.51,110.83L607.17,110.05L607.17,108.50L608.51,107.73L609.86,108.50ZM612.49,114.61L611.14,115.38L609.80,114.61L609.80,113.06L611.14,112.28L612.49,113.06ZM626.95,85.00L625.61,85.77L624.27,85.00L624.27,83.45L625.61,82.67L626.95,83.45ZM629.58,98.66L628.24,99.44L626.90,98.66L626.90,97.12L628.24,96.34L629.58,97.12ZM632.21,98.66L630.87,99.44L629.53,98.66L629.53,97.12L630.87,96.34L632.21,97.12ZM633.53,100.94L632.19,101.72L630.84,100.94L630.84,99.39L632.19,98.62L633.53,99.39ZM612.49,96.39L611.14,97.16L609.80,96.39L609.80,94.84L611.14,94.06L612.49,94.84ZM612.49,100.94L611.14,101.72L609.80,100.94L609.80,99.39L611.14,98.62L612.49,99.39ZM626.95,116.88L625.61,117.66L624.27,116.88L624.27,115.34L625.61,114.56L626.95,115.34ZM628.27,119.16L626.93,119.94L625.58,119.16L625.58,117.61L626.93,116.84L628.27,117.61ZM629.58,116.88L628.24,117.66L626.90,116.88L626.90,115.34L628.24,114.56L629.58,115.34ZM630.90,119.16L629.56,119.94L628.21,119.16L628.21,117.61L629.56,116.84L630.90,117.61ZM633.53,110.05L632.19,110.83L630.84,110.05L630.84,108.50L632.19,107.73L633.53,108.50ZM636.16,110.05L634.82,110.83L633.47,110.05L633.47,108.50L634.82,107.73L636.16,108.50ZM634.84,116.88L633.50,117.66L632.16,116.88L632.16,115.34L633.50,114.56L634.84,115.34ZM640.10,107.77L638.76,108.55L637.42,107.77L637.42,106.23L638.76,105.45L640.10,106.23ZM640.10,112.33L638.76,113.10L637.42,112.33L637.42,110.78L638.76,110.01L640.10,110.78ZM640.10,116.88L638.76,117.66L637.42,116.88L637.42,115.34L638.76,114.56L640.10,115.34ZM642.73,107.77L641.39,108.55L640.05,107.77L640.05,106.23L641.39,105.45L642.73,106.23ZM644.05,119.16L642.71,119.94L641.36,119.16L641.36,117.61L642.71,116.84L644.05,117.61ZM504.66,100.94L503.32,101.72L501.97,100.94L501.97,99.39L503.32,98.62L504.66,99.39ZM352.12,123.72L350.78,124.49L349.43,123.72L349.43,122.17L350.78,121.39L352.12,122.17ZM357.38,123.72L356.04,124.49L354.69,123.72L354.69,122.17L356.04,121.39L357.38,122.17Z" fill="#7ad151" stroke="#1e1a30" stroke-opacity="0.65" stroke-width="0.35"/>
<path d="M467.84,105.50L466.50,106.27L465.15,105.50L465.15,103.95L466.50,103.17L467.84,103.95ZM469.15,103.22L467.81,103.99L466.47,103.22L466.47,101.67L467.81,100.90L469.15,101.67ZM470.47,105.50L469.13,106.27L467.78,105.50L467.78,103.95L469.13,103.17L470.47,103.95ZM428.39,91.83L427.05,92.61L425.70,91.83L425.70,90.28L427.05,89.51L428.39,90.28ZM432.33,107.77L430.99,108.55L429.65,107.77L429.65,106.23L430.99,105.45L432.33,106.23ZM615.12,82.72L613.78,83.49L612.43,82.72L612.43,81.17L613.78,80.40L615.12,81.17ZM628.27,78.16L626.93,78.94L625.58,78.16L625.58,76.62L626.93,75.84L628.27,76.62ZM626.95,80.44L625.61,81.22L624.27,80.44L624.27,78.89L625.61,78.12L626.95,78.89ZM629.58,71.33L628.24,72.11L626.90,71.33L626.90,69.78L628.24,69.01L629.58,69.78ZM630.90,73.61L629.56,74.38L628.21,73.61L628.21,72.06L629.56,71.29L630.90,72.06ZM629.58,75.89L628.24,76.66L626.90,75.89L626.90,74.34L628.24,73.56L629.58,74.34ZM603.28,94.11L601.94,94.88L600.60,94.11L600.60,92.56L601.94,91.79L603.28,92.56ZM604.60,100.94L603.25,101.72L601.91,100.94L601.91,99.39L603.25,98.62L604.60,99.39ZM609.86,100.94L608.51,101.72L607.17,100.94L607.17,99.39L608.51,98.62L609.86,99.39ZM608.54,107.77L607.20,108.55L605.86,107.77L605.86,106.23L607.20,105.45L608.54,106.23ZM613.80,107.77L612.46,108.55L611.12,107.77L611.12,106.23L612.46,105.45L613.80,106.23ZM613.80,112.33L612.46,113.10L611.12,112.33L611.12,110.78L612.46,110.01L613.80,110.78ZM629.58,85.00L628.24,85.77L626.90,85.00L626.90,83.45L628.24,82.67L629.58,83.45ZM636.16,96.39L634.82,97.16L633.47,96.39L633.47,94.84L634.82,94.06L636.16,94.84ZM620.38,105.50L619.04,106.27L617.69,105.50L617.69,103.95L619.04,103.17L620.38,103.95ZM624.32,103.22L622.98,103.99L621.64,103.22L621.64,101.67L622.98,100.90L624.32,101.67ZM625.64,105.50L624.30,106.27L622.95,105.50L622.95,103.95L624.30,103.17L625.64,103.95ZM624.32,107.77L622.98,108.55L621.64,107.77L621.64,106.23L622.98,105.45L624.32,106.23ZM628.27,105.50L626.93,106.27L625.58,105.50L625.58,103.95L626.93,103.17L628.27,103.95ZM626.95,107.77L625.61,108.55L624.27,107.77L624.27,106.23L625.61,105.45L626.95,106.23ZM626.95,112.33L625.61,113.10L624.27,112.33L624.27,110.78L625.61,110.01L626.95,110.78ZM630.90,110.05L629.56,110.83L628.21,110.05L628.21,108.50L629.56,107.73L630.90,108.50ZM632.21,112.33L630.87,113.10L629.53,112.33L629.53,110.78L630.87,110.01L632.21,110.78ZM632.21,116.88L630.87,117.66L629.53,116.88L629.53,115.34L630.87,114.56L632.21,115.34ZM638.79,105.50L637.45,106.27L636.10,105.50L636.10,103.95L637.45,103.17L638.79,103.95ZM637.47,107.77L636.13,108.55L634.79,107.77L634.79,106.23L636.13,105.45L637.47,106.23ZM638.79,110.05L637.45,110.83L636.10,110.05L636.10,108.50L637.45,107.73L638.79,108.50ZM637.47,112.33L636.13,113.10L634.79,112.33L634.79,110.78L636.13,110.01L637.47,110.78ZM637.47,116.88L636.13,117.66L634.79,116.88L634.79,115.34L636.13,114.56L637.47,115.34ZM642.73,112.33L641.39,113.10L640.05,112.33L640.05,110.78L641.39,110.01L642.73,110.78ZM663.77,130.55L662.43,131.33L661.09,130.55L661.09,129.00L662.43,128.23L663.77,129.00ZM590.13,94.11L588.79,94.88L587.45,94.11L587.45,92.56L588.79,91.79L590.13,92.56ZM504.66,96.39L503.32,97.16L501.97,96.39L501.97,94.84L503.32,94.06L504.66,94.84ZM529.64,116.88L528.30,117.66L526.96,116.88L526.96,115.34L528.30,114.56L529.64,115.34ZM356.06,130.55L354.72,131.33L353.38,130.55L353.38,129.00L354.72,128.23L356.06,129.00ZM357.38,132.83L356.04,133.60L354.69,132.83L354.69,131.28L356.04,130.51L357.38,131.28ZM508.60,98.66L507.26,99.44L505.92,98.66L505.92,97.12L507.26,96.34L508.60,97.12Z" fill="#fde725" stroke="#1e1a30" stroke-opacity="0.65" stroke-width="0.35"/>
<path d="M473.10,110.05L471.76,110.83L470.41,110.05L470.41,108.50L471.76,107.73L473.10,108.50ZM477.04,112.33L475.70,113.10L474.36,112.33L474.36,110.78L475.70,110.01L477.04,110.78ZM479.67,112.33L478.33,113.10L476.99,112.33L476.99,110.78L478.33,110.01L479.67,110.78ZM479.67,126.00L478.33,126.77L476.99,126.00L476.99,124.45L478.33,123.67L479.67,124.45ZM479.67,130.55L478.33,131.33L476.99,130.55L476.99,129.00L478.33,128.23L479.67,129.00ZM482.30,112.33L480.96,113.10L479.62,112.33L479.62,110.78L480.96,110.01L482.30,110.78ZM482.30,116.88L480.96,117.66L479.62,116.88L479.62,115.34L480.96,114.56L482.30,115.34ZM484.93,116.88L483.59,117.66L482.25,116.88L482.25,115.34L483.59,114.56L484.93,115.34ZM592.76,85.00L591.42,85.77L590.08,85.00L590.08,83.45L591.42,82.67L592.76,83.45ZM596.71,82.72L595.37,83.49L594.02,82.72L594.02,81.17L595.37,80.40L596.71,81.17ZM415.24,78.16L413.90,78.94L412.55,78.16L412.55,76.62L413.90,75.84L415.24,76.62ZM419.18,80.44L417.84,81.22L416.50,80.44L416.50,78.89L417.84,78.12L419.18,78.89ZM420.50,82.72L419.16,83.49L417.81,82.72L417.81,81.17L419.16,80.40L420.50,81.17ZM427.07,89.55L425.73,90.33L424.39,89.55L424.39,88.00L425.73,87.23L427.07,88.00ZM429.70,89.55L428.36,90.33L427.02,89.55L427.02,88.00L428.36,87.23L429.70,88.00ZM441.54,100.94L440.20,101.72L438.85,100.94L438.85,99.39L440.20,98.62L441.54,99.39ZM433.65,91.83L432.31,92.61L430.96,91.83L430.96,90.28L432.31,89.51L433.65,90.28ZM437.59,80.44L436.25,81.22L434.91,80.44L434.91,78.89L436.25,78.12L437.59,78.89ZM437.59,89.55L436.25,90.33L434.91,89.55L434.91,88.00L436.25,87.23L437.59,88.00ZM441.54,91.83L440.20,92.61L438.85,91.83L438.85,90.28L440.20,89.51L441.54,90.28ZM458.63,94.11L457.29,94.88L455.95,94.11L455.95,92.56L457.29,91.79L458.63,92.56ZM441.54,96.39L440.20,97.16L438.85,96.39L438.85,94.84L440.20,94.06L441.54,94.84ZM607.23,100.94L605.88,101.72L604.54,100.94L604.54,99.39L605.88,98.62L607.23,99.39ZM609.86,105.50L608.51,106.27L607.17,105.50L607.17,103.95L608.51,103.17L609.86,103.95ZM612.49,105.50L611.14,106.27L609.80,105.50L609.80,103.95L611.14,103.17L612.49,103.95ZM612.49,110.05L611.14,110.83L609.80,110.05L609.80,108.50L611.14,107.73L612.49,108.50ZM611.17,94.11L609.83,94.88L608.49,94.11L608.49,92.56L609.83,91.79L611.17,92.56ZM630.90,100.94L629.56,101.72L628.21,100.94L628.21,99.39L629.56,98.62L630.90,99.39ZM637.47,98.66L636.13,99.44L634.79,98.66L634.79,97.12L636.13,96.34L637.47,97.12ZM605.91,98.66L604.57,99.44L603.23,98.66L603.23,97.12L604.57,96.34L605.91,97.12ZM619.06,107.77L617.72,108.55L616.38,107.77L616.38,106.23L617.72,105.45L619.06,106.23ZM628.27,114.61L626.93,115.38L625.58,114.61L625.58,113.06L626.93,112.28L628.27,113.06ZM633.53,105.50L632.19,106.27L630.84,105.50L630.84,103.95L632.19,103.17L633.53,103.95ZM636.16,105.50L634.82,106.27L633.47,105.50L633.47,103.95L634.82,103.17L636.16,103.95ZM638.79,114.61L637.45,115.38L636.10,114.61L636.10,113.06L637.45,112.28L638.79,113.06ZM641.42,114.61L640.08,115.38L638.73,114.61L638.73,113.06L640.08,112.28L641.42,113.06ZM642.73,116.88L641.39,117.66L640.05,116.88L640.05,115.34L641.39,114.56L642.73,115.34ZM647.99,112.33L646.65,113.10L645.31,112.33L645.31,110.78L646.65,110.01L647.99,110.78ZM651.94,119.16L650.60,119.94L649.25,119.16L649.25,117.61L650.60,116.84L651.94,117.61ZM657.20,110.05L655.86,110.83L654.51,110.05L654.51,108.50L655.86,107.73L657.20,108.50ZM655.88,112.33L654.54,113.10L653.20,112.33L653.20,110.78L654.54,110.01L655.88,110.78ZM655.88,116.88L654.54,117.66L653.20,116.88L653.20,115.34L654.54,114.56L655.88,115.34ZM667.72,132.83L666.38,133.60L665.03,132.83L665.03,131.28L666.38,130.51L667.72,131.28ZM666.40,135.11L665.06,135.88L663.72,135.11L663.72,133.56L665.06,132.78L666.40,133.56ZM559.89,78.16L558.55,78.94L557.20,78.16L557.20,76.62L558.55,75.84L559.89,76.62ZM500.71,94.11L499.37,94.88L498.03,94.11L498.03,92.56L499.37,91.79L500.71,92.56ZM502.03,96.39L500.69,97.16L499.34,96.39L499.34,94.84L500.69,94.06L502.03,94.84ZM505.97,98.66L504.63,99.44L503.29,98.66L503.29,97.12L504.63,96.34L505.97,97.12ZM507.29,100.94L505.95,101.72L504.60,100.94L504.60,99.39L505.95,98.62L507.29,99.39ZM511.23,103.22L509.89,103.99L508.55,103.22L508.55,101.67L509.89,100.90L511.23,101.67ZM515.18,100.94L513.84,101.72L512.49,100.94L512.49,99.39L513.84,98.62L515.18,99.39ZM520.44,100.94L519.10,101.72L517.75,100.94L517.75,99.39L519.10,98.62L520.44,99.39ZM525.70,100.94L524.36,101.72L523.01,100.94L523.01,99.39L524.36,98.62L525.70,99.39ZM523.07,105.50L521.73,106.27L520.38,105.50L520.38,103.95L521.73,103.17L523.07,103.95ZM524.38,107.77L523.04,108.55L521.70,107.77L521.70,106.23L523.04,105.45L524.38,106.23Z" fill="#21918c" stroke="#1e1a30" stroke-opacity="0.65" stroke-width="0.35"/>
<path d="M473.10,137.38L471.76,138.16L470.41,137.38L470.41,135.84L471.76,135.06L473.10,135.84ZM483.62,114.61L482.28,115.38L480.93,114.61L480.93,113.06L482.28,112.28L483.62,113.06ZM483.62,119.16L482.28,119.94L480.93,119.16L480.93,117.61L482.28,116.84L483.62,117.61ZM421.81,85.00L420.47,85.77L419.13,85.00L419.13,83.45L420.47,82.67L421.81,83.45ZM425.76,87.28L424.42,88.05L423.07,87.28L423.07,85.73L424.42,84.95L425.76,85.73ZM432.33,94.11L430.99,94.88L429.65,94.11L429.65,92.56L430.99,91.79L432.33,92.56ZM437.59,98.66L436.25,99.44L434.91,98.66L434.91,97.12L436.25,96.34L437.59,97.12ZM440.22,98.66L438.88,99.44L437.54,98.66L437.54,97.12L438.88,96.34L440.22,97.12ZM442.85,98.66L441.51,99.44L440.17,98.66L440.17,97.12L441.51,96.34L442.85,97.12ZM444.17,100.94L442.83,101.72L441.48,100.94L441.48,99.39L442.83,98.62L444.17,99.39ZM432.33,89.55L430.99,90.33L429.65,89.55L429.65,88.00L430.99,87.23L432.33,88.00ZM434.96,89.55L433.62,90.33L432.28,89.55L432.28,88.00L433.62,87.23L434.96,88.00ZM438.91,91.83L437.57,92.61L436.22,91.83L436.22,90.28L437.57,89.51L438.91,90.28ZM445.48,94.11L444.14,94.88L442.80,94.11L442.80,92.56L444.14,91.79L445.48,92.56ZM437.59,94.11L436.25,94.88L434.91,94.11L434.91,92.56L436.25,91.79L437.59,92.56ZM444.17,96.39L442.83,97.16L441.48,96.39L441.48,94.84L442.83,94.06L444.17,94.84ZM442.85,103.22L441.51,103.99L440.17,103.22L440.17,101.67L441.51,100.90L442.85,101.67ZM612.49,82.72L611.14,83.49L609.80,82.72L609.80,81.17L611.14,80.40L612.49,81.17ZM613.80,85.00L612.46,85.77L611.12,85.00L611.12,83.45L612.46,82.67L613.80,83.45ZM621.69,80.44L620.35,81.22L619.01,80.44L619.01,78.89L620.35,78.12L621.69,78.89ZM603.28,98.66L601.94,99.44L600.60,98.66L600.60,97.12L601.94,96.34L603.28,97.12ZM605.91,94.11L604.57,94.88L603.23,94.11L603.23,92.56L604.57,91.79L605.91,92.56ZM605.91,103.22L604.57,103.99L603.23,103.22L603.23,101.67L604.57,100.90L605.91,101.67ZM611.17,107.77L609.83,108.55L608.49,107.77L608.49,106.23L609.83,105.45L611.17,106.23ZM611.17,112.33L609.83,113.10L608.49,112.33L608.49,110.78L609.83,110.01L611.17,110.78ZM615.12,105.50L613.78,106.27L612.43,105.50L612.43,103.95L613.78,103.17L615.12,103.95ZM615.12,96.39L613.78,97.16L612.43,96.39L612.43,94.84L613.78,94.06L615.12,94.84ZM619.06,94.11L617.72,94.88L616.38,94.11L616.38,92.56L617.72,91.79L619.06,92.56ZM630.90,91.83L629.56,92.61L628.21,91.83L628.21,90.28L629.56,89.51L630.90,90.28ZM632.21,103.22L630.87,103.99L629.53,103.22L629.53,101.67L630.87,100.90L632.21,101.67ZM607.23,96.39L605.88,97.16L604.54,96.39L604.54,94.84L605.88,94.06L607.23,94.84ZM617.75,100.94L616.40,101.72L615.06,100.94L615.06,99.39L616.40,98.62L617.75,99.39ZM616.43,103.22L615.09,103.99L613.75,103.22L613.75,101.67L615.09,100.90L616.43,101.67ZM617.75,105.50L616.40,106.27L615.06,105.50L615.06,103.95L616.40,103.17L617.75,103.95ZM619.06,103.22L617.72,103.99L616.38,103.22L616.38,101.67L617.72,100.90L619.06,101.67ZM628.27,100.94L626.93,101.72L625.58,100.94L625.58,99.39L626.93,98.62L628.27,99.39ZM626.95,103.22L625.61,103.99L624.27,103.22L624.27,101.67L625.61,100.90L626.95,101.67ZM642.73,121.44L641.39,122.21L640.05,121.44L640.05,119.89L641.39,119.12L642.73,119.89ZM646.68,114.61L645.34,115.38L643.99,114.61L643.99,113.06L645.34,112.28L646.68,113.06ZM646.68,119.16L645.34,119.94L643.99,119.16L643.99,117.61L645.34,116.84L646.68,117.61ZM645.36,126.00L644.02,126.77L642.68,126.00L642.68,124.45L644.02,123.67L645.36,124.45ZM650.62,116.88L649.28,117.66L647.94,116.88L647.94,115.34L649.28,114.56L650.62,115.34ZM650.62,121.44L649.28,122.21L647.94,121.44L647.94,119.89L649.28,119.12L650.62,119.89ZM651.94,123.72L650.60,124.49L649.25,123.72L649.25,122.17L650.60,121.39L651.94,122.17ZM654.57,119.16L653.23,119.94L651.88,119.16L651.88,117.61L653.23,116.84L654.57,117.61ZM502.03,91.83L500.69,92.61L499.34,91.83L499.34,90.28L500.69,89.51L502.03,90.28ZM517.81,100.94L516.47,101.72L515.12,100.94L515.12,99.39L516.47,98.62L517.81,99.39ZM523.07,100.94L521.73,101.72L520.38,100.94L520.38,99.39L521.73,98.62L523.07,99.39ZM524.38,103.22L523.04,103.99L521.70,103.22L521.70,101.67L523.04,100.90L524.38,101.67ZM527.01,112.33L525.67,113.10L524.33,112.33L524.33,110.78L525.67,110.01L527.01,110.78ZM528.33,114.61L526.99,115.38L525.64,114.61L525.64,113.06L526.99,112.28L528.33,113.06ZM528.33,119.16L526.99,119.94L525.64,119.16L525.64,117.61L526.99,116.84L528.33,117.61Z" fill="#22a884" stroke="#1e1a30" stroke-opacity="0.65" stroke-width="0.35"/>
<path d="M475.73,110.05L474.39,110.83L473.04,110.05L473.04,108.50L474.39,107.73L475.73,108.50ZM474.41,135.11L473.07,135.88L471.73,135.11L471.73,133.56L473.07,132.78L474.41,133.56ZM474.41,139.66L473.07,140.44L471.73,139.66L471.73,138.11L473.07,137.34L474.41,138.11ZM478.36,132.83L477.02,133.60L475.67,132.83L475.67,131.28L477.02,130.51L478.36,131.28ZM477.04,135.11L475.70,135.88L474.36,135.11L474.36,133.56L475.70,132.78L477.04,133.56ZM480.99,123.72L479.65,124.49L478.30,123.72L478.30,122.17L479.65,121.39L480.99,122.17ZM482.30,121.44L480.96,122.21L479.62,121.44L479.62,119.89L480.96,119.12L482.30,119.89ZM595.39,85.00L594.05,85.77L592.71,85.00L592.71,83.45L594.05,82.67L595.39,83.45ZM599.34,82.72L598.00,83.49L596.65,82.72L596.65,81.17L598.00,80.40L599.34,81.17ZM416.55,75.89L415.21,76.66L413.87,75.89L413.87,74.34L415.21,73.56L416.55,74.34ZM419.18,75.89L417.84,76.66L416.50,75.89L416.50,74.34L417.84,73.56L419.18,74.34ZM420.50,78.16L419.16,78.94L417.81,78.16L417.81,76.62L419.16,75.84L420.50,76.62ZM423.13,82.72L421.79,83.49L420.44,82.72L420.44,81.17L421.79,80.40L423.13,81.17ZM431.02,91.83L429.68,92.61L428.33,91.83L428.33,90.28L429.68,89.51L431.02,90.28ZM428.39,87.28L427.05,88.05L425.70,87.28L425.70,85.73L427.05,84.95L428.39,85.73ZM431.02,87.28L429.68,88.05L428.33,87.28L428.33,85.73L429.68,84.95L431.02,85.73ZM442.85,85.00L441.51,85.77L440.17,85.00L440.17,83.45L441.51,82.67L442.85,83.45ZM449.43,82.72L448.09,83.49L446.74,82.72L446.74,81.17L448.09,80.40L449.43,81.17ZM448.11,85.00L446.77,85.77L445.43,85.00L445.43,83.45L446.77,82.67L448.11,83.45ZM452.06,82.72L450.72,83.49L449.37,82.72L449.37,81.17L450.72,80.40L452.06,81.17ZM450.74,85.00L449.40,85.77L448.06,85.00L448.06,83.45L449.40,82.67L450.74,83.45ZM448.11,94.11L446.77,94.88L445.43,94.11L445.43,92.56L446.77,91.79L448.11,92.56ZM450.74,94.11L449.40,94.88L448.06,94.11L448.06,92.56L449.40,91.79L450.74,92.56ZM453.37,94.11L452.03,94.88L450.69,94.11L450.69,92.56L452.03,91.79L453.37,92.56ZM454.69,96.39L453.35,97.16L452.00,96.39L452.00,94.84L453.35,94.06L454.69,94.84ZM459.95,96.39L458.61,97.16L457.26,96.39L457.26,94.84L458.61,94.06L459.95,94.84ZM623.01,82.72L621.66,83.49L620.32,82.72L620.32,81.17L621.66,80.40L623.01,81.17ZM624.32,80.44L622.98,81.22L621.64,80.44L621.64,78.89L622.98,78.12L624.32,78.89ZM604.60,96.39L603.25,97.16L601.91,96.39L601.91,94.84L603.25,94.06L604.60,94.84ZM607.23,87.28L605.88,88.05L604.54,87.28L604.54,85.73L605.88,84.95L607.23,85.73ZM608.54,103.22L607.20,103.99L605.86,103.22L605.86,101.67L607.20,100.90L608.54,101.67ZM615.12,110.05L613.78,110.83L612.43,110.05L612.43,108.50L613.78,107.73L615.12,108.50ZM617.75,110.05L616.40,110.83L615.06,110.05L615.06,108.50L616.40,107.73L617.75,108.50ZM626.95,89.55L625.61,90.33L624.27,89.55L624.27,88.00L625.61,87.23L626.95,88.00ZM632.21,89.55L630.87,90.33L629.53,89.55L629.53,88.00L630.87,87.23L632.21,88.00ZM632.21,94.11L630.87,94.88L629.53,94.11L629.53,92.56L630.87,91.79L632.21,92.56ZM634.84,98.66L633.50,99.44L632.16,98.66L632.16,97.12L633.50,96.34L634.84,97.12ZM609.86,96.39L608.51,97.16L607.17,96.39L607.17,94.84L608.51,94.06L609.86,94.84ZM608.54,98.66L607.20,99.44L605.86,98.66L605.86,97.12L607.20,96.34L608.54,97.12ZM616.43,98.66L615.09,99.44L613.75,98.66L613.75,97.12L615.09,96.34L616.43,97.12ZM629.58,107.77L628.24,108.55L626.90,107.77L626.90,106.23L628.24,105.45L629.58,106.23ZM649.31,114.61L647.97,115.38L646.62,114.61L646.62,113.06L647.97,112.28L649.31,113.06ZM649.31,119.16L647.97,119.94L646.62,119.16L646.62,117.61L647.97,116.84L649.31,117.61ZM651.94,110.05L650.60,110.83L649.25,110.05L649.25,108.50L650.60,107.73L651.94,108.50ZM650.62,126.00L649.28,126.77L647.94,126.00L647.94,124.45L649.28,123.67L650.62,124.45ZM654.57,110.05L653.23,110.83L651.88,110.05L651.88,108.50L653.23,107.73L654.57,108.50ZM654.57,114.61L653.23,115.38L651.88,114.61L651.88,113.06L653.23,112.28L654.57,113.06ZM653.25,116.88L651.91,117.66L650.57,116.88L650.57,115.34L651.91,114.56L653.25,115.34ZM630.90,123.72L629.56,124.49L628.21,123.72L628.21,122.17L629.56,121.39L630.90,122.17ZM678.24,128.27L676.89,129.05L675.55,128.27L675.55,126.72L676.89,125.95L678.24,126.72ZM590.13,89.55L588.79,90.33L587.45,89.55L587.45,88.00L588.79,87.23L590.13,88.00ZM569.09,80.44L567.75,81.22L566.41,80.44L566.41,78.89L567.75,78.12L569.09,78.89ZM499.40,91.83L498.06,92.61L496.71,91.83L496.71,90.28L498.06,89.51L499.40,90.28ZM508.60,103.22L507.26,103.99L505.92,103.22L505.92,101.67L507.26,100.90L508.60,101.67ZM512.55,100.94L511.21,101.72L509.86,100.94L509.86,99.39L511.21,98.62L512.55,99.39Z" fill="#2a788e" stroke="#1e1a30" stroke-opacity="0.65" stroke-width="0.35"/>
<path d="M536.22,146.49L534.88,147.27L533.53,146.49L533.53,144.95L534.88,144.17L536.22,144.95ZM540.16,144.22L538.82,144.99L537.48,144.22L537.48,142.67L538.82,141.89L540.16,142.67ZM544.11,141.94L542.76,142.71L541.42,141.94L541.42,140.39L542.76,139.62L544.11,140.39ZM545.42,139.66L544.08,140.44L542.74,139.66L542.74,138.11L544.08,137.34L545.42,138.11ZM549.37,132.83L548.02,133.60L546.68,132.83L546.68,131.28L548.02,130.51L549.37,131.28ZM552.00,114.61L550.65,115.38L549.31,114.61L549.31,113.06L550.65,112.28L552.00,113.06ZM552.00,128.27L550.65,129.05L549.31,128.27L549.31,126.72L550.65,125.95L552.00,126.72ZM554.63,110.05L553.29,110.83L551.94,110.05L551.94,108.50L553.29,107.73L554.63,108.50ZM553.31,116.88L551.97,117.66L550.63,116.88L550.63,115.34L551.97,114.56L553.31,115.34ZM553.31,126.00L551.97,126.77L550.63,126.00L550.63,124.45L551.97,123.67L553.31,124.45ZM555.94,107.77L554.60,108.55L553.26,107.77L553.26,106.23L554.60,105.45L555.94,106.23ZM594.08,82.72L592.74,83.49L591.39,82.72L591.39,81.17L592.74,80.40L594.08,81.17ZM594.08,87.28L592.74,88.05L591.39,87.28L591.39,85.73L592.74,84.95L594.08,85.73ZM415.24,73.61L413.90,74.38L412.55,73.61L412.55,72.06L413.90,71.29L415.24,72.06ZM417.87,73.61L416.53,74.38L415.18,73.61L415.18,72.06L416.53,71.29L417.87,72.06ZM428.39,78.16L427.05,78.94L425.70,78.16L425.70,76.62L427.05,75.84L428.39,76.62ZM427.07,85.00L425.73,85.77L424.39,85.00L424.39,83.45L425.73,82.67L427.07,83.45ZM429.70,85.00L428.36,85.77L427.02,85.00L427.02,83.45L428.36,82.67L429.70,83.45ZM436.28,82.72L434.94,83.49L433.59,82.72L433.59,81.17L434.94,80.40L436.28,81.17ZM436.28,87.28L434.94,88.05L433.59,87.28L433.59,85.73L434.94,84.95L436.28,85.73ZM438.91,87.28L437.57,88.05L436.22,87.28L436.22,85.73L437.57,84.95L438.91,85.73ZM438.91,73.61L437.57,74.38L436.22,73.61L436.22,72.06L437.57,71.29L438.91,72.06ZM453.37,85.00L452.03,85.77L450.69,85.00L450.69,83.45L452.03,82.67L453.37,83.45ZM456.00,85.00L454.66,85.77L453.32,85.00L453.32,83.45L454.66,82.67L456.00,83.45ZM457.32,87.28L455.98,88.05L454.63,87.28L454.63,85.73L455.98,84.95L457.32,85.73ZM459.95,87.28L458.61,88.05L457.26,87.28L457.26,85.73L458.61,84.95L459.95,85.73ZM459.95,91.83L458.61,92.61L457.26,91.83L457.26,90.28L458.61,89.51L459.95,90.28ZM461.26,89.55L459.92,90.33L458.58,89.55L458.58,88.00L459.92,87.23L461.26,88.00ZM462.58,91.83L461.24,92.61L459.89,91.83L459.89,90.28L461.24,89.51L462.58,90.28ZM449.43,91.83L448.09,92.61L446.74,91.83L446.74,90.28L448.09,89.51L449.43,90.28ZM456.00,94.11L454.66,94.88L453.32,94.11L453.32,92.56L454.66,91.79L456.00,92.56ZM461.26,71.33L459.92,72.11L458.58,71.33L458.58,69.78L459.92,69.01L461.26,69.78ZM438.91,114.61L437.57,115.38L436.22,114.61L436.22,113.06L437.57,112.28L438.91,113.06ZM598.02,80.44L596.68,81.22L595.34,80.44L595.34,78.89L596.68,78.12L598.02,78.89ZM600.65,85.00L599.31,85.77L597.97,85.00L597.97,83.45L599.31,82.67L600.65,83.45ZM616.43,112.33L615.09,113.10L613.75,112.33L613.75,110.78L615.09,110.01L616.43,110.78ZM617.75,114.61L616.40,115.38L615.06,114.61L615.06,113.06L616.40,112.28L617.75,113.06ZM616.43,116.88L615.09,117.66L613.75,116.88L613.75,115.34L615.09,114.56L616.43,115.34ZM619.06,112.33L617.72,113.10L616.38,112.33L616.38,110.78L617.72,110.01L619.06,110.78ZM621.69,112.33L620.35,113.10L619.01,112.33L619.01,110.78L620.35,110.01L621.69,110.78ZM623.01,114.61L621.66,115.38L620.32,114.61L620.32,113.06L621.66,112.28L623.01,113.06ZM621.69,116.88L620.35,117.66L619.01,116.88L619.01,115.34L620.35,114.56L621.69,115.34ZM624.32,116.88L622.98,117.66L621.64,116.88L621.64,115.34L622.98,114.56L624.32,115.34ZM632.21,121.44L630.87,122.21L629.53,121.44L629.53,119.89L630.87,119.12L632.21,119.89ZM634.84,121.44L633.50,122.21L632.16,121.44L632.16,119.89L633.50,119.12L634.84,119.89ZM637.47,121.44L636.13,122.21L634.79,121.44L634.79,119.89L636.13,119.12L637.47,119.89ZM640.10,121.44L638.76,122.21L637.42,121.44L637.42,119.89L638.76,119.12L640.10,119.89ZM644.05,114.61L642.71,115.38L641.36,114.61L641.36,113.06L642.71,112.28L644.05,113.06ZM647.99,121.44L646.65,122.21L645.31,121.44L645.31,119.89L646.65,119.12L647.99,119.89ZM649.31,123.72L647.97,124.49L646.62,123.72L646.62,122.17L647.97,121.39L649.31,122.17ZM657.20,114.61L655.86,115.38L654.51,114.61L654.51,113.06L655.86,112.28L657.20,113.06ZM657.20,119.16L655.86,119.94L654.51,119.16L654.51,117.61L655.86,116.84L657.20,117.61ZM659.83,114.61L658.49,115.38L657.14,114.61L657.14,113.06L658.49,112.28L659.83,113.06ZM658.51,116.88L657.17,117.66L655.83,116.88L655.83,115.34L657.17,114.56L658.51,115.34ZM658.51,121.44L657.17,122.21L655.83,121.44L655.83,119.89L657.17,119.12L658.51,119.89ZM662.46,114.61L661.12,115.38L659.77,114.61L659.77,113.06L661.12,112.28L662.46,113.06ZM661.14,116.88L659.80,117.66L658.46,116.88L658.46,115.34L659.80,114.56L661.14,115.34ZM662.46,119.16L661.12,119.94L659.77,119.16L659.77,117.61L661.12,116.84L662.46,117.61ZM661.14,121.44L659.80,122.21L658.46,121.44L658.46,119.89L659.80,119.12L661.14,119.89ZM665.09,114.61L663.75,115.38L662.40,114.61L662.40,113.06L663.75,112.28L665.09,113.06ZM663.77,116.88L662.43,117.66L661.09,116.88L661.09,115.34L662.43,114.56L663.77,115.34ZM666.40,116.88L665.06,117.66L663.72,116.88L663.72,115.34L665.06,114.56L666.40,115.34ZM667.72,119.16L666.38,119.94L665.03,119.16L665.03,117.61L666.38,116.84L667.72,117.61ZM666.40,121.44L665.06,122.21L663.72,121.44L663.72,119.89L665.06,119.12L666.40,119.89ZM625.64,128.27L624.30,129.05L622.95,128.27L622.95,126.72L624.30,125.95L625.64,126.72ZM620.38,132.83L619.04,133.60L617.69,132.83L617.69,131.28L619.04,130.51L620.38,131.28ZM625.64,132.83L624.30,133.60L622.95,132.83L622.95,131.28L624.30,130.51L625.64,131.28ZM615.12,137.38L613.78,138.16L612.43,137.38L612.43,135.84L613.78,135.06L615.12,135.84ZM617.75,132.83L616.40,133.60L615.06,132.83L615.06,131.28L616.40,130.51L617.75,131.28ZM616.43,135.11L615.09,135.88L613.75,135.11L613.75,133.56L615.09,132.78L616.43,133.56ZM617.75,141.94L616.40,142.71L615.06,141.94L615.06,140.39L616.40,139.62L617.75,140.39ZM646.68,141.94L645.34,142.71L643.99,141.94L643.99,140.39L645.34,139.62L646.68,140.39ZM649.31,141.94L647.97,142.71L646.62,141.94L646.62,140.39L647.97,139.62L649.31,140.39ZM651.94,128.27L650.60,129.05L649.25,128.27L649.25,126.72L650.60,125.95L651.94,126.72ZM650.62,130.55L649.28,131.33L647.94,130.55L647.94,129.00L649.28,128.23L650.62,129.00ZM651.94,132.83L650.60,133.60L649.25,132.83L649.25,131.28L650.60,130.51L651.94,131.28ZM653.25,135.11L651.91,135.88L650.57,135.11L650.57,133.56L651.91,132.78L653.25,133.56ZM638.79,151.05L637.45,151.82L636.10,151.05L636.10,149.50L637.45,148.73L638.79,149.50ZM641.42,146.49L640.08,147.27L638.73,146.49L638.73,144.95L640.08,144.17L641.42,144.95ZM640.10,148.77L638.76,149.55L637.42,148.77L637.42,147.22L638.76,146.45L640.10,147.22ZM644.05,146.49L642.71,147.27L641.36,146.49L641.36,144.95L642.71,144.17L644.05,144.95ZM647.99,144.22L646.65,144.99L645.31,144.22L645.31,142.67L646.65,141.89L647.99,142.67ZM630.90,146.49L629.56,147.27L628.21,146.49L628.21,144.95L629.56,144.17L630.90,144.95ZM632.21,144.22L630.87,144.99L629.53,144.22L629.53,142.67L630.87,141.89L632.21,142.67ZM662.46,146.49L661.12,147.27L659.77,146.49L659.77,144.95L661.12,144.17L662.46,144.95ZM671.66,121.44L670.32,122.21L668.98,121.44L668.98,119.89L670.32,119.12L671.66,119.89ZM670.35,128.27L669.00,129.05L667.66,128.27L667.66,126.72L669.00,125.95L670.35,126.72ZM663.77,98.66L662.43,99.44L661.09,98.66L661.09,97.12L662.43,96.34L663.77,97.12ZM670.35,100.94L669.00,101.72L667.66,100.94L667.66,99.39L669.00,98.62L670.35,99.39ZM678.24,100.94L676.89,101.72L675.55,100.94L675.55,99.39L676.89,98.62L678.24,99.39ZM679.55,103.22L678.21,103.99L676.87,103.22L676.87,101.67L678.21,100.90L679.55,101.67ZM680.87,105.50L679.53,106.27L678.18,105.50L678.18,103.95L679.53,103.17L680.87,103.95ZM644.05,96.39L642.71,97.16L641.36,96.39L641.36,94.84L642.71,94.06L644.05,94.84ZM649.31,91.83L647.97,92.61L646.62,91.83L646.62,90.28L647.97,89.51L649.31,90.28ZM575.67,78.16L574.33,78.94L572.98,78.16L572.98,76.62L574.33,75.84L575.67,76.62ZM578.30,78.16L576.96,78.94L575.61,78.16L575.61,76.62L576.96,75.84L578.30,76.62ZM578.30,82.72L576.96,83.49L575.61,82.72L575.61,81.17L576.96,80.40L578.30,81.17ZM580.93,82.72L579.59,83.49L578.24,82.72L578.24,81.17L579.59,80.40L580.93,81.17ZM580.93,87.28L579.59,88.05L578.24,87.28L578.24,85.73L579.59,84.95L580.93,85.73ZM579.61,89.55L578.27,90.33L576.93,89.55L576.93,88.00L578.27,87.23L579.61,88.00ZM580.93,91.83L579.59,92.61L578.24,91.83L578.24,90.28L579.59,89.51L580.93,90.28ZM582.24,85.00L580.90,85.77L579.56,85.00L579.56,83.45L580.90,82.67L582.24,83.45ZM583.56,87.28L582.22,88.05L580.87,87.28L580.87,85.73L582.22,84.95L583.56,85.73ZM582.24,89.55L580.90,90.33L579.56,89.55L579.56,88.00L580.90,87.23L582.24,88.00ZM583.56,91.83L582.22,92.61L580.87,91.83L580.87,90.28L582.22,89.51L583.56,90.28ZM583.56,96.39L582.22,97.16L580.87,96.39L580.87,94.84L582.22,94.06L583.56,94.84ZM582.24,98.66L580.90,99.44L579.56,98.66L579.56,97.12L580.90,96.34L582.24,97.12ZM586.19,87.28L584.85,88.05L583.50,87.28L583.50,85.73L584.85,84.95L586.19,85.73ZM584.87,94.11L583.53,94.88L582.19,94.11L582.19,92.56L583.53,91.79L584.87,92.56ZM586.19,96.39L584.85,97.16L583.50,96.39L583.50,94.84L584.85,94.06L586.19,94.84ZM584.87,98.66L583.53,99.44L582.19,98.66L582.19,97.12L583.53,96.34L584.87,97.12ZM584.87,103.22L583.53,103.99L582.19,103.22L582.19,101.67L583.53,100.90L584.87,101.67ZM587.50,89.55L586.16,90.33L584.82,89.55L584.82,88.00L586.16,87.23L587.50,88.00ZM588.82,91.83L587.48,92.61L586.13,91.83L586.13,90.28L587.48,89.51L588.82,90.28ZM587.50,94.11L586.16,94.88L584.82,94.11L584.82,92.56L586.16,91.79L587.50,92.56ZM588.82,96.39L587.48,97.16L586.13,96.39L586.13,94.84L587.48,94.06L588.82,94.84ZM587.50,98.66L586.16,99.44L584.82,98.66L584.82,97.12L586.16,96.34L587.50,97.12ZM587.50,103.22L586.16,103.99L584.82,103.22L584.82,101.67L586.16,100.90L587.50,101.67ZM591.45,100.94L590.11,101.72L588.76,100.94L588.76,99.39L590.11,98.62L591.45,99.39ZM590.13,103.22L588.79,103.99L587.45,103.22L587.45,101.67L588.79,100.90L590.13,101.67ZM546.74,73.61L545.39,74.38L544.05,73.61L544.05,72.06L545.39,71.29L546.74,72.06ZM545.42,75.89L544.08,76.66L542.74,75.89L542.74,74.34L544.08,73.56L545.42,74.34ZM546.74,78.16L545.39,78.94L544.05,78.16L544.05,76.62L545.39,75.84L546.74,76.62ZM548.05,75.89L546.71,76.66L545.37,75.89L545.37,74.34L546.71,73.56L548.05,74.34ZM549.37,78.16L548.02,78.94L546.68,78.16L546.68,76.62L548.02,75.84L549.37,76.62ZM550.68,75.89L549.34,76.66L548.00,75.89L548.00,74.34L549.34,73.56L550.68,74.34ZM552.00,78.16L550.65,78.94L549.31,78.16L549.31,76.62L550.65,75.84L552.00,76.62ZM552.00,82.72L550.65,83.49L549.31,82.72L549.31,81.17L550.65,80.40L552.00,81.17ZM550.68,85.00L549.34,85.77L548.00,85.00L548.00,83.45L549.34,82.67L550.68,83.45ZM553.31,85.00L551.97,85.77L550.63,85.00L550.63,83.45L551.97,82.67L553.31,83.45ZM554.63,87.28L553.29,88.05L551.94,87.28L551.94,85.73L553.29,84.95L554.63,85.73ZM553.31,89.55L551.97,90.33L550.63,89.55L550.63,88.00L551.97,87.23L553.31,88.00ZM554.63,91.83L553.29,92.61L551.94,91.83L551.94,90.28L553.29,89.51L554.63,90.28ZM555.94,85.00L554.60,85.77L553.26,85.00L553.26,83.45L554.60,82.67L555.94,83.45ZM557.26,87.28L555.92,88.05L554.57,87.28L554.57,85.73L555.92,84.95L557.26,85.73ZM557.26,91.83L555.92,92.61L554.57,91.83L554.57,90.28L555.92,89.51L557.26,90.28ZM555.94,94.11L554.60,94.88L553.26,94.11L553.26,92.56L554.60,91.79L555.94,92.56ZM558.57,94.11L557.23,94.88L555.89,94.11L555.89,92.56L557.23,91.79L558.57,92.56ZM561.20,94.11L559.86,94.88L558.52,94.11L558.52,92.56L559.86,91.79L561.20,92.56ZM563.83,94.11L562.49,94.88L561.15,94.11L561.15,92.56L562.49,91.79L563.83,92.56ZM567.78,87.28L566.44,88.05L565.09,87.28L565.09,85.73L566.44,84.95L567.78,85.73ZM565.15,91.83L563.81,92.61L562.46,91.83L562.46,90.28L563.81,89.51L565.15,90.28ZM574.35,80.44L573.01,81.22L571.67,80.44L571.67,78.89L573.01,78.12L574.35,78.89ZM554.63,114.61L553.29,115.38L551.94,114.61L551.94,113.06L553.29,112.28L554.63,113.06ZM554.63,119.16L553.29,119.94L551.94,119.16L551.94,117.61L553.29,116.84L554.63,117.61ZM554.63,123.72L553.29,124.49L551.94,123.72L551.94,122.17L553.29,121.39L554.63,122.17ZM553.31,130.55L551.97,131.33L550.63,130.55L550.63,129.00L551.97,128.23L553.31,129.00ZM553.31,135.11L551.97,135.88L550.63,135.11L550.63,133.56L551.97,132.78L553.31,133.56ZM557.26,123.72L555.92,124.49L554.57,123.72L554.57,122.17L555.92,121.39L557.26,122.17ZM557.26,128.27L555.92,129.05L554.57,128.27L554.57,126.72L555.92,125.95L557.26,126.72ZM555.94,130.55L554.60,131.33L553.26,130.55L553.26,129.00L554.60,128.23L555.94,129.00ZM559.89,119.16L558.55,119.94L557.20,119.16L557.20,117.61L558.55,116.84L559.89,117.61ZM558.57,126.00L557.23,126.77L555.89,126.00L555.89,124.45L557.23,123.67L558.57,124.45ZM559.89,128.27L558.55,129.05L557.20,128.27L557.20,126.72L558.55,125.95L559.89,126.72ZM565.15,123.72L563.81,124.49L562.46,123.72L562.46,122.17L563.81,121.39L565.15,122.17ZM566.46,112.33L565.12,113.10L563.78,112.33L563.78,110.78L565.12,110.01L566.46,110.78ZM569.09,112.33L567.75,113.10L566.41,112.33L566.41,110.78L567.75,110.01L569.09,110.78ZM567.78,114.61L566.44,115.38L565.09,114.61L565.09,113.06L566.44,112.28L567.78,113.06ZM570.41,132.83L569.07,133.60L567.72,132.83L567.72,131.28L569.07,130.51L570.41,131.28ZM519.12,98.66L517.78,99.44L516.44,98.66L516.44,97.12L517.78,96.34L519.12,97.12ZM371.84,80.44L370.50,81.22L369.16,80.44L369.16,78.89L370.50,78.12L371.84,78.89ZM375.79,82.72L374.45,83.49L373.10,82.72L373.10,81.17L374.45,80.40L375.79,81.17ZM374.47,85.00L373.13,85.77L371.79,85.00L371.79,83.45L373.13,82.67L374.47,83.45ZM371.84,130.55L370.50,131.33L369.16,130.55L369.16,129.00L370.50,128.23L371.84,129.00ZM373.16,132.83L371.82,133.60L370.47,132.83L370.47,131.28L371.82,130.51L373.16,131.28ZM375.79,128.27L374.45,129.05L373.10,128.27L373.10,126.72L374.45,125.95L375.79,126.72ZM378.42,128.27L377.08,129.05L375.73,128.27L375.73,126.72L377.08,125.95L378.42,126.72ZM381.05,128.27L379.71,129.05L378.36,128.27L378.36,126.72L379.71,125.95L381.05,126.72ZM379.73,130.55L378.39,131.33L377.05,130.55L377.05,129.00L378.39,128.23L379.73,129.00Z" fill="#440154" stroke="#1e1a30" stroke-opacity="0.65" stroke-width="0.35"/>
<path d="M538.85,146.49L537.50,147.27L536.16,146.49L536.16,144.95L537.50,144.17L538.85,144.95ZM541.48,141.94L540.13,142.71L538.79,141.94L538.79,140.39L540.13,139.62L541.48,140.39ZM542.79,144.22L541.45,144.99L540.11,144.22L540.11,142.67L541.45,141.89L542.79,142.67ZM546.74,137.38L545.39,138.16L544.05,137.38L544.05,135.84L545.39,135.06L546.74,135.84ZM548.05,130.55L546.71,131.33L545.37,130.55L545.37,129.00L546.71,128.23L548.05,129.00ZM553.31,112.33L551.97,113.10L550.63,112.33L550.63,110.78L551.97,110.01L553.31,110.78ZM427.07,80.44L425.73,81.22L424.39,80.44L424.39,78.89L425.73,78.12L427.07,78.89ZM432.33,85.00L430.99,85.77L429.65,85.00L429.65,83.45L430.99,82.67L432.33,83.45ZM434.96,85.00L433.62,85.77L432.28,85.00L432.28,83.45L433.62,82.67L434.96,83.45ZM437.59,85.00L436.25,85.77L434.91,85.00L434.91,83.45L436.25,82.67L437.59,83.45ZM440.22,85.00L438.88,85.77L437.54,85.00L437.54,83.45L438.88,82.67L440.22,83.45ZM444.17,82.72L442.83,83.49L441.48,82.72L441.48,81.17L442.83,80.40L444.17,81.17ZM449.43,78.16L448.09,78.94L446.74,78.16L446.74,76.62L448.09,75.84L449.43,76.62ZM454.69,87.28L453.35,88.05L452.00,87.28L452.00,85.73L453.35,84.95L454.69,85.73ZM458.63,89.55L457.29,90.33L455.95,89.55L455.95,88.00L457.29,87.23L458.63,88.00ZM463.89,94.11L462.55,94.88L461.21,94.11L461.21,92.56L462.55,91.79L463.89,92.56ZM452.06,91.83L450.72,92.61L449.37,91.83L449.37,90.28L450.72,89.51L452.06,90.28ZM446.80,96.39L445.46,97.16L444.11,96.39L444.11,94.84L445.46,94.06L446.80,94.84ZM449.43,96.39L448.09,97.16L446.74,96.39L446.74,94.84L448.09,94.06L449.43,94.84ZM609.86,91.83L608.51,92.61L607.17,91.83L607.17,90.28L608.51,89.51L609.86,90.28ZM628.27,87.28L626.93,88.05L625.58,87.28L625.58,85.73L626.93,84.95L628.27,85.73ZM630.90,87.28L629.56,88.05L628.21,87.28L628.21,85.73L629.56,84.95L630.90,85.73ZM620.38,114.61L619.04,115.38L617.69,114.61L617.69,113.06L619.04,112.28L620.38,113.06ZM619.06,116.88L617.72,117.66L616.38,116.88L616.38,115.34L617.72,114.56L619.06,115.34ZM625.64,114.61L624.30,115.38L622.95,114.61L622.95,113.06L624.30,112.28L625.64,113.06ZM629.58,121.44L628.24,122.21L626.90,121.44L626.90,119.89L628.24,119.12L629.58,119.89ZM659.83,110.05L658.49,110.83L657.14,110.05L657.14,108.50L658.49,107.73L659.83,108.50ZM661.14,112.33L659.80,113.10L658.46,112.33L658.46,110.78L659.80,110.01L661.14,110.78ZM628.27,128.27L626.93,129.05L625.58,128.27L625.58,126.72L626.93,125.95L628.27,126.72ZM629.58,130.55L628.24,131.33L626.90,130.55L626.90,129.00L628.24,128.23L629.58,129.00ZM623.01,132.83L621.66,133.60L620.32,132.83L620.32,131.28L621.66,130.51L623.01,131.28ZM616.43,139.66L615.09,140.44L613.75,139.66L613.75,138.11L615.09,137.34L616.43,138.11ZM651.94,137.38L650.60,138.16L649.25,137.38L649.25,135.84L650.60,135.06L651.94,135.84ZM633.53,151.05L632.19,151.82L630.84,151.05L630.84,149.50L632.19,148.73L633.53,149.50ZM636.16,151.05L634.82,151.82L633.47,151.05L633.47,149.50L634.82,148.73L636.16,149.50ZM659.83,146.49L658.49,147.27L657.14,146.49L657.14,144.95L658.49,144.17L659.83,144.95ZM659.83,151.05L658.49,151.82L657.14,151.05L657.14,149.50L658.49,148.73L659.83,149.50ZM658.51,98.66L657.17,99.44L655.83,98.66L655.83,97.12L657.17,96.34L658.51,97.12ZM675.61,100.94L674.26,101.72L672.92,100.94L672.92,99.39L674.26,98.62L675.61,99.39ZM574.35,75.89L573.01,76.66L571.67,75.89L571.67,74.34L573.01,73.56L574.35,74.34ZM576.98,80.44L575.64,81.22L574.30,80.44L574.30,78.89L575.64,78.12L576.98,78.89ZM582.24,94.11L580.90,94.88L579.56,94.11L579.56,92.56L580.90,91.79L582.24,92.56ZM586.19,100.94L584.85,101.72L583.50,100.94L583.50,99.39L584.85,98.62L586.19,99.39ZM588.82,100.94L587.48,101.72L586.13,100.94L586.13,99.39L587.48,98.62L588.82,99.39ZM591.45,96.39L590.11,97.16L588.76,96.39L588.76,94.84L590.11,94.06L591.45,94.84ZM592.76,98.66L591.42,99.44L590.08,98.66L590.08,97.12L591.42,96.34L592.76,97.12ZM584.87,107.77L583.53,108.55L582.19,107.77L582.19,106.23L583.53,105.45L584.87,106.23ZM549.37,73.61L548.02,74.38L546.68,73.61L546.68,72.06L548.02,71.29L549.37,72.06ZM552.00,87.28L550.65,88.05L549.31,87.28L549.31,85.73L550.65,84.95L552.00,85.73ZM553.31,80.44L551.97,81.22L550.63,80.44L550.63,78.89L551.97,78.12L553.31,78.89ZM554.63,82.72L553.29,83.49L551.94,82.72L551.94,81.17L553.29,80.40L554.63,81.17ZM558.57,89.55L557.23,90.33L555.89,89.55L555.89,88.00L557.23,87.23L558.57,88.00ZM559.89,91.83L558.55,92.61L557.20,91.83L557.20,90.28L558.55,89.51L559.89,90.28ZM552.00,123.72L550.65,124.49L549.31,123.72L549.31,122.17L550.65,121.39L552.00,122.17ZM555.94,116.88L554.60,117.66L553.26,116.88L553.26,115.34L554.60,114.56L555.94,115.34ZM557.26,119.16L555.92,119.94L554.57,119.16L554.57,117.61L555.92,116.84L557.26,117.61ZM555.94,121.44L554.60,122.21L553.26,121.44L553.26,119.89L554.60,119.12L555.94,119.89ZM555.94,126.00L554.60,126.77L553.26,126.00L553.26,124.45L554.60,123.67L555.94,124.45ZM558.57,116.88L557.23,117.66L555.89,116.88L555.89,115.34L557.23,114.56L558.57,115.34ZM562.52,123.72L561.18,124.49L559.83,123.72L559.83,122.17L561.18,121.39L562.52,122.17ZM561.20,126.00L559.86,126.77L558.52,126.00L558.52,124.45L559.86,123.67L561.20,124.45ZM562.52,128.27L561.18,129.05L559.83,128.27L559.83,126.72L561.18,125.95L562.52,126.72ZM563.83,126.00L562.49,126.77L561.15,126.00L561.15,124.45L562.49,123.67L563.83,124.45ZM529.64,121.44L528.30,122.21L526.96,121.44L526.96,119.89L528.30,119.12L529.64,119.89ZM373.16,82.72L371.82,83.49L370.47,82.72L370.47,81.17L371.82,80.40L373.16,81.17ZM353.43,112.33L352.09,113.10L350.75,112.33L350.75,110.78L352.09,110.01L353.43,110.78ZM369.21,130.55L367.87,131.33L366.53,130.55L366.53,129.00L367.87,128.23L369.21,129.00Z" fill="#482475" stroke="#1e1a30" stroke-opacity="0.65" stroke-width="0.35"/>
<path d="M549.37,128.27L548.02,129.05L546.68,128.27L546.68,126.72L548.02,125.95L549.37,126.72ZM548.05,135.11L546.71,135.88L545.37,135.11L545.37,133.56L546.71,132.78L548.05,133.56ZM553.31,121.44L551.97,122.21L550.63,121.44L550.63,119.89L551.97,119.12L553.31,119.89ZM431.02,78.16L429.68,78.94L428.33,78.16L428.33,76.62L429.68,75.84L431.02,76.62ZM429.70,80.44L428.36,81.22L427.02,80.44L427.02,78.89L428.36,78.12L429.70,78.89ZM431.02,82.72L429.68,83.49L428.33,82.72L428.33,81.17L429.68,80.40L431.02,81.17ZM433.65,82.72L432.31,83.49L430.96,82.72L430.96,81.17L432.31,80.40L433.65,81.17ZM433.65,87.28L432.31,88.05L430.96,87.28L430.96,85.73L432.31,84.95L433.65,85.73ZM434.96,80.44L433.62,81.22L432.28,80.44L432.28,78.89L433.62,78.12L434.96,78.89ZM441.54,82.72L440.20,83.49L438.85,82.72L438.85,81.17L440.20,80.40L441.54,81.17ZM445.48,75.89L444.14,76.66L442.80,75.89L442.80,74.34L444.14,73.56L445.48,74.34ZM445.48,80.44L444.14,81.22L442.80,80.44L442.80,78.89L444.14,78.12L445.48,78.89ZM446.80,82.72L445.46,83.49L444.11,82.72L444.11,81.17L445.46,80.40L446.80,81.17ZM446.80,87.28L445.46,88.05L444.11,87.28L444.11,85.73L445.46,84.95L446.80,85.73ZM448.11,75.89L446.77,76.66L445.43,75.89L445.43,74.34L446.77,73.56L448.11,74.34ZM448.11,80.44L446.77,81.22L445.43,80.44L445.43,78.89L446.77,78.12L448.11,78.89ZM452.06,87.28L450.72,88.05L449.37,87.28L449.37,85.73L450.72,84.95L452.06,85.73ZM458.63,85.00L457.29,85.77L455.95,85.00L455.95,83.45L457.29,82.67L458.63,83.45ZM461.26,94.11L459.92,94.88L458.58,94.11L458.58,92.56L459.92,91.79L461.26,92.56ZM601.97,91.83L600.62,92.61L599.28,91.83L599.28,90.28L600.62,89.51L601.97,90.28ZM604.60,87.28L603.25,88.05L601.91,87.28L601.91,85.73L603.25,84.95L604.60,85.73ZM603.28,89.55L601.94,90.33L600.60,89.55L600.60,88.00L601.94,87.23L603.28,88.00ZM605.91,89.55L604.57,90.33L603.23,89.55L603.23,88.00L604.57,87.23L605.91,88.00ZM615.12,114.61L613.78,115.38L612.43,114.61L612.43,113.06L613.78,112.28L615.12,113.06ZM612.49,91.83L611.14,92.61L609.80,91.83L609.80,90.28L611.14,89.51L612.49,90.28ZM615.12,100.94L613.78,101.72L612.43,100.94L612.43,99.39L613.78,98.62L615.12,99.39ZM613.80,103.22L612.46,103.99L611.12,103.22L611.12,101.67L612.46,100.90L613.80,101.67ZM659.83,119.16L658.49,119.94L657.14,119.16L657.14,117.61L658.49,116.84L659.83,117.61ZM665.09,119.16L663.75,119.94L662.40,119.16L662.40,117.61L663.75,116.84L665.09,117.61ZM669.03,116.88L667.69,117.66L666.35,116.88L666.35,115.34L667.69,114.56L669.03,115.34ZM633.53,123.72L632.19,124.49L630.84,123.72L630.84,122.17L632.19,121.39L633.53,122.17ZM637.47,126.00L636.13,126.77L634.79,126.00L634.79,124.45L636.13,123.67L637.47,124.45ZM647.99,126.00L646.65,126.77L645.31,126.00L645.31,124.45L646.65,123.67L647.99,124.45ZM650.62,139.66L649.28,140.44L647.94,139.66L647.94,138.11L649.28,137.34L650.62,138.11ZM642.73,148.77L641.39,149.55L640.05,148.77L640.05,147.22L641.39,146.45L642.73,147.22ZM645.36,144.22L644.02,144.99L642.68,144.22L642.68,142.67L644.02,141.89L645.36,142.67ZM661.14,148.77L659.80,149.55L658.46,148.77L658.46,147.22L659.80,146.45L661.14,147.22ZM642.73,98.66L641.39,99.44L640.05,98.66L640.05,97.12L641.39,96.34L642.73,97.12ZM579.61,85.00L578.27,85.77L576.93,85.00L576.93,83.45L578.27,82.67L579.61,83.45ZM548.05,80.44L546.71,81.22L545.37,80.44L545.37,78.89L546.71,78.12L548.05,78.89ZM549.37,82.72L548.02,83.49L546.68,82.72L546.68,81.17L548.02,80.40L549.37,81.17ZM555.94,89.55L554.60,90.33L553.26,89.55L553.26,88.00L554.60,87.23L555.94,88.00ZM566.46,94.11L565.12,94.88L563.78,94.11L563.78,92.56L565.12,91.79L566.46,92.56ZM500.71,89.55L499.37,90.33L498.03,89.55L498.03,88.00L499.37,87.23L500.71,88.00ZM527.01,107.77L525.67,108.55L524.33,107.77L524.33,106.23L525.67,105.45L527.01,106.23Z" fill="#414487" stroke="#1e1a30" stroke-opacity="0.65" stroke-width="0.35"/>
<path d="M591.45,87.28L590.11,88.05L588.76,87.28L588.76,85.73L590.11,84.95L591.45,85.73ZM592.76,89.55L591.42,90.33L590.08,89.55L590.08,88.00L591.42,87.23L592.76,88.00ZM442.85,75.89L441.51,76.66L440.17,75.89L440.17,74.34L441.51,73.56L442.85,74.34ZM446.80,78.16L445.46,78.94L444.11,78.16L444.11,76.62L445.46,75.84L446.80,76.62ZM445.48,85.00L444.14,85.77L442.80,85.00L442.80,83.45L444.14,82.67L445.48,83.45ZM449.43,73.61L448.09,74.38L446.74,73.61L446.74,72.06L448.09,71.29L449.43,72.06ZM449.43,87.28L448.09,88.05L446.74,87.28L446.74,85.73L448.09,84.95L449.43,85.73ZM450.74,80.44L449.40,81.22L448.06,80.44L448.06,78.89L449.40,78.12L450.74,78.89ZM457.32,96.39L455.98,97.16L454.63,96.39L454.63,94.84L455.98,94.06L457.32,94.84ZM601.97,96.39L600.62,97.16L599.28,96.39L599.28,94.84L600.62,94.06L601.97,94.84ZM604.60,91.83L603.25,92.61L601.91,91.83L601.91,90.28L603.25,89.51L604.60,90.28ZM607.23,91.83L605.88,92.61L604.54,91.83L604.54,90.28L605.88,89.51L607.23,90.28ZM611.17,103.22L609.83,103.99L608.49,103.22L608.49,101.67L609.83,100.90L611.17,101.67ZM616.43,107.77L615.09,108.55L613.75,107.77L613.75,106.23L615.09,105.45L616.43,106.23ZM615.12,87.28L613.78,88.05L612.43,87.28L612.43,85.73L613.78,84.95L615.12,85.73ZM629.58,89.55L628.24,90.33L626.90,89.55L626.90,88.00L628.24,87.23L629.58,88.00ZM621.69,107.77L620.35,108.55L619.01,107.77L619.01,106.23L620.35,105.45L621.69,106.23ZM645.36,116.88L644.02,117.66L642.68,116.88L642.68,115.34L644.02,114.56L645.36,115.34ZM649.31,110.05L647.97,110.83L646.62,110.05L646.62,108.50L647.97,107.73L649.31,108.50ZM647.99,116.88L646.65,117.66L645.31,116.88L645.31,115.34L646.65,114.56L647.99,115.34ZM651.94,114.61L650.60,115.38L649.25,114.61L649.25,113.06L650.60,112.28L651.94,113.06ZM634.84,126.00L633.50,126.77L632.16,126.00L632.16,124.45L633.50,123.67L634.84,124.45ZM562.52,78.16L561.18,78.94L559.83,78.16L559.83,76.62L561.18,75.84L562.52,76.62ZM565.15,78.16L563.81,78.94L562.46,78.16L562.46,76.62L563.81,75.84L565.15,76.62ZM567.78,78.16L566.44,78.94L565.09,78.16L565.09,76.62L566.44,75.84L567.78,76.62ZM571.72,80.44L570.38,81.22L569.04,80.44L569.04,78.89L570.38,78.12L571.72,78.89ZM354.75,123.72L353.41,124.49L352.06,123.72L352.06,122.17L353.41,121.39L354.75,122.17Z" fill="#355f8d" stroke="#1e1a30" stroke-opacity="0.65" stroke-width="0.35"/>
<ellipse cx="515.15" cy="107.00" rx="169.25" ry="84.50" fill="none" stroke="#4a4a4a" stroke-width="0.9"/>
</g>
<g font-size="17.05" font-weight="bold" fill="#000">
<text transform="translate(62.0,13.9) scale(0.958,1)">Country−scale climate−smart</text>
<text transform="translate(406.8,13.9) scale(0.958,1)">Global−scale climate−smart</text>
</g>
<text transform="translate(342.3,199) scale(0.932,1)" font-size="14.6" font-weight="bold" text-anchor="middle" fill="#000">Percentage of selection (%)</text>
<defs><linearGradient id="vg" x1="0" x2="1" y1="0" y2="0"><stop offset="0%" stop-color="#440154"/><stop offset="10%" stop-color="#482475"/><stop offset="20%" stop-color="#414487"/><stop offset="30%" stop-color="#355f8d"/><stop offset="40%" stop-color="#2a788e"/><stop offset="50%" stop-color="#21918c"/><stop offset="60%" stop-color="#22a884"/><stop offset="70%" stop-color="#44bf70"/><stop offset="80%" stop-color="#7ad151"/><stop offset="90%" stop-color="#bddf26"/><stop offset="100%" stop-color="#fde725"/></linearGradient></defs>
<rect x="244" y="205.1" width="197.6" height="10.6" fill="url(#vg)"/>
<text x="244.1" y="228.9" font-size="12.7" text-anchor="middle" fill="#111">0</text>
<line x1="293.4" x2="293.4" y1="205.1" y2="207.2" stroke="#222" stroke-width="0.8"/>
<line x1="293.4" x2="293.4" y1="213.6" y2="215.7" stroke="#222" stroke-width="0.8"/>
<text x="293.4" y="228.9" font-size="12.7" text-anchor="middle" fill="#111">25</text>
<line x1="342.8" x2="342.8" y1="205.1" y2="207.2" stroke="#222" stroke-width="0.8"/>
<line x1="342.8" x2="342.8" y1="213.6" y2="215.7" stroke="#222" stroke-width="0.8"/>
<text x="342.8" y="228.9" font-size="12.7" text-anchor="middle" fill="#111">50</text>
<line x1="392.1" x2="392.1" y1="205.1" y2="207.2" stroke="#222" stroke-width="0.8"/>
<line x1="392.1" x2="392.1" y1="213.6" y2="215.7" stroke="#222" stroke-width="0.8"/>
<text x="392.1" y="228.9" font-size="12.7" text-anchor="middle" fill="#111">75</text>
<line x1="441.5" x2="441.5" y1="205.1" y2="207.2" stroke="#222" stroke-width="0.8"/>
<line x1="441.5" x2="441.5" y1="213.6" y2="215.7" stroke="#222" stroke-width="0.8"/>
<text x="441.5" y="228.9" font-size="12.7" text-anchor="middle" fill="#111">100</text>
<line x1="54.4" x2="682.0" y1="247.2" y2="247.2" stroke="#dedede" stroke-width="1"/>
<line x1="54.4" x2="682.0" y1="276.2" y2="276.2" stroke="#ebebeb" stroke-width="0.7"/>
<line x1="54.4" x2="682.0" y1="305.3" y2="305.3" stroke="#dedede" stroke-width="1"/>
<line x1="54.4" x2="682.0" y1="334.4" y2="334.4" stroke="#ebebeb" stroke-width="0.7"/>
<line x1="54.4" x2="682.0" y1="363.4" y2="363.4" stroke="#dedede" stroke-width="1"/>
<line x1="54.4" x2="682.0" y1="392.4" y2="392.4" stroke="#ebebeb" stroke-width="0.7"/>
<line x1="54.4" x2="682.0" y1="421.5" y2="421.5" stroke="#dedede" stroke-width="1"/>
<line x1="54.4" x2="682.0" y1="450.6" y2="450.6" stroke="#ebebeb" stroke-width="0.7"/>
<line x1="54.4" x2="682.0" y1="479.6" y2="479.6" stroke="#dedede" stroke-width="1"/>
<line x1="225.5" x2="225.5" y1="236.5" y2="490.9" stroke="#dedede" stroke-width="1"/>
<line x1="510.6" x2="510.6" y1="236.5" y2="490.9" stroke="#dedede" stroke-width="1"/>
<line x1="54.4" x2="682.0" y1="530.6" y2="530.6" stroke="#dedede" stroke-width="1"/>
<line x1="54.4" x2="682.0" y1="559.7" y2="559.7" stroke="#ebebeb" stroke-width="0.7"/>
<line x1="54.4" x2="682.0" y1="588.7" y2="588.7" stroke="#dedede" stroke-width="1"/>
<line x1="54.4" x2="682.0" y1="617.8" y2="617.8" stroke="#ebebeb" stroke-width="0.7"/>
<line x1="54.4" x2="682.0" y1="646.8" y2="646.8" stroke="#dedede" stroke-width="1"/>
<line x1="54.4" x2="682.0" y1="675.8" y2="675.8" stroke="#ebebeb" stroke-width="0.7"/>
<line x1="54.4" x2="682.0" y1="704.9" y2="704.9" stroke="#dedede" stroke-width="1"/>
<line x1="54.4" x2="682.0" y1="734.0" y2="734.0" stroke="#ebebeb" stroke-width="0.7"/>
<line x1="54.4" x2="682.0" y1="763.0" y2="763.0" stroke="#dedede" stroke-width="1"/>
<line x1="225.5" x2="225.5" y1="519.5" y2="774.1" stroke="#dedede" stroke-width="1"/>
<line x1="510.6" x2="510.6" y1="519.5" y2="774.1" stroke="#dedede" stroke-width="1"/>
<g fill="#23527c" fill-opacity="0.85">
<path d="M197.9,244.0L201.0,249.4L194.8,249.4Z"/>
<path d="M200.7,244.0L203.8,249.4L197.6,249.4Z"/>
<path d="M202.4,244.0L205.5,249.4L199.3,249.4Z"/>
<path d="M204.2,244.0L207.3,249.4L201.1,249.4Z"/>
<path d="M218.1,244.0L221.2,249.4L215.0,249.4Z"/>
<path d="M239.9,244.0L243.0,249.4L236.8,249.4Z"/>
<path d="M249.8,244.0L252.9,249.4L246.7,249.4Z"/>
<path d="M262.3,244.0L265.4,249.4L259.2,249.4Z"/>
<path d="M273.6,244.0L276.7,249.4L270.5,249.4Z"/>
<path d="M276.1,244.0L279.2,249.4L273.0,249.4Z"/>
<path d="M277.8,244.0L280.9,249.4L274.7,249.4Z"/>
<path d="M170.7,250.3L173.8,255.7L167.6,255.7Z"/>
<path d="M242.4,254.0L245.5,259.4L239.3,259.4Z"/>
<path d="M249.8,253.3L252.9,258.7L246.7,258.7Z"/>
<path d="M251.1,254.0L254.2,259.4L248.0,259.4Z"/>
<path d="M267.3,264.5L270.4,269.9L264.2,269.9Z"/>
<path d="M272.3,264.5L275.4,269.9L269.2,269.9Z"/>
<path d="M274.8,264.0L277.9,269.4L271.7,269.4Z"/>
<path d="M281.5,264.5L284.6,269.9L278.4,269.9Z"/>
<path d="M179.4,273.5L182.5,278.9L176.3,278.9Z"/>
<path d="M200.4,275.7L203.5,281.1L197.3,281.1Z"/>
<path d="M222.6,275.2L225.7,280.6L219.5,280.6Z"/>
<path d="M172.0,285.2L175.1,290.6L168.9,290.6Z"/>
<path d="M217.4,285.7L220.5,291.1L214.3,291.1Z"/>
<path d="M233.6,288.7L236.7,294.1L230.5,294.1Z"/>
<path d="M241.1,289.7L244.2,295.1L238.0,295.1Z"/>
<path d="M241.6,292.7L244.7,298.1L238.5,298.1Z"/>
<path d="M222.4,294.2L225.5,299.6L219.3,299.6Z"/>
<path d="M256.8,294.7L259.9,300.1L253.7,300.1Z"/>
<path d="M269.1,289.7L272.2,295.1L266.0,295.1Z"/>
<path d="M268.6,292.2L271.7,297.6L265.5,297.6Z"/>
<path d="M169.5,304.7L172.6,310.1L166.4,310.1Z"/>
<path d="M238.1,310.2L241.2,315.6L235.0,315.6Z"/>
<path d="M261.6,313.4L264.7,318.8L258.5,318.8Z"/>
<path d="M266.1,315.2L269.2,320.6L263.0,320.6Z"/>
<path d="M276.8,313.9L279.9,319.3L273.7,319.3Z"/>
<path d="M175.2,319.7L178.3,325.1L172.1,325.1Z"/>
<path d="M190.9,320.2L194.0,325.6L187.8,325.6Z"/>
<path d="M212.6,320.7L215.7,326.1L209.5,326.1Z"/>
<path d="M222.4,321.7L225.5,327.1L219.3,327.1Z"/>
<path d="M226.9,321.4L230.0,326.8L223.8,326.8Z"/>
<path d="M236.9,322.2L240.0,327.6L233.8,327.6Z"/>
<path d="M242.4,325.2L245.5,330.6L239.3,330.6Z"/>
<path d="M216.9,326.7L220.0,332.1L213.8,332.1Z"/>
<path d="M188.2,330.7L191.3,336.1L185.1,336.1Z"/>
<path d="M211.4,331.4L214.5,336.8L208.3,336.8Z"/>
<path d="M220.4,330.9L223.5,336.3L217.3,336.3Z"/>
<path d="M233.6,334.7L236.7,340.1L230.5,340.1Z"/>
<path d="M255.8,334.7L258.9,340.1L252.7,340.1Z"/>
<path d="M226.1,339.6L229.2,345.0L223.0,345.0Z"/>
<path d="M251.6,343.1L254.7,348.5L248.5,348.5Z"/>
<path d="M197.9,343.1L201.0,348.5L194.8,348.5Z"/>
<path d="M195.4,346.4L198.5,351.8L192.3,351.8Z"/>
<path d="M197.9,348.1L201.0,353.5L194.8,353.5Z"/>
<path d="M266.8,348.1L269.9,353.5L263.7,353.5Z"/>
<path d="M254.8,350.6L257.9,356.0L251.7,356.0Z"/>
<path d="M182.9,354.8L186.0,360.2L179.8,360.2Z"/>
<path d="M246.8,354.8L249.9,360.2L243.7,360.2Z"/>
<path d="M273.6,355.3L276.7,360.7L270.5,360.7Z"/>
<path d="M254.8,352.3L257.9,357.7L251.7,357.7Z"/>
<path d="M239.9,357.8L243.0,363.2L236.8,363.2Z"/>
<path d="M219.4,360.3L222.5,365.7L216.3,365.7Z"/>
<path d="M248.6,363.5L251.7,368.9L245.5,368.9Z"/>
<path d="M254.3,361.8L257.4,367.2L251.2,367.2Z"/>
<path d="M191.4,363.5L194.5,368.9L188.3,368.9Z"/>
<path d="M204.4,364.0L207.5,369.4L201.3,369.4Z"/>
<path d="M198.7,367.3L201.8,372.7L195.6,372.7Z"/>
<path d="M208.6,367.3L211.7,372.7L205.5,372.7Z"/>
<path d="M177.4,369.0L180.5,374.4L174.3,374.4Z"/>
<path d="M228.6,369.8L231.7,375.2L225.5,375.2Z"/>
<path d="M280.5,366.0L283.6,371.4L277.4,371.4Z"/>
<path d="M273.6,371.0L276.7,376.4L270.5,376.4Z"/>
<path d="M261.8,373.5L264.9,378.9L258.7,378.9Z"/>
<path d="M242.4,373.0L245.5,378.4L239.3,378.4Z"/>
<path d="M254.8,375.5L257.9,380.9L251.7,380.9Z"/>
<path d="M188.7,376.0L191.8,381.4L185.6,381.4Z"/>
<path d="M239.9,378.5L243.0,383.9L236.8,383.9Z"/>
<path d="M244.8,377.3L247.9,382.7L241.7,382.7Z"/>
<path d="M247.3,378.5L250.4,383.9L244.2,383.9Z"/>
<path d="M249.8,381.8L252.9,387.2L246.7,387.2Z"/>
<path d="M258.6,378.5L261.7,383.9L255.5,383.9Z"/>
<path d="M257.3,382.3L260.4,387.7L254.2,387.7Z"/>
<path d="M260.3,384.8L263.4,390.2L257.2,390.2Z"/>
<path d="M276.1,381.8L279.2,387.2L273.0,387.2Z"/>
<path d="M213.6,381.0L216.7,386.4L210.5,386.4Z"/>
<path d="M205.4,383.5L208.5,388.9L202.3,388.9Z"/>
<path d="M211.1,384.3L214.2,389.7L208.0,389.7Z"/>
<path d="M219.9,383.0L223.0,388.4L216.8,388.4Z"/>
<path d="M223.6,383.5L226.7,388.9L220.5,388.9Z"/>
<path d="M224.9,384.3L228.0,389.7L221.8,389.7Z"/>
<path d="M184.9,384.3L188.0,389.7L181.8,389.7Z"/>
<path d="M181.2,385.3L184.3,390.7L178.1,390.7Z"/>
<path d="M215.6,387.2L218.7,392.6L212.5,392.6Z"/>
<path d="M199.4,389.2L202.5,394.6L196.3,394.6Z"/>
<path d="M225.4,389.7L228.5,395.1L222.3,395.1Z"/>
<path d="M242.4,388.5L245.5,393.9L239.3,393.9Z"/>
<path d="M251.6,390.2L254.7,395.6L248.5,395.6Z"/>
<path d="M204.4,392.7L207.5,398.1L201.3,398.1Z"/>
<path d="M211.1,392.2L214.2,397.6L208.0,397.6Z"/>
<path d="M228.6,392.7L231.7,398.1L225.5,398.1Z"/>
<path d="M207.4,394.7L210.5,400.1L204.3,400.1Z"/>
<path d="M207.9,397.2L211.0,402.6L204.8,402.6Z"/>
<path d="M198.7,393.5L201.8,398.9L195.6,398.9Z"/>
<path d="M219.4,395.2L222.5,400.6L216.3,400.6Z"/>
<path d="M250.6,393.5L253.7,398.9L247.5,398.9Z"/>
<path d="M193.7,397.7L196.8,403.1L190.6,403.1Z"/>
<path d="M195.4,398.0L198.5,403.4L192.3,403.4Z"/>
<path d="M176.2,399.2L179.3,404.6L173.1,404.6Z"/>
<path d="M272.3,396.7L275.4,402.1L269.2,402.1Z"/>
<path d="M256.8,398.5L259.9,403.9L253.7,403.9Z"/>
<path d="M254.3,399.7L257.4,405.1L251.2,405.1Z"/>
<path d="M231.9,402.2L235.0,407.6L228.8,407.6Z"/>
<path d="M232.4,404.7L235.5,410.1L229.3,410.1Z"/>
<path d="M206.7,405.2L209.8,410.6L203.6,410.6Z"/>
<path d="M197.4,409.0L200.5,414.4L194.3,414.4Z"/>
<path d="M179.9,409.7L183.0,415.1L176.8,415.1Z"/>
<path d="M268.6,409.2L271.7,414.6L265.5,414.6Z"/>
<path d="M279.8,409.7L282.9,415.1L276.7,415.1Z"/>
<path d="M241.4,569.0L244.5,574.4L238.3,574.4Z"/>
<path d="M243.3,617.2L246.4,622.6L240.2,622.6Z"/>
<path d="M249.1,623.5L252.2,628.9L246.0,628.9Z"/>
<path d="M247.1,630.9L250.2,636.3L244.0,636.3Z"/>
<path d="M231.9,625.9L235.0,631.3L228.8,631.3Z"/>
<path d="M231.9,628.4L235.0,633.8L228.8,633.8Z"/>
<path d="M191.7,622.7L194.8,628.1L188.6,628.1Z"/>
<path d="M187.9,625.2L191.0,630.6L184.8,630.6Z"/>
<path d="M225.1,638.9L228.2,644.3L222.0,644.3Z"/>
<path d="M175.2,650.9L178.3,656.3L172.1,656.3Z"/>
<path d="M176.2,654.7L179.3,660.1L173.1,660.1Z"/>
<path d="M200.2,654.2L203.3,659.6L197.1,659.6Z"/>
<path d="M199.4,657.2L202.5,662.6L196.3,662.6Z"/>
<path d="M241.4,654.7L244.5,660.1L238.3,660.1Z"/>
<path d="M243.1,658.4L246.2,663.8L240.0,663.8Z"/>
<path d="M262.3,654.2L265.4,659.6L259.2,659.6Z"/>
<path d="M256.6,658.9L259.7,664.3L253.5,664.3Z"/>
<path d="M219.4,659.7L222.5,665.1L216.3,665.1Z"/>
<path d="M222.4,660.9L225.5,666.3L219.3,666.3Z"/>
<path d="M225.4,662.6L228.5,668.0L222.3,668.0Z"/>
<path d="M184.9,663.9L188.0,669.3L181.8,669.3Z"/>
<path d="M176.7,666.4L179.8,671.8L173.6,671.8Z"/>
<path d="M197.4,666.4L200.5,671.8L194.3,671.8Z"/>
<path d="M221.1,666.4L224.2,671.8L218.0,671.8Z"/>
<path d="M242.4,666.4L245.5,671.8L239.3,671.8Z"/>
<path d="M249.8,666.4L252.9,671.8L246.7,671.8Z"/>
<path d="M281.5,665.9L284.6,671.3L278.4,671.3Z"/>
<path d="M199.4,669.3L202.5,674.7L196.3,674.7Z"/>
<path d="M196.2,671.8L199.3,677.2L193.1,677.2Z"/>
<path d="M218.1,671.0L221.2,676.4L215.0,676.4Z"/>
<path d="M219.9,672.3L223.0,677.7L216.8,677.7Z"/>
<path d="M230.4,671.0L233.5,676.4L227.3,676.4Z"/>
<path d="M237.4,669.3L240.5,674.7L234.3,674.7Z"/>
<path d="M259.1,670.3L262.2,675.7L256.0,675.7Z"/>
<path d="M268.1,671.0L271.2,676.4L265.0,676.4Z"/>
<path d="M179.4,674.8L182.5,680.2L176.3,680.2Z"/>
<path d="M236.1,677.3L239.2,682.7L233.0,682.7Z"/>
<path d="M233.6,678.5L236.7,683.9L230.5,683.9Z"/>
<path d="M212.4,679.8L215.5,685.2L209.3,685.2Z"/>
<path d="M174.9,681.0L178.0,686.4L171.8,686.4Z"/>
<path d="M269.3,679.3L272.4,684.7L266.2,684.7Z"/>
<path d="M184.4,684.0L187.5,689.4L181.3,689.4Z"/>
<path d="M203.7,684.8L206.8,690.2L200.6,690.2Z"/>
<path d="M207.4,686.7L210.5,692.1L204.3,692.1Z"/>
<path d="M213.6,683.5L216.7,688.9L210.5,688.9Z"/>
<path d="M214.9,684.8L218.0,690.2L211.8,690.2Z"/>
<path d="M222.4,684.3L225.5,689.7L219.3,689.7Z"/>
<path d="M219.9,687.2L223.0,692.6L216.8,692.6Z"/>
<path d="M251.6,684.8L254.7,690.2L248.5,690.2Z"/>
<path d="M258.6,684.3L261.7,689.7L255.5,689.7Z"/>
<path d="M256.8,687.2L259.9,692.6L253.7,692.6Z"/>
<path d="M269.8,684.8L272.9,690.2L266.7,690.2Z"/>
<path d="M179.2,689.2L182.3,694.6L176.1,694.6Z"/>
<path d="M189.2,691.0L192.3,696.4L186.1,696.4Z"/>
<path d="M241.1,691.7L244.2,697.1L238.0,697.1Z"/>
<path d="M231.1,694.2L234.2,699.6L228.0,699.6Z"/>
<path d="M251.1,690.2L254.2,695.6L248.0,695.6Z"/>
<path d="M254.1,693.5L257.2,698.9L251.0,698.9Z"/>
<path d="M262.3,692.2L265.4,697.6L259.2,697.6Z"/>
<path d="M182.4,700.2L185.5,705.6L179.3,705.6Z"/>
<path d="M191.2,699.2L194.3,704.6L188.1,704.6Z"/>
<path d="M209.4,698.0L212.5,703.4L206.3,703.4Z"/>
<path d="M212.4,698.0L215.5,703.4L209.3,703.4Z"/>
<path d="M206.2,704.0L209.3,709.4L203.1,709.4Z"/>
<path d="M268.6,696.7L271.7,702.1L265.5,702.1Z"/>
<path d="M254.3,702.2L257.4,707.6L251.2,707.6Z"/>
<path d="M273.6,702.2L276.7,707.6L270.5,707.6Z"/>
<path d="M222.4,705.2L225.5,710.6L219.3,710.6Z"/>
<path d="M176.9,708.5L180.0,713.9L173.8,713.9Z"/>
<path d="M246.1,706.0L249.2,711.4L243.0,711.4Z"/>
<path d="M177.4,713.0L180.5,718.4L174.3,718.4Z"/>
<path d="M191.2,711.0L194.3,716.4L188.1,716.4Z"/>
<path d="M189.2,713.5L192.3,718.9L186.1,718.9Z"/>
<path d="M192.4,717.7L195.5,723.1L189.3,723.1Z"/>
<path d="M214.9,711.7L218.0,717.1L211.8,717.1Z"/>
<path d="M216.9,714.7L220.0,720.1L213.8,720.1Z"/>
<path d="M222.4,712.2L225.5,717.6L219.3,717.6Z"/>
<path d="M228.6,711.5L231.7,716.9L225.5,716.9Z"/>
<path d="M272.3,708.5L275.4,713.9L269.2,713.9Z"/>
<path d="M274.8,710.5L277.9,715.9L271.7,715.9Z"/>
<path d="M169.5,720.2L172.6,725.6L166.4,725.6Z"/>
<path d="M174.9,720.2L178.0,725.6L171.8,725.6Z"/>
<path d="M224.4,719.7L227.5,725.1L221.3,725.1Z"/>
<path d="M236.1,718.5L239.2,723.9L233.0,723.9Z"/>
<path d="M241.6,720.9L244.7,726.3L238.5,726.3Z"/>
<path d="M249.8,719.7L252.9,725.1L246.7,725.1Z"/>
<path d="M251.1,722.7L254.2,728.1L248.0,728.1Z"/>
<path d="M271.1,718.5L274.2,723.9L268.0,723.9Z"/>
<path d="M189.4,728.4L192.5,733.8L186.3,733.8Z"/>
<path d="M197.9,726.7L201.0,732.1L194.8,732.1Z"/>
<path d="M201.2,730.9L204.3,736.3L198.1,736.3Z"/>
<path d="M221.1,728.4L224.2,733.8L218.0,733.8Z"/>
<path d="M218.6,731.7L221.7,737.1L215.5,737.1Z"/>
<path d="M238.6,726.7L241.7,732.1L235.5,732.1Z"/>
<path d="M238.1,732.7L241.2,738.1L235.0,738.1Z"/>
<path d="M249.1,726.4L252.2,731.8L246.0,731.8Z"/>
<path d="M250.6,732.2L253.7,737.6L247.5,737.6Z"/>
<path d="M263.6,726.4L266.7,731.8L260.5,731.8Z"/>
<path d="M267.3,724.7L270.4,730.1L264.2,730.1Z"/>
<path d="M276.1,730.9L279.2,736.3L273.0,736.3Z"/>
<path d="M273.6,732.7L276.7,738.1L270.5,738.1Z"/>
<path d="M224.9,738.4L228.0,743.8L221.8,743.8Z"/>
<path d="M206.9,743.4L210.0,748.8L203.8,748.8Z"/>
<path d="M257.3,740.9L260.4,746.3L254.2,746.3Z"/>
<path d="M266.6,738.4L269.7,743.8L263.5,743.8Z"/>
<path d="M226.1,748.4L229.2,753.8L223.0,753.8Z"/>
<path d="M240.4,747.9L243.5,753.3L237.3,753.3Z"/>
<path d="M246.6,750.4L249.7,755.8L243.5,755.8Z"/>
<path d="M270.3,747.2L273.4,752.6L267.2,752.6Z"/>
<path d="M280.5,750.9L283.6,756.3L277.4,756.3Z"/>
</g>
<g fill="#4879a3" fill-opacity="0.72">
<circle cx="465.4" cy="251.0" r="2.75"/>
<circle cx="475.4" cy="248.7" r="2.75"/>
<circle cx="481.7" cy="248.0" r="2.75"/>
<circle cx="492.4" cy="247.5" r="2.75"/>
<circle cx="496.1" cy="247.5" r="2.75"/>
<circle cx="498.4" cy="248.7" r="2.75"/>
<circle cx="508.1" cy="247.5" r="2.75"/>
<circle cx="519.6" cy="247.5" r="2.75"/>
<circle cx="500.6" cy="259.5" r="2.75"/>
<circle cx="465.2" cy="271.7" r="2.75"/>
<circle cx="553.3" cy="262.5" r="2.75"/>
<circle cx="555.8" cy="266.0" r="2.75"/>
<circle cx="467.7" cy="297.4" r="2.75"/>
<circle cx="516.9" cy="295.4" r="2.75"/>
<circle cx="544.6" cy="299.9" r="2.75"/>
<circle cx="493.9" cy="313.6" r="2.75"/>
<circle cx="498.1" cy="316.1" r="2.75"/>
<circle cx="508.1" cy="326.4" r="2.75"/>
<circle cx="517.1" cy="322.4" r="2.75"/>
<circle cx="527.4" cy="327.9" r="2.75"/>
<circle cx="473.4" cy="337.1" r="2.75"/>
<circle cx="505.1" cy="343.3" r="2.75"/>
<circle cx="505.1" cy="352.8" r="2.75"/>
<circle cx="477.2" cy="359.2" r="2.75"/>
<circle cx="491.7" cy="358.0" r="2.75"/>
<circle cx="497.6" cy="361.0" r="2.75"/>
<circle cx="522.1" cy="358.0" r="2.75"/>
<circle cx="535.6" cy="360.0" r="2.75"/>
<circle cx="538.8" cy="363.2" r="2.75"/>
<circle cx="542.3" cy="357.0" r="2.75"/>
<circle cx="566.8" cy="366.5" r="2.75"/>
<circle cx="510.4" cy="370.5" r="2.75"/>
<circle cx="473.9" cy="374.2" r="2.75"/>
<circle cx="491.4" cy="373.7" r="2.75"/>
<circle cx="472.4" cy="380.7" r="2.75"/>
<circle cx="465.7" cy="386.2" r="2.75"/>
<circle cx="469.9" cy="387.0" r="2.75"/>
<circle cx="499.9" cy="385.7" r="2.75"/>
<circle cx="536.3" cy="384.5" r="2.75"/>
<circle cx="549.3" cy="385.2" r="2.75"/>
<circle cx="522.4" cy="392.4" r="2.75"/>
<circle cx="561.8" cy="391.2" r="2.75"/>
<circle cx="500.4" cy="396.2" r="2.75"/>
<circle cx="541.1" cy="396.2" r="2.75"/>
<circle cx="542.3" cy="397.9" r="2.75"/>
<circle cx="477.9" cy="399.9" r="2.75"/>
<circle cx="476.7" cy="405.7" r="2.75"/>
<circle cx="488.7" cy="404.4" r="2.75"/>
<circle cx="490.7" cy="408.4" r="2.75"/>
<circle cx="502.6" cy="405.7" r="2.75"/>
<circle cx="555.3" cy="404.9" r="2.75"/>
<circle cx="468.7" cy="415.2" r="2.75"/>
<circle cx="487.2" cy="414.4" r="2.75"/>
<circle cx="459.0" cy="418.7" r="2.75"/>
<circle cx="557.3" cy="415.2" r="2.75"/>
<circle cx="522.6" cy="419.7" r="2.75"/>
<circle cx="532.6" cy="432.4" r="2.75"/>
<circle cx="474.9" cy="438.4" r="2.75"/>
<circle cx="497.9" cy="439.9" r="2.75"/>
<circle cx="522.1" cy="442.4" r="2.75"/>
<circle cx="510.9" cy="444.9" r="2.75"/>
<circle cx="505.1" cy="458.1" r="2.75"/>
<circle cx="455.0" cy="477.3" r="2.75"/>
<circle cx="461.9" cy="478.1" r="2.75"/>
<circle cx="466.2" cy="478.6" r="2.75"/>
<circle cx="471.2" cy="478.6" r="2.75"/>
<circle cx="474.9" cy="478.6" r="2.75"/>
<circle cx="478.7" cy="478.6" r="2.75"/>
<circle cx="483.7" cy="478.6" r="2.75"/>
<circle cx="491.2" cy="478.6" r="2.75"/>
<circle cx="494.9" cy="478.6" r="2.75"/>
<circle cx="499.9" cy="478.6" r="2.75"/>
<circle cx="504.9" cy="478.6" r="2.75"/>
<circle cx="511.1" cy="477.6" r="2.75"/>
<circle cx="514.9" cy="478.6" r="2.75"/>
<circle cx="518.6" cy="478.6" r="2.75"/>
<circle cx="522.4" cy="478.6" r="2.75"/>
<circle cx="526.1" cy="478.6" r="2.75"/>
<circle cx="529.8" cy="478.6" r="2.75"/>
<circle cx="534.8" cy="478.6" r="2.75"/>
<circle cx="538.6" cy="478.6" r="2.75"/>
<circle cx="542.3" cy="478.6" r="2.75"/>
<circle cx="547.3" cy="478.6" r="2.75"/>
<circle cx="552.3" cy="478.6" r="2.75"/>
<circle cx="556.1" cy="478.6" r="2.75"/>
<circle cx="559.8" cy="478.6" r="2.75"/>
<circle cx="563.5" cy="478.6" r="2.75"/>
<circle cx="567.3" cy="478.6" r="2.75"/>
<circle cx="481.9" cy="478.6" r="2.75"/>
<circle cx="487.4" cy="478.6" r="2.75"/>
<circle cx="502.4" cy="478.6" r="2.75"/>
<circle cx="508.1" cy="478.6" r="2.75"/>
<circle cx="524.4" cy="478.6" r="2.75"/>
<circle cx="532.3" cy="478.6" r="2.75"/>
<circle cx="544.8" cy="478.6" r="2.75"/>
<circle cx="549.8" cy="478.6" r="2.75"/>
<circle cx="561.8" cy="478.6" r="2.75"/>
<circle cx="538.1" cy="530.5" r="2.75"/>
<circle cx="522.1" cy="572.7" r="2.75"/>
<circle cx="473.2" cy="587.2" r="2.75"/>
<circle cx="490.9" cy="604.6" r="2.75"/>
<circle cx="519.1" cy="619.9" r="2.75"/>
<circle cx="525.4" cy="616.6" r="2.75"/>
<circle cx="479.7" cy="620.6" r="2.75"/>
<circle cx="467.4" cy="622.4" r="2.75"/>
<circle cx="468.4" cy="633.3" r="2.75"/>
<circle cx="513.6" cy="628.6" r="2.75"/>
<circle cx="557.3" cy="638.6" r="2.75"/>
<circle cx="491.7" cy="651.0" r="2.75"/>
<circle cx="493.9" cy="654.5" r="2.75"/>
<circle cx="477.7" cy="657.5" r="2.75"/>
<circle cx="497.1" cy="658.7" r="2.75"/>
<circle cx="511.6" cy="660.5" r="2.75"/>
<circle cx="521.9" cy="661.2" r="2.75"/>
<circle cx="529.1" cy="658.0" r="2.75"/>
<circle cx="455.0" cy="665.5" r="2.75"/>
<circle cx="553.3" cy="664.2" r="2.75"/>
<circle cx="561.8" cy="662.5" r="2.75"/>
<circle cx="481.4" cy="670.2" r="2.75"/>
<circle cx="490.4" cy="671.7" r="2.75"/>
<circle cx="499.9" cy="673.7" r="2.75"/>
<circle cx="504.4" cy="676.7" r="2.75"/>
<circle cx="491.2" cy="676.9" r="2.75"/>
<circle cx="555.1" cy="670.7" r="2.75"/>
<circle cx="565.0" cy="671.5" r="2.75"/>
<circle cx="542.6" cy="674.4" r="2.75"/>
<circle cx="541.3" cy="678.7" r="2.75"/>
<circle cx="456.2" cy="679.4" r="2.75"/>
<circle cx="551.8" cy="688.4" r="2.75"/>
<circle cx="483.9" cy="691.2" r="2.75"/>
<circle cx="502.6" cy="689.9" r="2.75"/>
<circle cx="491.4" cy="694.9" r="2.75"/>
<circle cx="498.1" cy="694.9" r="2.75"/>
<circle cx="512.9" cy="694.9" r="2.75"/>
<circle cx="500.6" cy="697.9" r="2.75"/>
<circle cx="496.6" cy="700.7" r="2.75"/>
<circle cx="480.9" cy="699.9" r="2.75"/>
<circle cx="465.4" cy="696.9" r="2.75"/>
<circle cx="561.3" cy="694.4" r="2.75"/>
<circle cx="567.0" cy="700.4" r="2.75"/>
<circle cx="546.1" cy="698.2" r="2.75"/>
<circle cx="537.1" cy="699.4" r="2.75"/>
<circle cx="514.1" cy="703.2" r="2.75"/>
<circle cx="525.4" cy="703.7" r="2.75"/>
<circle cx="457.5" cy="714.6" r="2.75"/>
<circle cx="476.4" cy="712.4" r="2.75"/>
<circle cx="527.8" cy="713.9" r="2.75"/>
<circle cx="546.8" cy="715.6" r="2.75"/>
<circle cx="553.3" cy="712.1" r="2.75"/>
<circle cx="556.3" cy="709.9" r="2.75"/>
<circle cx="473.7" cy="721.4" r="2.75"/>
<circle cx="487.2" cy="724.4" r="2.75"/>
<circle cx="482.9" cy="726.1" r="2.75"/>
<circle cx="480.4" cy="728.1" r="2.75"/>
<circle cx="496.9" cy="726.6" r="2.75"/>
<circle cx="505.1" cy="725.9" r="2.75"/>
<circle cx="492.4" cy="728.4" r="2.75"/>
<circle cx="495.6" cy="730.4" r="2.75"/>
<circle cx="526.6" cy="726.6" r="2.75"/>
<circle cx="540.8" cy="724.9" r="2.75"/>
<circle cx="551.3" cy="729.1" r="2.75"/>
<circle cx="534.8" cy="731.1" r="2.75"/>
<circle cx="540.1" cy="731.9" r="2.75"/>
<circle cx="542.6" cy="734.9" r="2.75"/>
</g>
<line x1="139" x2="311" y1="362.4" y2="362.4" stroke="#0b3954" stroke-width="3.5"/>
<line x1="425.3" x2="596.5" y1="380.7" y2="380.7" stroke="#4682b4" stroke-width="3.5"/>
<line x1="139" x2="311" y1="669.4" y2="669.4" stroke="#0b3954" stroke-width="3.5"/>
<line x1="425.3" x2="596.5" y1="660.4" y2="660.4" stroke="#4682b4" stroke-width="3.5"/>
<g stroke="#0a0a0a" stroke-width="1.3" stroke-linecap="round">
<line x1="287.8" y1="247.2" x2="278.0" y2="247.2"/>
<line x1="210.6" y1="257.5" x2="239.9" y2="247.5"/>
<line x1="260.3" y1="256.0" x2="249.8" y2="247.0"/>
<line x1="285.5" y1="314.1" x2="277.3" y2="317.4"/>
<line x1="174.9" y1="351.8" x2="219.4" y2="363.0"/>
<line x1="146.2" y1="367.5" x2="178.7" y2="371.7"/>
<line x1="172.5" y1="377.5" x2="249.8" y2="366.2"/>
<line x1="146.2" y1="393.7" x2="181.2" y2="388.7"/>
<line x1="206.2" y1="423.6" x2="199.2" y2="397.4"/>
<line x1="486.2" y1="256.0" x2="491.9" y2="248.5"/>
<line x1="561.6" y1="252.5" x2="554.8" y2="261.7"/>
<line x1="460.7" y1="295.4" x2="465.7" y2="296.9"/>
<line x1="547.3" y1="349.1" x2="543.3" y2="355.8"/>
<line x1="577.8" y1="365.5" x2="569.3" y2="366.5"/>
<line x1="580.3" y1="388.7" x2="551.1" y2="385.2"/>
<line x1="532.8" y1="455.6" x2="529.8" y2="477.3"/>
<line x1="469.4" y1="474.8" x2="462.4" y2="478.1"/>
<line x1="592.8" y1="469.8" x2="568.5" y2="478.6"/>
<line x1="217.4" y1="622.4" x2="231.1" y2="628.6"/>
<line x1="266.8" y1="654.4" x2="262.8" y2="656.9"/>
<line x1="301.0" y1="660.4" x2="257.3" y2="661.9"/>
<line x1="157.5" y1="704.9" x2="214.9" y2="714.9"/>
<line x1="165.0" y1="730.6" x2="223.6" y2="722.9"/>
<line x1="189.9" y1="739.9" x2="196.9" y2="731.1"/>
<line x1="232.4" y1="756.1" x2="236.1" y2="722.4"/>
<line x1="278.0" y1="696.2" x2="251.8" y2="693.7"/>
<line x1="282.8" y1="710.4" x2="274.8" y2="705.7"/>
<line x1="516.9" y1="576.2" x2="521.1" y2="573.2"/>
<line x1="469.4" y1="591.9" x2="472.4" y2="587.9"/>
<line x1="512.9" y1="615.6" x2="518.1" y2="619.4"/>
<line x1="477.9" y1="642.3" x2="512.9" y2="629.1"/>
<line x1="535.6" y1="652.0" x2="529.8" y2="657.5"/>
<line x1="567.8" y1="666.2" x2="562.8" y2="663.0"/>
<line x1="562.3" y1="689.4" x2="561.3" y2="693.7"/>
<line x1="555.3" y1="719.4" x2="547.8" y2="716.1"/>
<line x1="494.1" y1="736.1" x2="495.6" y2="731.1"/>
</g>
<g font-size="9.6" fill="#111">
<text x="289.4" y="249.5">Antigua and Barbuda</text>
<text x="182.5" y="262.0">Aruba</text>
<text x="261.0" y="262.0">Barbados</text>
<text x="285.0" y="317.5">Tonga</text>
<text x="90.0" y="351.0">Papua New Guinea</text>
<text x="66.0" y="370.8">Equatorial Guinea</text>
<text x="141.5" y="380.0">Ghana</text>
<text x="72.5" y="397.5">Solomon Islands</text>
<text x="202.6" y="432.5">Haiti</text>
<text x="464.0" y="264.0">Tonga</text>
<text x="545.5" y="250.5">Equatorial Guinea</text>
<text x="431.5" y="298.0">Ghana</text>
<text x="519.0" y="347.5">Papua New Guinea</text>
<text x="581.3" y="370.0">Haiti</text>
<text x="583.0" y="395.0">Solomon Islands</text>
<text x="529.0" y="454.0">Antigua and Barbuda</text>
<text x="461.5" y="473.0">Aruba</text>
<text x="594.5" y="473.0">Barbados</text>
<text x="141.5" y="619.6">Republic of the Congo</text>
<text x="244.0" y="651.1">Costa Rica</text>
<text x="302.5" y="663.1">Guyana</text>
<text x="281.0" y="699.6">Wallis and Futuna Islands</text>
<text x="109.0" y="706.6">DR Congo</text>
<text x="284.0" y="715.1">Qatar</text>
<text x="126.5" y="733.1">Pakistan</text>
<text x="126.0" y="748.6">American Samoa</text>
<text x="223.5" y="764.6">Peru</text>
<text x="504.0" y="585.5">Qatar</text>
<text x="448.0" y="600.0">Pakistan</text>
<text x="492.0" y="618.0">Peru</text>
<text x="383.0" y="646.0">Republic of the Congo</text>
<text x="537.0" y="652.0">Costa Rica</text>
<text x="569.5" y="672.0">Guyana</text>
<text x="558.0" y="687.5">Wallis and Futuna Islands</text>
<text x="559.0" y="723.0">DR Congo</text>
<text x="454.0" y="743.5">American Samoa</text>
</g>
<g font-size="14.7" font-weight="bold" fill="#262626">
<text x="313.4" y="364.3">50.5%</text>
<text x="422.2" y="382.7" text-anchor="end">42.6%</text>
<text x="137.5" y="671.4" text-anchor="end">40.2</text>
<text x="423" y="662.4" text-anchor="end">44.1</text>
</g>
<rect x="54.4" y="236.5" width="627.6" height="254.4" fill="none" stroke="#4d4d4d" stroke-width="1.1"/>
<rect x="54.4" y="519.5" width="627.6" height="254.6" fill="none" stroke="#4d4d4d" stroke-width="1.1"/>
<g font-size="14.4" fill="#1f1f1f" text-anchor="end">
<line x1="50.6" x2="54.4" y1="248.8" y2="248.8" stroke="#333" stroke-width="1"/>
<text transform="translate(47.3,254.1) scale(0.885,1)">100</text>
<line x1="50.6" x2="54.4" y1="305.3" y2="305.3" stroke="#333" stroke-width="1"/>
<text transform="translate(47.3,310.6) scale(0.885,1)">75</text>
<line x1="50.6" x2="54.4" y1="363.4" y2="363.4" stroke="#333" stroke-width="1"/>
<text transform="translate(47.3,368.7) scale(0.885,1)">50</text>
<line x1="50.6" x2="54.4" y1="421.5" y2="421.5" stroke="#333" stroke-width="1"/>
<text transform="translate(47.3,426.8) scale(0.885,1)">25</text>
<line x1="50.6" x2="54.4" y1="479.6" y2="479.6" stroke="#333" stroke-width="1"/>
<text transform="translate(47.3,484.9) scale(0.885,1)">0</text>
<line x1="50.6" x2="54.4" y1="530.6" y2="530.6" stroke="#333" stroke-width="1"/>
<text transform="translate(47.3,535.9) scale(0.885,1)">100</text>
<line x1="50.6" x2="54.4" y1="588.7" y2="588.7" stroke="#333" stroke-width="1"/>
<text transform="translate(47.3,594.0) scale(0.885,1)">75</text>
<line x1="50.6" x2="54.4" y1="646.8" y2="646.8" stroke="#333" stroke-width="1"/>
<text transform="translate(47.3,652.1) scale(0.885,1)">50</text>
<line x1="50.6" x2="54.4" y1="704.9" y2="704.9" stroke="#333" stroke-width="1"/>
<text transform="translate(47.3,710.2) scale(0.885,1)">25</text>
<line x1="50.6" x2="54.4" y1="763.0" y2="763.0" stroke="#333" stroke-width="1"/>
<text transform="translate(47.3,768.3) scale(0.885,1)">0</text>
</g>
<g font-size="17" font-weight="bold" fill="#000" text-anchor="middle">
<text transform="translate(225.4,510.3) scale(0.958,1)">Country-scale</text>
<text transform="translate(511.5,510.3) scale(0.958,1)">Global-scale</text>
<text transform="translate(225.4,793.7) scale(0.958,1)">Country-scale</text>
<text transform="translate(511.5,793.7) scale(0.958,1)">Global-scale</text>
</g>
<g font-size="16.25" font-weight="bold" fill="#000" text-anchor="middle">
<text transform="translate(14.1,365.1) rotate(-90)">Mangrove area selected (%)</text>
<text transform="translate(14.1,648.2) rotate(-90)">Area−weighted climate resilience</text>
</g>
<g font-size="18.3" font-weight="bold" fill="#000">
<text x="8.1" y="13.6">a</text><text x="353.7" y="13.6">b</text><text x="8.1" y="233.2">c</text><text x="8.8" y="508.1">d</text>
</g>
</svg></body></html>
